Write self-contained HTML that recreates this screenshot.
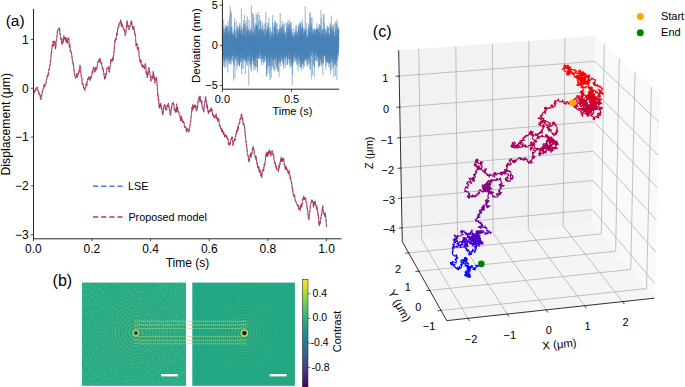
<!DOCTYPE html>
<html><head><meta charset="utf-8"><style>
html,body{margin:0;padding:0;background:#fff;}
svg{display:block;}
text{font-family:"Liberation Sans", sans-serif;fill:#000;}
</style></head><body>
<svg width="685" height="387" viewBox="0 0 685 387">
<defs><filter id="nz" x="0" y="0" width="100%" height="100%"><feTurbulence type="fractalNoise" baseFrequency="0.6" numOctaves="2" seed="3" result="t"/><feColorMatrix in="t" type="matrix" values="0 0 0 0 0.40  0 0 0 0 0.80  0 0 0 0 0.38  0 0 0 2.2 -1.0"/></filter><filter id="nz2" x="0" y="0" width="100%" height="100%"><feTurbulence type="fractalNoise" baseFrequency="0.55" numOctaves="1" seed="11" result="t"/><feColorMatrix in="t" type="matrix" values="0 0 0 0 0.13  0 0 0 0 0.55  0 0 0 0 0.55  0 0 0 2.2 -1.0"/></filter><radialGradient id="rgL" cx="135.9" cy="333.0" r="3.45" gradientUnits="userSpaceOnUse" spreadMethod="repeat"><stop offset="0.0000" stop-color="#57c566"/><stop offset="0.0625" stop-color="#52bf6a"/><stop offset="0.1250" stop-color="#49b670"/><stop offset="0.1875" stop-color="#3faa78"/><stop offset="0.2500" stop-color="#359e80"/><stop offset="0.3125" stop-color="#2c9487"/><stop offset="0.3750" stop-color="#268c8c"/><stop offset="0.4375" stop-color="#23898e"/><stop offset="0.5000" stop-color="#248b8d"/><stop offset="0.5625" stop-color="#299189"/><stop offset="0.6250" stop-color="#329a83"/><stop offset="0.6875" stop-color="#3ca67b"/><stop offset="0.7500" stop-color="#46b273"/><stop offset="0.8125" stop-color="#4fbc6c"/><stop offset="0.8750" stop-color="#55c467"/><stop offset="0.9375" stop-color="#58c765"/><stop offset="1.0000" stop-color="#57c566"/></radialGradient><radialGradient id="rgLm" cx="135.9" cy="333.0" r="55" gradientUnits="userSpaceOnUse"><stop offset="0" stop-color="#fff" stop-opacity="0.7"/><stop offset="0.2" stop-color="#fff" stop-opacity="0.38"/><stop offset="0.5" stop-color="#fff" stop-opacity="0.16"/><stop offset="1" stop-color="#fff" stop-opacity="0"/></radialGradient><mask id="rgLk" maskUnits="userSpaceOnUse" x="0" y="0" width="685" height="387"><circle cx="135.9" cy="333.0" r="55" fill="url(#rgLm)"/></mask><radialGradient id="rgR" cx="244.4" cy="333.1" r="3.0" gradientUnits="userSpaceOnUse" spreadMethod="repeat"><stop offset="0.0000" stop-color="#43b674"/><stop offset="0.0625" stop-color="#49be6f"/><stop offset="0.1250" stop-color="#4dc26c"/><stop offset="0.1875" stop-color="#4ec36b"/><stop offset="0.2500" stop-color="#4bbf6d"/><stop offset="0.3125" stop-color="#45b972"/><stop offset="0.3750" stop-color="#3daf78"/><stop offset="0.4375" stop-color="#35a57e"/><stop offset="0.5000" stop-color="#2c9b84"/><stop offset="0.5625" stop-color="#269389"/><stop offset="0.6250" stop-color="#228f8c"/><stop offset="0.6875" stop-color="#218e8d"/><stop offset="0.7500" stop-color="#24928b"/><stop offset="0.8125" stop-color="#2a9886"/><stop offset="0.8750" stop-color="#32a280"/><stop offset="0.9375" stop-color="#3aac7a"/><stop offset="1.0000" stop-color="#43b674"/></radialGradient><radialGradient id="rgRm" cx="244.4" cy="333.1" r="80" gradientUnits="userSpaceOnUse"><stop offset="0" stop-color="#fff" stop-opacity="0.9"/><stop offset="0.08" stop-color="#fff" stop-opacity="0.65"/><stop offset="0.25" stop-color="#fff" stop-opacity="0.25"/><stop offset="0.5" stop-color="#fff" stop-opacity="0.06"/><stop offset="1" stop-color="#fff" stop-opacity="0"/></radialGradient><mask id="rgRk" maskUnits="userSpaceOnUse" x="0" y="0" width="685" height="387"><circle cx="244.4" cy="333.1" r="80" fill="url(#rgRm)"/></mask><clipPath id="cL"><rect x="82" y="282.6" width="104" height="103.2"/></clipPath><clipPath id="cR"><rect x="192.3" y="282.6" width="102.6" height="103.2"/></clipPath><linearGradient id="cbg" x1="0" y1="279.3" x2="0" y2="387.3" gradientUnits="userSpaceOnUse"><stop offset="0.00" stop-color="#fde725"/><stop offset="0.05" stop-color="#dfe318"/><stop offset="0.10" stop-color="#bddf26"/><stop offset="0.15" stop-color="#9bd93c"/><stop offset="0.20" stop-color="#7ad151"/><stop offset="0.25" stop-color="#5ec962"/><stop offset="0.30" stop-color="#44bf70"/><stop offset="0.35" stop-color="#2fb47c"/><stop offset="0.40" stop-color="#22a884"/><stop offset="0.45" stop-color="#1e9c89"/><stop offset="0.50" stop-color="#21918c"/><stop offset="0.55" stop-color="#25848e"/><stop offset="0.60" stop-color="#2a788e"/><stop offset="0.65" stop-color="#2f6c8e"/><stop offset="0.70" stop-color="#355f8d"/><stop offset="0.75" stop-color="#3b528b"/><stop offset="0.80" stop-color="#414487"/><stop offset="0.85" stop-color="#463480"/><stop offset="0.90" stop-color="#482475"/><stop offset="0.95" stop-color="#471365"/><stop offset="1.00" stop-color="#440154"/></linearGradient></defs>
<rect width="685" height="387" fill="#fff"/>
<text x="5.7" y="26.1" font-size="15.5">(a)</text>
<polyline points="33.5,94.4 33.8,93.8 34.1,93.1 34.4,90.4 34.7,91.5 35,91.1 35.3,91.1 35.6,89.5 35.9,90.2 36.2,87.9 36.5,87.4 36.8,87.9 37.1,88.7 37.4,87.5 37.7,89 38,91 38.3,91.8 38.6,91.6 38.9,94.1 39.2,92.8 39.5,94 39.8,93.8 40.1,96 40.4,97.8 40.7,97.3 41,99.8 41.3,95.4 41.6,96.2 41.9,94.6 42.2,92.1 42.5,90.7 42.8,90.8 43.1,89.1 43.4,88 43.7,88 44,85 44.3,86.5 44.6,84.2 44.9,86.4 45.2,84.4 45.5,83.8 45.8,83.9 46.1,83 46.4,79.9 46.7,79.1 47,77.3 47.3,75.3 47.6,75.3 47.9,76.5 48.2,73.2 48.5,74.3 48.8,69.4 49.1,69.8 49.4,67.9 49.7,66.4 50,65.2 50.3,63.8 50.6,59.7 50.9,57.9 51.2,53.3 51.5,52.6 51.8,48.4 52.1,47.1 52.4,44.7 52.7,46.1 53,41 53.3,43.6 53.6,45.8 53.9,42.9 54.2,41.4 54.5,42.8 54.8,41.4 55.1,44.4 55.4,48.7 55.7,48.3 56,43.5 56.3,40.9 56.6,38.7 56.9,37.6 57.2,33.8 57.5,31.1 57.8,30.3 58.1,30.2 58.4,29.3 58.7,28.9 59,28.1 59.3,29.9 59.6,28.3 59.9,33.7 60.2,33.5 60.5,36 60.8,39.3 61.1,39.2 61.4,38.3 61.7,42 62,44.2 62.3,42.2 62.6,43.4 62.9,42.5 63.2,38.5 63.5,41.6 63.8,35.5 64.1,36.8 64.4,39 64.7,37.8 65,37.6 65.3,38.6 65.6,39.1 65.9,41.4 66.2,37.9 66.5,42 66.8,42.4 67.1,43.4 67.4,42.7 67.7,39.9 68,38 68.3,38.6 68.6,38.2 68.9,39.7 69.2,45.1 69.5,47.5 69.8,44.4 70.1,48.5 70.4,51.7 70.7,50.6 71,52.4 71.3,52.4 71.6,54.8 71.9,56.1 72.2,58.3 72.5,61.2 72.8,62.2 73.1,64.1 73.4,63.7 73.7,67.8 74,69.4 74.3,71.9 74.6,74.9 74.9,75.7 75.2,76.9 75.5,78 75.8,77.1 76.1,76.8 76.4,75.9 76.7,76.7 77,73.4 77.3,77.4 77.6,75.6 77.9,74.8 78.2,74.3 78.5,72.6 78.8,72.6 79.1,70 79.4,71.5 79.7,67.9 80,65 80.3,67.9 80.6,67.7 80.9,73.4 81.2,76.3 81.5,77.1 81.8,76.9 82.1,80.8 82.4,84.5 82.7,83.5 83,83.7 83.3,84.8 83.6,88.1 83.9,87.7 84.2,87.6 84.5,88.4 84.8,90.2 85.1,89.3 85.4,87.6 85.7,87.1 86,83.9 86.3,85 86.6,83.8 86.9,85.8 87.2,80.8 87.5,80.2 87.8,78.5 88.1,78.4 88.4,79.1 88.7,77.2 89,76.9 89.3,76.8 89.6,78.2 89.9,80.3 90.2,79.2 90.5,76.7 90.8,78.1 91.1,78.2 91.4,77.1 91.7,74.6 92,74.1 92.3,71.2 92.6,71.1 92.9,72.4 93.2,67 93.5,67.6 93.8,68.7 94.1,68.2 94.4,68.2 94.7,70.6 95,71.7 95.3,70.8 95.6,67.4 95.9,70.4 96.2,68.9 96.5,68.5 96.8,68.9 97.1,67 97.4,64.6 97.7,61.9 98,62.6 98.3,61.7 98.6,60.6 98.9,61.4 99.2,59.2 99.5,60 99.8,61.4 100.1,58.5 100.4,61.9 100.7,62 101,63.7 101.3,62.5 101.6,64.4 101.9,65.9 102.2,67.5 102.5,68.9 102.8,68 103.1,69.3 103.4,69.9 103.7,74.2 104,73.3 104.3,76.4 104.6,79 104.9,78 105.2,76.3 105.5,78 105.8,75.5 106.1,73.4 106.4,74.5 106.7,70.9 107,67.7 107.3,68.2 107.6,68.8 107.9,67.7 108.2,67.4 108.5,66.9 108.8,68.8 109.1,71.8 109.4,72.1 109.7,69.6 110,67.1 110.3,66.4 110.6,63.6 110.9,59.3 111.2,60.6 111.5,60.7 111.8,59.9 112.1,61.4 112.4,59.5 112.7,57.5 113,60.5 113.3,57.3 113.6,55.1 113.9,52.7 114.2,50.4 114.5,47.1 114.8,40.2 115.1,41.5 115.4,40.6 115.7,38.1 116,39 116.3,39.4 116.6,34.1 116.9,32.2 117.2,34.9 117.5,30.8 117.8,27.8 118.1,28.2 118.4,27.1 118.7,25.3 119,26.1 119.3,23.2 119.6,23.1 119.9,23.6 120.2,23.6 120.5,20 120.8,22 121.1,21.9 121.4,26.2 121.7,22.9 122,26.1 122.3,25 122.6,25.2 122.9,26.7 123.2,27.5 123.5,29.8 123.8,29.8 124.1,29.3 124.4,29.7 124.7,31.3 125,33.4 125.3,35.6 125.6,34.2 125.9,32.6 126.2,30.2 126.5,26.4 126.8,22.9 127.1,21 127.4,21.8 127.7,26.7 128,25 128.3,27.5 128.6,27.7 128.9,29.7 129.2,29.2 129.5,26.3 129.8,25.7 130.1,26.3 130.4,25 130.7,22.5 131,22 131.3,24.8 131.6,20.6 131.9,24.1 132.2,25.1 132.5,27.1 132.8,28.7 133.1,27.6 133.4,29.7 133.7,26.4 134,29.6 134.3,29.8 134.6,32.4 134.9,34.4 135.2,33.8 135.5,38 135.8,41.3 136.1,45.9 136.4,45.8 136.7,45.8 137,43.3 137.3,47.6 137.6,49.9 137.9,49.2 138.2,49 138.5,47.4 138.8,51.6 139.1,56.6 139.4,56.6 139.7,60.1 140,61.3 140.3,59.5 140.6,62.7 140.9,60 141.2,61.5 141.5,63 141.8,65.7 142.1,66.1 142.4,66.9 142.7,65.1 143,65.7 143.3,67 143.6,66.1 143.9,67.2 144.2,68.3 144.5,68.7 144.8,65.1 145.1,65 145.4,63.6 145.7,65.7 146,69.8 146.3,74.1 146.6,71.3 146.9,73.5 147.2,77.4 147.5,75.5 147.8,73.1 148.1,74.6 148.4,69.9 148.7,68.5 149,67.8 149.3,70.7 149.6,72.5 149.9,73 150.2,75.6 150.5,79.3 150.8,81.2 151.1,79.9 151.4,79.8 151.7,79.7 152,75.9 152.3,77.3 152.6,78.2 152.9,74.9 153.2,71.6 153.5,73.9 153.8,76.7 154.1,78.6 154.4,75.9 154.7,83.3 155,78.8 155.3,80.3 155.6,81 155.9,80.8 156.2,78 156.5,77.1 156.8,82.3 157.1,85.3 157.4,86.4 157.7,96 158,94.7 158.3,100.1 158.6,98.7 158.9,105.2 159.2,107.1 159.5,108.1 159.8,105.2 160.1,103.7 160.4,106.2 160.7,103.2 161,105.2 161.3,108.6 161.6,107.8 161.9,109.8 162.2,110.9 162.5,114.8 162.8,114.9 163.1,111.5 163.4,111.7 163.7,107.3 164,105.7 164.3,106 164.6,104.5 164.9,105.7 165.2,105.5 165.5,107.9 165.8,110.1 166.1,108.8 166.4,109.9 166.7,108.4 167,106.1 167.3,105 167.6,106.9 167.9,106.1 168.2,103.8 168.5,103.5 168.8,107.3 169.1,107.5 169.4,109.7 169.7,110.5 170,112.1 170.3,115 170.6,113.6 170.9,112.5 171.2,108.3 171.5,109.3 171.8,106 172.1,105.2 172.4,103.1 172.7,104.2 173,104.2 173.3,102.4 173.6,104.1 173.9,104.5 174.2,108.3 174.5,110.3 174.8,110.3 175.1,110.6 175.4,112.3 175.7,108.9 176,111.8 176.3,108.1 176.6,103.9 176.9,111.8 177.2,110 177.5,107.1 177.8,109.7 178.1,110.5 178.4,111.9 178.7,112.2 179,113.4 179.3,114.7 179.6,114.7 179.9,116 180.2,116.3 180.5,120.7 180.8,117.2 181.1,118.3 181.4,116.2 181.7,119 182,121 182.3,119.5 182.6,121.5 182.9,122.4 183.2,121.2 183.5,122.6 183.8,122.3 184.1,122.5 184.4,126 184.7,127.3 185,126.4 185.3,126.3 185.6,127.2 185.9,127.2 186.2,129.2 186.5,131.7 186.8,129.9 187.1,128.5 187.4,128.8 187.7,128.4 188,129.8 188.3,131.6 188.6,131.9 188.9,130.5 189.2,131 189.5,128.2 189.8,127 190.1,124.2 190.4,124.1 190.7,120.3 191,118.9 191.3,115 191.6,112.8 191.9,107.2 192.2,107.6 192.5,109.9 192.8,104.6 193.1,107.8 193.4,108.6 193.7,106.1 194,106.7 194.3,106.7 194.6,105 194.9,107.2 195.2,105.2 195.5,106.7 195.8,108 196.1,109.7 196.4,110.9 196.7,110.5 197,106 197.3,108.6 197.6,105.7 197.9,103.8 198.2,100.1 198.5,99.2 198.8,98.6 199.1,98.8 199.4,96.2 199.7,100.1 200,102 200.3,96.5 200.6,100.7 200.9,100.4 201.2,100.4 201.5,103.3 201.8,101.4 202.1,104.9 202.4,108.3 202.7,107.8 203,107.8 203.3,110.4 203.6,110.8 203.9,111.8 204.2,106.7 204.5,105.7 204.8,101.6 205.1,101.8 205.4,98 205.7,97 206,101 206.3,100.4 206.6,102.3 206.9,107.6 207.2,105 207.5,106 207.8,111.2 208.1,111.2 208.4,113.5 208.7,112.1 209,110.1 209.3,111 209.6,112.4 209.9,111.8 210.2,110.1 210.5,110.4 210.8,109 211.1,107.8 211.4,110.9 211.7,108.9 212,109.4 212.3,111.6 212.6,114.1 212.9,115.5 213.2,114.9 213.5,114.3 213.8,117 214.1,115.9 214.4,116.7 214.7,118.2 215,116.4 215.3,117.1 215.6,117.4 215.9,114.9 216.2,114 216.5,118.3 216.8,118 217.1,117.4 217.4,119.8 217.7,120.9 218,117.9 218.3,119.7 218.6,120.5 218.9,119.5 219.2,123.9 219.5,125.3 219.8,126 220.1,125.1 220.4,127.9 220.7,128.3 221,128.7 221.3,127.8 221.6,131.5 221.9,128.9 222.2,130.2 222.5,132.4 222.8,130.8 223.1,131 223.4,134.4 223.7,132.4 224,133.1 224.3,134.3 224.6,136.8 224.9,134.3 225.2,135.7 225.5,135.6 225.8,136.2 226.1,136.1 226.4,135.1 226.7,137.6 227,136.7 227.3,138.6 227.6,138.7 227.9,138.3 228.2,140.5 228.5,144.4 228.8,143.4 229.1,142.8 229.4,145.1 229.7,143.1 230,144.1 230.3,144.1 230.6,140.2 230.9,139.8 231.2,139.9 231.5,137.7 231.8,138.4 232.1,136.7 232.4,138.1 232.7,140.4 233,145.5 233.3,142.5 233.6,141.3 233.9,141.3 234.2,140.6 234.5,139.9 234.8,138.5 235.1,140.4 235.4,136.7 235.7,136.4 236,133.5 236.3,134.1 236.6,130.6 236.9,131.9 237.2,131.4 237.5,130.7 237.8,126.9 238.1,130 238.4,126.6 238.7,125.2 239,123.4 239.3,123.3 239.6,123.2 239.9,119.7 240.2,118.9 240.5,119.1 240.8,118.4 241.1,115.3 241.4,114.2 241.7,114.1 242,117.5 242.3,120.2 242.6,117.7 242.9,122.1 243.2,124 243.5,123.2 243.8,125.3 244.1,124.4 244.4,125.5 244.7,128.6 245,131.4 245.3,135.2 245.6,138.5 245.9,141.8 246.2,141.9 246.5,146.1 246.8,146.7 247.1,150 247.4,153.3 247.7,154.5 248,155.6 248.3,156.5 248.6,159.7 248.9,161.5 249.2,162 249.5,158.6 249.8,157.8 250.1,155 250.4,156.8 250.7,153.2 251,157.2 251.3,155.5 251.6,154.1 251.9,153 252.2,152 252.5,149.1 252.8,148.6 253.1,146.5 253.4,146.7 253.7,149.7 254,149.5 254.3,154.3 254.6,154.6 254.9,155.7 255.2,155.8 255.5,157.3 255.8,159.3 256.1,156.5 256.4,159.9 256.7,162 257,164.1 257.3,162.7 257.6,166.5 257.9,167.5 258.2,167.4 258.5,169 258.8,166.6 259.1,170.9 259.4,170 259.7,172.3 260,169.5 260.3,172.6 260.6,171.9 260.9,175.7 261.2,174.2 261.5,174.5 261.8,177.5 262.1,173.1 262.4,171.3 262.7,170.5 263,169.3 263.3,171.2 263.6,170.9 263.9,167.7 264.2,164.3 264.5,166.3 264.8,164 265.1,163 265.4,160.3 265.7,155.5 266,154.4 266.3,152.9 266.6,152.8 266.9,156.4 267.2,152.8 267.5,156.7 267.8,153.3 268.1,151.6 268.4,153.5 268.7,154.6 269,151.9 269.3,150 269.6,151.5 269.9,152.9 270.2,151.5 270.5,152.1 270.8,156 271.1,154.7 271.4,151.9 271.7,152.1 272,150.7 272.3,150.9 272.6,152.7 272.9,155.3 273.2,154.9 273.5,154.2 273.8,158.1 274.1,160.5 274.4,161 274.7,163.2 275,162.2 275.3,163.4 275.6,167 275.9,165.7 276.2,165.6 276.5,169.3 276.8,168 277.1,169.5 277.4,169.5 277.7,169.8 278,170.7 278.3,171.2 278.6,170.5 278.9,165.2 279.2,168.2 279.5,164.8 279.8,163.2 280.1,164.3 280.4,161.7 280.7,159.1 281,161.5 281.3,157.2 281.6,159.2 281.9,161 282.2,161.6 282.5,158.8 282.8,160 283.1,158.4 283.4,159.9 283.7,158.5 284,161.1 284.3,165.2 284.6,164.6 284.9,166 285.2,169.2 285.5,167.1 285.8,166.1 286.1,169 286.4,167.4 286.7,169.6 287,170.2 287.3,169.4 287.6,170.6 287.9,172.3 288.2,172.2 288.5,172.1 288.8,174.1 289.1,170.5 289.4,172.6 289.7,174.9 290,176.2 290.3,178.6 290.6,177.3 290.9,181.2 291.2,181.2 291.5,181.9 291.8,184.4 292.1,186.8 292.4,189.8 292.7,189.3 293,192 293.3,195.3 293.6,195.8 293.9,196.1 294.2,194.6 294.5,194.5 294.8,198.1 295.1,199 295.4,201.1 295.7,200.9 296,201.7 296.3,202.1 296.6,203.8 296.9,204.3 297.2,204.6 297.5,204.8 297.8,206.5 298.1,207 298.4,205.3 298.7,208.9 299,207.7 299.3,209.3 299.6,208.7 299.9,208.2 300.2,210.5 300.5,206.9 300.8,204.3 301.1,204.5 301.4,205.2 301.7,207.1 302,203.4 302.3,203.6 302.6,199.2 302.9,199.7 303.2,198 303.5,199 303.8,196.2 304.1,199.5 304.4,199.1 304.7,198.1 305,199.4 305.3,199.1 305.6,197.7 305.9,200.5 306.2,202.6 306.5,202.6 306.8,203.9 307.1,208.9 307.4,208.4 307.7,211.5 308,214.7 308.3,214.5 308.6,218.8 308.9,219.3 309.2,216.5 309.5,214 309.8,211.5 310.1,209.9 310.4,205.6 310.7,203.8 311,202.7 311.3,202.3 311.6,199.9 311.9,200.7 312.2,200.1 312.5,201.4 312.8,202.5 313.1,201.9 313.4,207 313.7,206 314,203.3 314.3,201.8 314.6,204.8 314.9,202.7 315.2,201.3 315.5,203.1 315.8,204.6 316.1,206.4 316.4,205.8 316.7,209.4 317,206.8 317.3,210.3 317.6,210 317.9,215.4 318.2,214 318.5,216.6 318.8,221.9 319.1,225.6 319.4,224.7 319.7,224.5 320,221.5 320.3,223.1 320.6,220.2 320.9,218.5 321.2,215.4 321.5,214.6 321.8,212.9 322.1,210.5 322.4,208.6 322.7,205.8 323,209.6 323.3,210.9 323.6,213.2 323.9,212.9 324.2,214.4 324.5,213.4 324.8,216.1 325.1,213 325.4,214.3 325.7,216.9 326,219.4 326.3,223 326.6,227.2" fill="none" stroke="#94aae2" stroke-width="1.35" stroke-dasharray="3.2 1.4" stroke-linejoin="round"/>
<polyline points="33.5,94.4 33.8,93.8 34.1,93.1 34.4,90.4 34.7,91.5 35,91.1 35.3,91.1 35.6,89.5 35.9,90.2 36.2,87.9 36.5,87.4 36.8,87.9 37.1,88.7 37.4,87.5 37.7,89 38,91 38.3,91.8 38.6,91.6 38.9,94.1 39.2,92.8 39.5,94 39.8,93.8 40.1,96 40.4,97.8 40.7,97.3 41,99.8 41.3,95.4 41.6,96.2 41.9,94.6 42.2,92.1 42.5,90.7 42.8,90.8 43.1,89.1 43.4,88 43.7,88 44,85 44.3,86.5 44.6,84.2 44.9,86.4 45.2,84.4 45.5,83.8 45.8,83.9 46.1,83 46.4,79.9 46.7,79.1 47,77.3 47.3,75.3 47.6,75.3 47.9,76.5 48.2,73.2 48.5,74.3 48.8,69.4 49.1,69.8 49.4,67.9 49.7,66.4 50,65.2 50.3,63.8 50.6,59.7 50.9,57.9 51.2,53.3 51.5,52.6 51.8,48.4 52.1,47.1 52.4,44.7 52.7,46.1 53,41 53.3,43.6 53.6,45.8 53.9,42.9 54.2,41.4 54.5,42.8 54.8,41.4 55.1,44.4 55.4,48.7 55.7,48.3 56,43.5 56.3,40.9 56.6,38.7 56.9,37.6 57.2,33.8 57.5,31.1 57.8,30.3 58.1,30.2 58.4,29.3 58.7,28.9 59,28.1 59.3,29.9 59.6,28.3 59.9,33.7 60.2,33.5 60.5,36 60.8,39.3 61.1,39.2 61.4,38.3 61.7,42 62,44.2 62.3,42.2 62.6,43.4 62.9,42.5 63.2,38.5 63.5,41.6 63.8,35.5 64.1,36.8 64.4,39 64.7,37.8 65,37.6 65.3,38.6 65.6,39.1 65.9,41.4 66.2,37.9 66.5,42 66.8,42.4 67.1,43.4 67.4,42.7 67.7,39.9 68,38 68.3,38.6 68.6,38.2 68.9,39.7 69.2,45.1 69.5,47.5 69.8,44.4 70.1,48.5 70.4,51.7 70.7,50.6 71,52.4 71.3,52.4 71.6,54.8 71.9,56.1 72.2,58.3 72.5,61.2 72.8,62.2 73.1,64.1 73.4,63.7 73.7,67.8 74,69.4 74.3,71.9 74.6,74.9 74.9,75.7 75.2,76.9 75.5,78 75.8,77.1 76.1,76.8 76.4,75.9 76.7,76.7 77,73.4 77.3,77.4 77.6,75.6 77.9,74.8 78.2,74.3 78.5,72.6 78.8,72.6 79.1,70 79.4,71.5 79.7,67.9 80,65 80.3,67.9 80.6,67.7 80.9,73.4 81.2,76.3 81.5,77.1 81.8,76.9 82.1,80.8 82.4,84.5 82.7,83.5 83,83.7 83.3,84.8 83.6,88.1 83.9,87.7 84.2,87.6 84.5,88.4 84.8,90.2 85.1,89.3 85.4,87.6 85.7,87.1 86,83.9 86.3,85 86.6,83.8 86.9,85.8 87.2,80.8 87.5,80.2 87.8,78.5 88.1,78.4 88.4,79.1 88.7,77.2 89,76.9 89.3,76.8 89.6,78.2 89.9,80.3 90.2,79.2 90.5,76.7 90.8,78.1 91.1,78.2 91.4,77.1 91.7,74.6 92,74.1 92.3,71.2 92.6,71.1 92.9,72.4 93.2,67 93.5,67.6 93.8,68.7 94.1,68.2 94.4,68.2 94.7,70.6 95,71.7 95.3,70.8 95.6,67.4 95.9,70.4 96.2,68.9 96.5,68.5 96.8,68.9 97.1,67 97.4,64.6 97.7,61.9 98,62.6 98.3,61.7 98.6,60.6 98.9,61.4 99.2,59.2 99.5,60 99.8,61.4 100.1,58.5 100.4,61.9 100.7,62 101,63.7 101.3,62.5 101.6,64.4 101.9,65.9 102.2,67.5 102.5,68.9 102.8,68 103.1,69.3 103.4,69.9 103.7,74.2 104,73.3 104.3,76.4 104.6,79 104.9,78 105.2,76.3 105.5,78 105.8,75.5 106.1,73.4 106.4,74.5 106.7,70.9 107,67.7 107.3,68.2 107.6,68.8 107.9,67.7 108.2,67.4 108.5,66.9 108.8,68.8 109.1,71.8 109.4,72.1 109.7,69.6 110,67.1 110.3,66.4 110.6,63.6 110.9,59.3 111.2,60.6 111.5,60.7 111.8,59.9 112.1,61.4 112.4,59.5 112.7,57.5 113,60.5 113.3,57.3 113.6,55.1 113.9,52.7 114.2,50.4 114.5,47.1 114.8,40.2 115.1,41.5 115.4,40.6 115.7,38.1 116,39 116.3,39.4 116.6,34.1 116.9,32.2 117.2,34.9 117.5,30.8 117.8,27.8 118.1,28.2 118.4,27.1 118.7,25.3 119,26.1 119.3,23.2 119.6,23.1 119.9,23.6 120.2,23.6 120.5,20 120.8,22 121.1,21.9 121.4,26.2 121.7,22.9 122,26.1 122.3,25 122.6,25.2 122.9,26.7 123.2,27.5 123.5,29.8 123.8,29.8 124.1,29.3 124.4,29.7 124.7,31.3 125,33.4 125.3,35.6 125.6,34.2 125.9,32.6 126.2,30.2 126.5,26.4 126.8,22.9 127.1,21 127.4,21.8 127.7,26.7 128,25 128.3,27.5 128.6,27.7 128.9,29.7 129.2,29.2 129.5,26.3 129.8,25.7 130.1,26.3 130.4,25 130.7,22.5 131,22 131.3,24.8 131.6,20.6 131.9,24.1 132.2,25.1 132.5,27.1 132.8,28.7 133.1,27.6 133.4,29.7 133.7,26.4 134,29.6 134.3,29.8 134.6,32.4 134.9,34.4 135.2,33.8 135.5,38 135.8,41.3 136.1,45.9 136.4,45.8 136.7,45.8 137,43.3 137.3,47.6 137.6,49.9 137.9,49.2 138.2,49 138.5,47.4 138.8,51.6 139.1,56.6 139.4,56.6 139.7,60.1 140,61.3 140.3,59.5 140.6,62.7 140.9,60 141.2,61.5 141.5,63 141.8,65.7 142.1,66.1 142.4,66.9 142.7,65.1 143,65.7 143.3,67 143.6,66.1 143.9,67.2 144.2,68.3 144.5,68.7 144.8,65.1 145.1,65 145.4,63.6 145.7,65.7 146,69.8 146.3,74.1 146.6,71.3 146.9,73.5 147.2,77.4 147.5,75.5 147.8,73.1 148.1,74.6 148.4,69.9 148.7,68.5 149,67.8 149.3,70.7 149.6,72.5 149.9,73 150.2,75.6 150.5,79.3 150.8,81.2 151.1,79.9 151.4,79.8 151.7,79.7 152,75.9 152.3,77.3 152.6,78.2 152.9,74.9 153.2,71.6 153.5,73.9 153.8,76.7 154.1,78.6 154.4,75.9 154.7,83.3 155,78.8 155.3,80.3 155.6,81 155.9,80.8 156.2,78 156.5,77.1 156.8,82.3 157.1,85.3 157.4,86.4 157.7,96 158,94.7 158.3,100.1 158.6,98.7 158.9,105.2 159.2,107.1 159.5,108.1 159.8,105.2 160.1,103.7 160.4,106.2 160.7,103.2 161,105.2 161.3,108.6 161.6,107.8 161.9,109.8 162.2,110.9 162.5,114.8 162.8,114.9 163.1,111.5 163.4,111.7 163.7,107.3 164,105.7 164.3,106 164.6,104.5 164.9,105.7 165.2,105.5 165.5,107.9 165.8,110.1 166.1,108.8 166.4,109.9 166.7,108.4 167,106.1 167.3,105 167.6,106.9 167.9,106.1 168.2,103.8 168.5,103.5 168.8,107.3 169.1,107.5 169.4,109.7 169.7,110.5 170,112.1 170.3,115 170.6,113.6 170.9,112.5 171.2,108.3 171.5,109.3 171.8,106 172.1,105.2 172.4,103.1 172.7,104.2 173,104.2 173.3,102.4 173.6,104.1 173.9,104.5 174.2,108.3 174.5,110.3 174.8,110.3 175.1,110.6 175.4,112.3 175.7,108.9 176,111.8 176.3,108.1 176.6,103.9 176.9,111.8 177.2,110 177.5,107.1 177.8,109.7 178.1,110.5 178.4,111.9 178.7,112.2 179,113.4 179.3,114.7 179.6,114.7 179.9,116 180.2,116.3 180.5,120.7 180.8,117.2 181.1,118.3 181.4,116.2 181.7,119 182,121 182.3,119.5 182.6,121.5 182.9,122.4 183.2,121.2 183.5,122.6 183.8,122.3 184.1,122.5 184.4,126 184.7,127.3 185,126.4 185.3,126.3 185.6,127.2 185.9,127.2 186.2,129.2 186.5,131.7 186.8,129.9 187.1,128.5 187.4,128.8 187.7,128.4 188,129.8 188.3,131.6 188.6,131.9 188.9,130.5 189.2,131 189.5,128.2 189.8,127 190.1,124.2 190.4,124.1 190.7,120.3 191,118.9 191.3,115 191.6,112.8 191.9,107.2 192.2,107.6 192.5,109.9 192.8,104.6 193.1,107.8 193.4,108.6 193.7,106.1 194,106.7 194.3,106.7 194.6,105 194.9,107.2 195.2,105.2 195.5,106.7 195.8,108 196.1,109.7 196.4,110.9 196.7,110.5 197,106 197.3,108.6 197.6,105.7 197.9,103.8 198.2,100.1 198.5,99.2 198.8,98.6 199.1,98.8 199.4,96.2 199.7,100.1 200,102 200.3,96.5 200.6,100.7 200.9,100.4 201.2,100.4 201.5,103.3 201.8,101.4 202.1,104.9 202.4,108.3 202.7,107.8 203,107.8 203.3,110.4 203.6,110.8 203.9,111.8 204.2,106.7 204.5,105.7 204.8,101.6 205.1,101.8 205.4,98 205.7,97 206,101 206.3,100.4 206.6,102.3 206.9,107.6 207.2,105 207.5,106 207.8,111.2 208.1,111.2 208.4,113.5 208.7,112.1 209,110.1 209.3,111 209.6,112.4 209.9,111.8 210.2,110.1 210.5,110.4 210.8,109 211.1,107.8 211.4,110.9 211.7,108.9 212,109.4 212.3,111.6 212.6,114.1 212.9,115.5 213.2,114.9 213.5,114.3 213.8,117 214.1,115.9 214.4,116.7 214.7,118.2 215,116.4 215.3,117.1 215.6,117.4 215.9,114.9 216.2,114 216.5,118.3 216.8,118 217.1,117.4 217.4,119.8 217.7,120.9 218,117.9 218.3,119.7 218.6,120.5 218.9,119.5 219.2,123.9 219.5,125.3 219.8,126 220.1,125.1 220.4,127.9 220.7,128.3 221,128.7 221.3,127.8 221.6,131.5 221.9,128.9 222.2,130.2 222.5,132.4 222.8,130.8 223.1,131 223.4,134.4 223.7,132.4 224,133.1 224.3,134.3 224.6,136.8 224.9,134.3 225.2,135.7 225.5,135.6 225.8,136.2 226.1,136.1 226.4,135.1 226.7,137.6 227,136.7 227.3,138.6 227.6,138.7 227.9,138.3 228.2,140.5 228.5,144.4 228.8,143.4 229.1,142.8 229.4,145.1 229.7,143.1 230,144.1 230.3,144.1 230.6,140.2 230.9,139.8 231.2,139.9 231.5,137.7 231.8,138.4 232.1,136.7 232.4,138.1 232.7,140.4 233,145.5 233.3,142.5 233.6,141.3 233.9,141.3 234.2,140.6 234.5,139.9 234.8,138.5 235.1,140.4 235.4,136.7 235.7,136.4 236,133.5 236.3,134.1 236.6,130.6 236.9,131.9 237.2,131.4 237.5,130.7 237.8,126.9 238.1,130 238.4,126.6 238.7,125.2 239,123.4 239.3,123.3 239.6,123.2 239.9,119.7 240.2,118.9 240.5,119.1 240.8,118.4 241.1,115.3 241.4,114.2 241.7,114.1 242,117.5 242.3,120.2 242.6,117.7 242.9,122.1 243.2,124 243.5,123.2 243.8,125.3 244.1,124.4 244.4,125.5 244.7,128.6 245,131.4 245.3,135.2 245.6,138.5 245.9,141.8 246.2,141.9 246.5,146.1 246.8,146.7 247.1,150 247.4,153.3 247.7,154.5 248,155.6 248.3,156.5 248.6,159.7 248.9,161.5 249.2,162 249.5,158.6 249.8,157.8 250.1,155 250.4,156.8 250.7,153.2 251,157.2 251.3,155.5 251.6,154.1 251.9,153 252.2,152 252.5,149.1 252.8,148.6 253.1,146.5 253.4,146.7 253.7,149.7 254,149.5 254.3,154.3 254.6,154.6 254.9,155.7 255.2,155.8 255.5,157.3 255.8,159.3 256.1,156.5 256.4,159.9 256.7,162 257,164.1 257.3,162.7 257.6,166.5 257.9,167.5 258.2,167.4 258.5,169 258.8,166.6 259.1,170.9 259.4,170 259.7,172.3 260,169.5 260.3,172.6 260.6,171.9 260.9,175.7 261.2,174.2 261.5,174.5 261.8,177.5 262.1,173.1 262.4,171.3 262.7,170.5 263,169.3 263.3,171.2 263.6,170.9 263.9,167.7 264.2,164.3 264.5,166.3 264.8,164 265.1,163 265.4,160.3 265.7,155.5 266,154.4 266.3,152.9 266.6,152.8 266.9,156.4 267.2,152.8 267.5,156.7 267.8,153.3 268.1,151.6 268.4,153.5 268.7,154.6 269,151.9 269.3,150 269.6,151.5 269.9,152.9 270.2,151.5 270.5,152.1 270.8,156 271.1,154.7 271.4,151.9 271.7,152.1 272,150.7 272.3,150.9 272.6,152.7 272.9,155.3 273.2,154.9 273.5,154.2 273.8,158.1 274.1,160.5 274.4,161 274.7,163.2 275,162.2 275.3,163.4 275.6,167 275.9,165.7 276.2,165.6 276.5,169.3 276.8,168 277.1,169.5 277.4,169.5 277.7,169.8 278,170.7 278.3,171.2 278.6,170.5 278.9,165.2 279.2,168.2 279.5,164.8 279.8,163.2 280.1,164.3 280.4,161.7 280.7,159.1 281,161.5 281.3,157.2 281.6,159.2 281.9,161 282.2,161.6 282.5,158.8 282.8,160 283.1,158.4 283.4,159.9 283.7,158.5 284,161.1 284.3,165.2 284.6,164.6 284.9,166 285.2,169.2 285.5,167.1 285.8,166.1 286.1,169 286.4,167.4 286.7,169.6 287,170.2 287.3,169.4 287.6,170.6 287.9,172.3 288.2,172.2 288.5,172.1 288.8,174.1 289.1,170.5 289.4,172.6 289.7,174.9 290,176.2 290.3,178.6 290.6,177.3 290.9,181.2 291.2,181.2 291.5,181.9 291.8,184.4 292.1,186.8 292.4,189.8 292.7,189.3 293,192 293.3,195.3 293.6,195.8 293.9,196.1 294.2,194.6 294.5,194.5 294.8,198.1 295.1,199 295.4,201.1 295.7,200.9 296,201.7 296.3,202.1 296.6,203.8 296.9,204.3 297.2,204.6 297.5,204.8 297.8,206.5 298.1,207 298.4,205.3 298.7,208.9 299,207.7 299.3,209.3 299.6,208.7 299.9,208.2 300.2,210.5 300.5,206.9 300.8,204.3 301.1,204.5 301.4,205.2 301.7,207.1 302,203.4 302.3,203.6 302.6,199.2 302.9,199.7 303.2,198 303.5,199 303.8,196.2 304.1,199.5 304.4,199.1 304.7,198.1 305,199.4 305.3,199.1 305.6,197.7 305.9,200.5 306.2,202.6 306.5,202.6 306.8,203.9 307.1,208.9 307.4,208.4 307.7,211.5 308,214.7 308.3,214.5 308.6,218.8 308.9,219.3 309.2,216.5 309.5,214 309.8,211.5 310.1,209.9 310.4,205.6 310.7,203.8 311,202.7 311.3,202.3 311.6,199.9 311.9,200.7 312.2,200.1 312.5,201.4 312.8,202.5 313.1,201.9 313.4,207 313.7,206 314,203.3 314.3,201.8 314.6,204.8 314.9,202.7 315.2,201.3 315.5,203.1 315.8,204.6 316.1,206.4 316.4,205.8 316.7,209.4 317,206.8 317.3,210.3 317.6,210 317.9,215.4 318.2,214 318.5,216.6 318.8,221.9 319.1,225.6 319.4,224.7 319.7,224.5 320,221.5 320.3,223.1 320.6,220.2 320.9,218.5 321.2,215.4 321.5,214.6 321.8,212.9 322.1,210.5 322.4,208.6 322.7,205.8 323,209.6 323.3,210.9 323.6,213.2 323.9,212.9 324.2,214.4 324.5,213.4 324.8,216.1 325.1,213 325.4,214.3 325.7,216.9 326,219.4 326.3,223 326.6,227.2" fill="none" stroke="#c2283c" stroke-width="1.05" stroke-dasharray="3.4 1.2" stroke-dashoffset="2.3" stroke-linejoin="round" opacity="0.95"/>
<line x1="33.5" y1="9" x2="33.5" y2="239.3" stroke="#262626" stroke-width="1"/>
<line x1="33" y1="238.8" x2="341.6" y2="238.8" stroke="#262626" stroke-width="1"/>
<line x1="30.8" y1="39.46" x2="33.5" y2="39.46" stroke="#262626" stroke-width="0.8"/>
<text x="28.6" y="43.76" font-size="12" text-anchor="end">1</text>
<line x1="30.8" y1="88.27" x2="33.5" y2="88.27" stroke="#262626" stroke-width="0.8"/>
<text x="28.6" y="92.57" font-size="12" text-anchor="end">0</text>
<line x1="30.8" y1="137.08" x2="33.5" y2="137.08" stroke="#262626" stroke-width="0.8"/>
<text x="28.6" y="141.38" font-size="12" text-anchor="end">−1</text>
<line x1="30.8" y1="185.89" x2="33.5" y2="185.89" stroke="#262626" stroke-width="0.8"/>
<text x="28.6" y="190.19" font-size="12" text-anchor="end">−2</text>
<line x1="30.8" y1="234.7" x2="33.5" y2="234.7" stroke="#262626" stroke-width="0.8"/>
<text x="28.6" y="239" font-size="12" text-anchor="end">−3</text>
<line x1="33.3" y1="238.8" x2="33.3" y2="241.3" stroke="#262626" stroke-width="0.8"/>
<text x="33.3" y="252.5" font-size="12" text-anchor="middle">0.0</text>
<line x1="91.94" y1="238.8" x2="91.94" y2="241.3" stroke="#262626" stroke-width="0.8"/>
<text x="91.94" y="252.5" font-size="12" text-anchor="middle">0.2</text>
<line x1="150.58" y1="238.8" x2="150.58" y2="241.3" stroke="#262626" stroke-width="0.8"/>
<text x="150.58" y="252.5" font-size="12" text-anchor="middle">0.4</text>
<line x1="209.22" y1="238.8" x2="209.22" y2="241.3" stroke="#262626" stroke-width="0.8"/>
<text x="209.22" y="252.5" font-size="12" text-anchor="middle">0.6</text>
<line x1="267.86" y1="238.8" x2="267.86" y2="241.3" stroke="#262626" stroke-width="0.8"/>
<text x="267.86" y="252.5" font-size="12" text-anchor="middle">0.8</text>
<line x1="326.5" y1="238.8" x2="326.5" y2="241.3" stroke="#262626" stroke-width="0.8"/>
<text x="326.5" y="252.5" font-size="12" text-anchor="middle">1.0</text>
<text x="187.5" y="266.8" font-size="12" text-anchor="middle">Time (s)</text>
<text transform="translate(9.6,124.2) rotate(-90)" font-size="12.2" text-anchor="middle">Displacement (μm)</text>
<line x1="93" y1="186.3" x2="122.5" y2="186.3" stroke="#4a78d4" stroke-width="1.5" stroke-dasharray="5.1 3.1"/>
<line x1="93" y1="217" x2="122.5" y2="217" stroke="#d03038" stroke-width="1.5" stroke-dasharray="5.1 3.1"/>
<text x="128" y="190.3" font-size="10.8">LSE</text>
<text x="128.4" y="221" font-size="10.8">Proposed model</text>
<polyline points="222.6,42.57 222.63,46.83 222.66,35.86 222.69,33.61 222.72,55.88 222.75,52.88 222.78,30.44 222.81,31.68 222.84,52.47 222.88,56.73 222.91,51.49 222.94,53.03 222.97,60.61 223,44.87 223.03,57.69 223.06,57.01 223.09,36.52 223.12,51.93 223.15,46.04 223.18,39.29 223.21,37.51 223.24,48.6 223.27,44.92 223.3,53.3 223.33,28.51 223.36,39.09 223.4,55.98 223.43,45.31 223.46,34.35 223.49,40.73 223.52,27.72 223.55,32.13 223.58,53.66 223.61,46.72 223.64,57.7 223.67,41.5 223.7,43.89 223.73,19.3 223.76,43.85 223.79,65.52 223.82,51.83 223.85,44.27 223.88,57.45 223.92,53.71 223.95,48.87 223.98,42.06 224.01,46.94 224.04,53.92 224.07,37.76 224.1,50.55 224.13,50.16 224.16,66.62 224.19,52.92 224.22,39.07 224.25,60.94 224.28,46.04 224.31,38.43 224.34,48.98 224.37,43.04 224.4,56.11 224.44,32.72 224.47,34.74 224.5,41.72 224.53,62.26 224.56,55.43 224.59,35.94 224.62,28.84 224.65,42.49 224.68,33.33 224.71,54.72 224.74,47.17 224.77,45.34 224.8,41.27 224.83,60.08 224.86,36.29 224.89,32.61 224.92,56.42 224.96,58.41 224.99,41.97 225.02,51.65 225.05,68.2 225.08,37.56 225.11,43.85 225.14,49.94 225.17,24.98 225.2,43.21 225.23,56.97 225.26,43.79 225.29,55.37 225.32,52.69 225.35,41.63 225.38,50.69 225.41,49.7 225.44,29.27 225.48,37.07 225.51,37.61 225.54,40.25 225.57,40.68 225.6,31.31 225.63,45.54 225.66,27.47 225.69,54.52 225.72,47.81 225.75,58.63 225.78,48.66 225.81,40.35 225.84,31.37 225.87,51.74 225.9,45.3 225.93,48.81 225.96,52.47 226,56.81 226.03,44.77 226.06,62.04 226.09,44.28 226.12,45.15 226.15,51.69 226.18,55.09 226.21,58.69 226.24,27.32 226.27,58.28 226.3,30.34 226.33,39.57 226.36,48.86 226.39,56.5 226.42,35.3 226.45,28.68 226.48,54.35 226.52,48.23 226.55,35.22 226.58,42.11 226.61,26.08 226.64,50.84 226.67,40.12 226.7,57.4 226.73,25.15 226.76,52.39 226.79,66.63 226.82,46.56 226.85,46.69 226.88,26.89 226.91,48.61 226.94,45.47 226.97,39.63 227,30.06 227.04,45.96 227.07,35.33 227.1,40.36 227.13,48.2 227.16,44.6 227.19,45.07 227.22,54.18 227.25,33.65 227.28,58.7 227.31,34.06 227.34,36.15 227.37,46.25 227.4,52.73 227.43,47.53 227.46,40.79 227.49,38.19 227.52,42.59 227.56,35.79 227.59,50.72 227.62,43.09 227.65,60.46 227.68,37.99 227.71,43.87 227.74,49.35 227.77,34.16 227.8,38.69 227.83,72.49 227.86,44.97 227.89,59.37 227.92,35.07 227.95,21.37 227.98,50.35 228.01,44.63 228.04,47.77 228.08,41.97 228.11,39.14 228.14,25.5 228.17,54.86 228.2,30.21 228.23,54.33 228.26,42.68 228.29,34.19 228.32,38.48 228.35,54.39 228.38,52.11 228.41,49.81 228.44,45.84 228.47,34.3 228.5,57.8 228.53,40.85 228.56,39.47 228.6,39.97 228.63,40.86 228.66,30.72 228.69,40.65 228.72,37.09 228.75,39.92 228.78,28.07 228.81,63.66 228.84,33 228.87,47.87 228.9,48.05 228.93,54.69 228.96,63.36 228.99,49.03 229.02,51.97 229.05,40.59 229.08,59.54 229.12,31.55 229.15,42.73 229.18,47.74 229.21,52.19 229.24,52.94 229.27,56.24 229.3,50.6 229.33,45.29 229.36,48.08 229.39,58.98 229.42,47.91 229.45,53.96 229.48,43.81 229.51,16.6 229.54,39.33 229.57,50.18 229.6,61.01 229.64,58.98 229.67,61.6 229.7,38.35 229.73,52.72 229.76,44.38 229.79,51.34 229.82,44.47 229.85,31.84 229.88,55.91 229.91,48.64 229.94,53.12 229.97,36.92 230,55.23 230.03,56.27 230.06,58.72 230.09,58.92 230.12,40.81 230.15,5.74 230.19,54.94 230.22,36.18 230.25,42.93 230.28,55.97 230.31,48.02 230.34,47.59 230.37,52.01 230.4,26.75 230.43,63.72 230.46,41.68 230.49,42.16 230.52,50.94 230.55,43.91 230.58,36.89 230.61,43.88 230.64,41.33 230.67,38.67 230.71,64.93 230.74,31.1 230.77,10.22 230.8,35.9 230.83,35.58 230.86,58.92 230.89,46.49 230.92,53.17 230.95,51.01 230.98,36.03 231.01,57.74 231.04,46.6 231.07,63.74 231.1,46.88 231.13,44.48 231.16,52.14 231.19,52.29 231.23,27.17 231.26,57.01 231.29,55.47 231.32,53.15 231.35,33.8 231.38,12.95 231.41,42.15 231.44,52.26 231.47,51.94 231.5,35.09 231.53,59.4 231.56,31.35 231.59,31.7 231.62,44.67 231.65,35.39 231.68,38.13 231.71,30.37 231.75,55.48 231.78,33.97 231.81,48.97 231.84,52.75 231.87,44.36 231.9,47.42 231.93,54.87 231.96,60.74 231.99,54.43 232.02,31.36 232.05,26.44 232.08,39.09 232.11,33.92 232.14,50.33 232.17,46.09 232.2,42.63 232.23,55.77 232.27,54.89 232.3,43.85 232.33,48.44 232.36,55.6 232.39,41.63 232.42,47.89 232.45,35.51 232.48,45.4 232.51,49.98 232.54,44.12 232.57,47.01 232.6,51.79 232.63,49.22 232.66,38.13 232.69,39.12 232.72,32.96 232.75,61.66 232.79,51.41 232.82,49.34 232.85,43.69 232.88,49.71 232.91,50.3 232.94,37.81 232.97,43.63 233,56.59 233.03,32.49 233.06,35.75 233.09,50.88 233.12,37.34 233.15,52.43 233.18,34.5 233.21,47.45 233.24,53.09 233.27,48.95 233.31,52.73 233.34,42.39 233.37,43.66 233.4,45.01 233.43,50.71 233.46,80.63 233.49,44.46 233.52,63.62 233.55,43 233.58,34.45 233.61,41.13 233.64,49.1 233.67,47.08 233.7,46.63 233.73,50.64 233.76,50.98 233.79,54.25 233.83,33.9 233.86,45.5 233.89,36.14 233.92,47.76 233.95,44.65 233.98,46.99 234.01,40.89 234.04,37.38 234.07,43.04 234.1,51.84 234.13,52.87 234.16,29.36 234.19,48.05 234.22,48.16 234.25,31.23 234.28,34.87 234.31,40.21 234.35,49.2 234.38,22.67 234.41,41.56 234.44,40.08 234.47,47 234.5,58.98 234.53,65.93 234.56,41.43 234.59,41.57 234.62,49.05 234.65,56.64 234.68,59.24 234.71,50.4 234.74,59.38 234.77,36.69 234.8,34.24 234.83,18.09 234.87,36.89 234.9,51.06 234.93,53.75 234.96,78.61 234.99,51.08 235.02,47.06 235.05,36.02 235.08,39.46 235.11,39.68 235.14,43.29 235.17,38.98 235.2,31.4 235.23,55.61 235.26,49.76 235.29,58.73 235.32,29.75 235.35,32.85 235.39,38.1 235.42,56.9 235.45,43.68 235.48,47.61 235.51,44.57 235.54,48.25 235.57,40.34 235.6,51.44 235.63,37.12 235.66,41.63 235.69,48.17 235.72,46.43 235.75,52.14 235.78,37.51 235.81,47.97 235.84,42.51 235.87,49.13 235.91,59.66 235.94,36.62 235.97,55.55 236,38.81 236.03,41.3 236.06,61.31 236.09,54.45 236.12,50.3 236.15,53.26 236.18,56.74 236.21,38.22 236.24,47.66 236.27,41.63 236.3,49.5 236.33,42.41 236.36,52.59 236.39,45.61 236.43,39.74 236.46,44.92 236.49,49.75 236.52,55.82 236.55,43.73 236.58,42.03 236.61,47.84 236.64,52.76 236.67,40.12 236.7,21.44 236.73,48.26 236.76,42.11 236.79,41.71 236.82,70.08 236.85,44.16 236.88,52.16 236.91,32.01 236.95,47.8 236.98,52.84 237.01,47.46 237.04,43.75 237.07,50.75 237.1,45.86 237.13,58.4 237.16,47.52 237.19,37.88 237.22,26.38 237.25,38.54 237.28,42.73 237.31,33.94 237.34,35.53 237.37,29.32 237.4,34.92 237.43,46.49 237.47,42.86 237.5,43.62 237.53,42.44 237.56,43.42 237.59,52.89 237.62,65.62 237.65,51.82 237.68,64.87 237.71,44.7 237.74,45.31 237.77,61.5 237.8,38.72 237.83,31.99 237.86,44.43 237.89,29.28 237.92,27.31 237.95,56.97 237.99,29.37 238.02,41.1 238.05,38.9 238.08,36.35 238.11,52.28 238.14,51.06 238.17,53.32 238.2,52.62 238.23,46.87 238.26,59.34 238.29,55.43 238.32,39.78 238.35,46.03 238.38,41.66 238.41,63.55 238.44,52.9 238.47,50.7 238.51,45.04 238.54,51 238.57,36.36 238.6,45.91 238.63,45.19 238.66,45.22 238.69,38.53 238.72,52.62 238.75,34.53 238.78,40.92 238.81,43.87 238.84,44.95 238.87,40.34 238.9,29.7 238.93,36.24 238.96,41.73 238.99,36.9 239.03,44.21 239.06,33.28 239.09,45.61 239.12,65.35 239.15,32.46 239.18,44.31 239.21,56.63 239.24,48.41 239.27,53.87 239.3,25.11 239.33,40.55 239.36,60.47 239.39,40.09 239.42,49.19 239.45,26.88 239.48,55.49 239.51,67 239.55,44.72 239.58,48.7 239.61,51.77 239.64,65.98 239.67,41.24 239.7,29.23 239.73,63.75 239.76,34.06 239.79,50.83 239.82,22.71 239.85,41.15 239.88,47.16 239.91,34.7 239.94,40.28 239.97,51.06 240,34.4 240.03,50.27 240.07,62.58 240.1,25.77 240.13,48.72 240.16,51.22 240.19,42.09 240.22,60.38 240.25,58.39 240.28,50.16 240.31,50.36 240.34,44.66 240.37,34.53 240.4,49.92 240.43,40.6 240.46,39.55 240.49,62.06 240.52,43.15 240.55,54.43 240.59,35.1 240.62,40.96 240.65,45.19 240.68,58.26 240.71,44.23 240.74,52.74 240.77,34.47 240.8,46.5 240.83,53.18 240.86,31.08 240.89,38.4 240.92,51.07 240.95,34.15 240.98,48.23 241.01,48.33 241.04,44.16 241.07,52.6 241.11,49.61 241.14,46.9 241.17,30.6 241.2,30.9 241.23,47.84 241.26,29.83 241.29,45.77 241.32,41.68 241.35,36.84 241.38,42.54 241.41,8.11 241.44,43.01 241.47,56.89 241.5,32.77 241.53,49.32 241.56,48.28 241.59,74.18 241.63,35.7 241.66,37.46 241.69,37.65 241.72,35.92 241.75,29.06 241.78,45.79 241.81,36.32 241.84,52.52 241.87,48.76 241.9,35.17 241.93,41.58 241.96,58.2 241.99,41.87 242.02,47.11 242.05,57.97 242.08,41.17 242.11,49.25 242.15,60.48 242.18,56.06 242.21,28.3 242.24,68.71 242.27,43.2 242.3,39.47 242.33,39.19 242.36,57.16 242.39,48.45 242.42,43.99 242.45,37.64 242.48,51.56 242.51,56.56 242.54,35.69 242.57,34.7 242.6,41.78 242.63,51.22 242.67,41.43 242.7,44.3 242.73,37.28 242.76,57.39 242.79,44.23 242.82,46.88 242.85,62.46 242.88,43.27 242.91,45.01 242.94,49.3 242.97,41.53 243,59.02 243.03,45.87 243.06,41.19 243.09,42.61 243.12,34.98 243.15,56.92 243.19,68.6 243.22,43.05 243.25,40.96 243.28,24.92 243.31,39.41 243.34,53.77 243.37,32.92 243.4,53.5 243.43,59.67 243.46,20.21 243.49,42.21 243.52,38.46 243.55,36.66 243.58,27.89 243.61,40.97 243.64,33.62 243.67,55.25 243.71,58.76 243.74,31.6 243.77,31.14 243.8,40.43 243.83,43.17 243.86,43.75 243.89,55.96 243.92,30.52 243.95,39 243.98,40.48 244.01,41.73 244.04,35.25 244.07,40.48 244.1,38.17 244.13,56.61 244.16,40.44 244.19,24.27 244.23,50.35 244.26,46.59 244.29,36.76 244.32,36.13 244.35,39.33 244.38,60.94 244.41,40.52 244.44,56.76 244.47,53.3 244.5,40.07 244.53,48.2 244.56,37.55 244.59,15.01 244.62,37.86 244.65,38.38 244.68,53.98 244.71,51.55 244.74,55.6 244.78,50.48 244.81,55.87 244.84,51.71 244.87,47.36 244.9,60.78 244.93,59.02 244.96,58.47 244.99,40.98 245.02,44.77 245.05,35.46 245.08,35.29 245.11,48.63 245.14,38.89 245.17,59.23 245.2,23.35 245.23,26.92 245.26,47.42 245.3,56.56 245.33,41.69 245.36,74.18 245.39,52.86 245.42,38.13 245.45,44.62 245.48,50.08 245.51,36.19 245.54,55.36 245.57,42.61 245.6,50.15 245.63,58.41 245.66,40.88 245.69,60.66 245.72,27.02 245.75,50.98 245.78,26.18 245.82,55.89 245.85,39.51 245.88,56.91 245.91,58.27 245.94,43.81 245.97,38.82 246,57.63 246.03,33.94 246.06,53.04 246.09,44.09 246.12,41.69 246.15,39.62 246.18,62.67 246.21,20.4 246.24,39.94 246.27,49.45 246.3,55.22 246.34,61.67 246.37,58.47 246.4,40.1 246.43,48.64 246.46,56.25 246.49,50.43 246.52,30.28 246.55,48.54 246.58,50.98 246.61,32.34 246.64,40.9 246.67,44.92 246.7,51.21 246.73,60.31 246.76,56.63 246.79,49.98 246.82,47.47 246.86,41.92 246.89,40.03 246.92,43.2 246.95,43.23 246.98,55.06 247.01,66.11 247.04,50.37 247.07,54.54 247.1,51.64 247.13,48 247.16,64.52 247.19,56.05 247.22,46.32 247.25,44.23 247.28,51.67 247.31,40.55 247.34,47.46 247.38,55.18 247.41,44.96 247.44,16.33 247.47,51.85 247.5,34.11 247.53,32.07 247.56,30.91 247.59,53.28 247.62,25.93 247.65,44.23 247.68,47.8 247.71,47.57 247.74,39.55 247.77,44.86 247.8,47.05 247.83,32.98 247.86,52.31 247.9,61.43 247.93,37.71 247.96,38.57 247.99,34.81 248.02,55.68 248.05,34.93 248.08,40.71 248.11,28.37 248.14,57.38 248.17,43.25 248.2,48.02 248.23,60.67 248.26,52.24 248.29,34.49 248.32,49.87 248.35,52.31 248.38,31.96 248.42,30.1 248.45,35.84 248.48,52.96 248.51,45.91 248.54,35.42 248.57,51.67 248.6,52.57 248.63,37.37 248.66,30.3 248.69,56.45 248.72,85.4 248.75,59.33 248.78,55.11 248.81,46.68 248.84,39.42 248.87,46.76 248.9,52.1 248.94,43.87 248.97,54.62 249,45.8 249.03,51.53 249.06,19.52 249.09,37.48 249.12,53.4 249.15,54.96 249.18,49.57 249.21,61.2 249.24,52.39 249.27,52.46 249.3,36.83 249.33,49.46 249.36,52.97 249.39,58.27 249.42,56.69 249.46,45.99 249.49,47.42 249.52,34.42 249.55,51.41 249.58,35.14 249.61,42.87 249.64,45.39 249.67,64.7 249.7,57.78 249.73,38.21 249.76,31.88 249.79,43.36 249.82,38 249.85,49.28 249.88,48.93 249.91,51.74 249.94,35.96 249.98,42.05 250.01,47.61 250.04,48.51 250.07,39.99 250.1,42.24 250.13,53.37 250.16,28.81 250.19,41.39 250.22,45.25 250.25,31.11 250.28,35.48 250.31,46.2 250.34,40.19 250.37,55.66 250.4,51.53 250.43,67.13 250.46,33.59 250.5,63.64 250.53,38.79 250.56,53.35 250.59,54.78 250.62,47.23 250.65,42.78 250.68,39.45 250.71,28.28 250.74,41.89 250.77,36.86 250.8,51.12 250.83,38.47 250.86,43.87 250.89,49.81 250.92,46.27 250.95,45.95 250.98,43.51 251.02,41.48 251.05,50.25 251.08,52.49 251.11,38.15 251.14,61.7 251.17,51.31 251.2,30.39 251.23,71.44 251.26,52.03 251.29,38.72 251.32,61.25 251.35,5.29 251.38,70.29 251.41,31.51 251.44,30.34 251.47,36.52 251.5,47.49 251.54,41.91 251.57,54 251.6,37.55 251.63,56.14 251.66,47.99 251.69,35.75 251.72,56.09 251.75,48.86 251.78,43.77 251.81,58.28 251.84,34.13 251.87,40.1 251.9,59.95 251.93,45.8 251.96,52.82 251.99,51.69 252.02,44.61 252.06,52.19 252.09,36.06 252.12,56.21 252.15,35.89 252.18,45.77 252.21,37.1 252.24,50.57 252.27,50.22 252.3,56.46 252.33,39.78 252.36,36.31 252.39,12.68 252.42,32.91 252.45,42.94 252.48,47.38 252.51,41.6 252.54,45.62 252.58,31.25 252.61,36.25 252.64,53.41 252.67,51.98 252.7,32.17 252.73,42.38 252.76,47.58 252.79,33.92 252.82,49.08 252.85,48.05 252.88,49.79 252.91,64.25 252.94,37.02 252.97,57 253,50.83 253.03,52.52 253.06,34.14 253.1,46.41 253.13,45.2 253.16,61.53 253.19,46.19 253.22,59.58 253.25,40.61 253.28,41.82 253.31,45.62 253.34,13.85 253.37,40.26 253.4,39.61 253.43,43.98 253.46,47.21 253.49,36.04 253.52,34.74 253.55,65.41 253.58,35.19 253.62,40.4 253.65,36.09 253.68,40.86 253.71,57.34 253.74,56.65 253.77,17.22 253.8,42.92 253.83,59.01 253.86,42 253.89,48.84 253.92,63.11 253.95,67.42 253.98,70.06 254.01,42.73 254.04,45.81 254.07,47.75 254.1,42.61 254.14,39.56 254.17,65.61 254.2,48.25 254.23,53.33 254.26,57.23 254.29,50.62 254.32,46.53 254.35,47.92 254.38,59.37 254.41,50.01 254.44,25.93 254.47,61.61 254.5,61.61 254.53,41.11 254.56,39.6 254.59,40.88 254.62,56.14 254.66,29.96 254.69,52.92 254.72,56.29 254.75,51.21 254.78,46.4 254.81,38.47 254.84,39.34 254.87,45.57 254.9,36.36 254.93,44.56 254.96,36.72 254.99,58.88 255.02,60.52 255.05,37.88 255.08,66.78 255.11,48.26 255.14,46.3 255.18,50.05 255.21,49.72 255.24,31.93 255.27,69.73 255.3,36.83 255.33,23.23 255.36,45.12 255.39,45.53 255.42,38.35 255.45,27.73 255.48,56.8 255.51,44.51 255.54,47.14 255.57,39.96 255.6,43.82 255.63,38.99 255.66,49.41 255.7,44.88 255.73,51.81 255.76,51.75 255.79,46.71 255.82,46.72 255.85,56.65 255.88,30.22 255.91,46.65 255.94,66.68 255.97,34.74 256,52.56 256.03,40.45 256.06,45.51 256.09,42.94 256.12,42.71 256.15,50.89 256.18,44.96 256.22,14 256.25,66.91 256.28,44.71 256.31,41.16 256.34,55.49 256.37,58.55 256.4,24.55 256.43,51.08 256.46,25.32 256.49,40.19 256.52,44.62 256.55,40.76 256.58,35.56 256.61,33.98 256.64,41.15 256.67,43.96 256.7,43.65 256.74,24.51 256.77,32.75 256.8,55.01 256.83,51.47 256.86,42.16 256.89,51.35 256.92,48.98 256.95,54.56 256.98,47.87 257.01,41.27 257.04,35.76 257.07,45.26 257.1,25.36 257.13,46.09 257.16,14.58 257.19,35.7 257.22,40.56 257.26,50.16 257.29,72.57 257.32,46.84 257.35,43.63 257.38,26.83 257.41,66.62 257.44,26.98 257.47,47.77 257.5,38.37 257.53,69.82 257.56,44.01 257.59,48.66 257.62,38.77 257.65,44.47 257.68,56.36 257.71,36.22 257.74,38.66 257.78,39.6 257.81,35.63 257.84,34.74 257.87,45.56 257.9,58.43 257.93,58.7 257.96,32.34 257.99,38.5 258.02,43.78 258.05,52.05 258.08,45.05 258.11,45.11 258.14,48.6 258.17,52.09 258.2,11.98 258.23,43.15 258.26,54.69 258.3,57.9 258.33,52.34 258.36,38.41 258.39,38.04 258.42,47.45 258.45,44.85 258.48,48.29 258.51,56.03 258.54,32.81 258.57,41.76 258.6,21.49 258.63,57.01 258.66,46.68 258.69,36.84 258.72,47.71 258.75,58.72 258.78,54.49 258.82,44.38 258.85,42.04 258.88,46.26 258.91,29.88 258.94,30.04 258.97,40.37 259,45.09 259.03,47.79 259.06,40.04 259.09,36.49 259.12,44.77 259.15,41.01 259.18,48.48 259.21,58.95 259.24,55 259.27,37.97 259.3,41.04 259.33,30.03 259.37,44.81 259.4,37.02 259.43,32.6 259.46,35.77 259.49,51.21 259.52,47.13 259.55,44.1 259.58,54.85 259.61,40.78 259.64,35.48 259.67,49.98 259.7,14.94 259.73,48.15 259.76,47.31 259.79,47.65 259.82,56.27 259.85,41.32 259.89,45.16 259.92,29.34 259.95,39.5 259.98,40.17 260.01,47.48 260.04,58.98 260.07,46.21 260.1,53.54 260.13,36.18 260.16,45.64 260.19,29.3 260.22,34.01 260.25,37.3 260.28,43.13 260.31,43.34 260.34,39.06 260.37,36.46 260.41,52.2 260.44,40.61 260.47,20.09 260.5,46.21 260.53,47.81 260.56,52.02 260.59,59.31 260.62,33.89 260.65,44.76 260.68,42.46 260.71,27.57 260.74,21.17 260.77,53.91 260.8,35.19 260.83,39.34 260.86,41.5 260.89,40.72 260.93,45.56 260.96,30.02 260.99,35.84 261.02,42.01 261.05,33.31 261.08,36.69 261.11,40.89 261.14,42.17 261.17,28.41 261.2,40.41 261.23,46.19 261.26,53.58 261.29,48.64 261.32,55.44 261.35,44.29 261.38,42.85 261.41,65.08 261.45,45.15 261.48,39.07 261.51,43.72 261.54,54.52 261.57,33.1 261.6,52.03 261.63,57.16 261.66,55.74 261.69,45.47 261.72,35.85 261.75,27.34 261.78,43.31 261.81,56.83 261.84,51.66 261.87,53.98 261.9,47.05 261.93,62.43 261.97,44.26 262,39.12 262.03,46.77 262.06,40.9 262.09,54.38 262.12,59.36 262.15,51.48 262.18,34.19 262.21,29.46 262.24,52.38 262.27,33.74 262.3,50.35 262.33,22.03 262.36,40.69 262.39,49.7 262.42,37.68 262.45,52.81 262.49,54.36 262.52,59.33 262.55,42.86 262.58,46.17 262.61,46.09 262.64,49.3 262.67,31.49 262.7,49.43 262.73,56.5 262.76,33.34 262.79,31.65 262.82,42.08 262.85,62.12 262.88,51.13 262.91,39.44 262.94,45.18 262.97,30.37 263.01,58.52 263.04,38.81 263.07,51.39 263.1,24.95 263.13,46.07 263.16,35.42 263.19,55.33 263.22,58.93 263.25,56.05 263.28,51.2 263.31,55.23 263.34,33.78 263.37,32.45 263.4,42.72 263.43,55.32 263.46,46.49 263.49,51.96 263.53,31.34 263.56,42.31 263.59,40.63 263.62,49.2 263.65,64.73 263.68,52.78 263.71,56.11 263.74,41.78 263.77,44.42 263.8,53.07 263.83,49.09 263.86,30.26 263.89,54.59 263.92,54.2 263.95,47.55 263.98,52.09 264.01,49.48 264.05,40.23 264.08,28.66 264.11,62.5 264.14,45.53 264.17,44.95 264.2,46.16 264.23,48.23 264.26,48.63 264.29,35.67 264.32,49.83 264.35,46.58 264.38,45.35 264.41,44.31 264.44,47 264.47,35.72 264.5,45.43 264.53,43.67 264.57,46.14 264.6,60.81 264.63,53.35 264.66,55.47 264.69,43.49 264.72,52.23 264.75,55.58 264.78,43.06 264.81,40.29 264.84,62.32 264.87,29.07 264.9,45.04 264.93,46.97 264.96,35.07 264.99,44.68 265.02,51.17 265.05,24.2 265.09,55.7 265.12,46.29 265.15,37.19 265.18,55.66 265.21,46.33 265.24,41.63 265.27,22.21 265.3,59.11 265.33,45.81 265.36,35.19 265.39,44.57 265.42,56.94 265.45,41.42 265.48,44.31 265.51,41.06 265.54,34.45 265.57,35.59 265.61,41.42 265.64,42.36 265.67,55.93 265.7,46.64 265.73,43.23 265.76,49.21 265.79,44.41 265.82,53.3 265.85,30.57 265.88,12.17 265.91,49.1 265.94,41.49 265.97,47.61 266,33.18 266.03,41.16 266.06,44.6 266.09,47.51 266.13,44.13 266.16,54.99 266.19,38.84 266.22,52.23 266.25,40.2 266.28,44.1 266.31,34.8 266.34,45.61 266.37,35.49 266.4,59.57 266.43,39.48 266.46,47.51 266.49,43.48 266.52,44.66 266.55,30.91 266.58,76.49 266.61,42.24 266.65,59.75 266.68,33.72 266.71,75.76 266.74,55.02 266.77,61.48 266.8,29.55 266.83,57.77 266.86,44.25 266.89,53.61 266.92,73.1 266.95,48.6 266.98,38.96 267.01,47.13 267.04,36.28 267.07,48.84 267.1,45.28 267.13,49.06 267.17,42.04 267.2,27.05 267.23,41.86 267.26,43.48 267.29,51.31 267.32,52.63 267.35,31.24 267.38,56.07 267.41,54.15 267.44,46.29 267.47,49.46 267.5,26.5 267.53,68.15 267.56,41.87 267.59,34.36 267.62,56.15 267.65,51.56 267.69,41.18 267.72,29.65 267.75,54.22 267.78,60.57 267.81,35.98 267.84,30.67 267.87,48.58 267.9,66.68 267.93,22.97 267.96,47.26 267.99,34.52 268.02,45.77 268.05,48.97 268.08,49.7 268.11,31.15 268.14,23.23 268.17,65.95 268.21,54.37 268.24,28.23 268.27,48.89 268.3,58.46 268.33,45.31 268.36,46.39 268.39,46.29 268.42,49.97 268.45,48.34 268.48,52.38 268.51,42.13 268.54,53.18 268.57,48.14 268.6,46.74 268.63,32.77 268.66,41.75 268.69,46.41 268.73,40.18 268.76,41.44 268.79,28.58 268.82,40.47 268.85,17.69 268.88,24.62 268.91,45.75 268.94,49.34 268.97,31.74 269,40.37 269.03,46.26 269.06,59.58 269.09,73.6 269.12,41.99 269.15,37.92 269.18,37.61 269.21,57.75 269.25,35.35 269.28,50.5 269.31,41.61 269.34,41.33 269.37,53.08 269.4,51.05 269.43,65.33 269.46,54.18 269.49,62.72 269.52,41.14 269.55,44.76 269.58,36.54 269.61,41.91 269.64,51.47 269.67,42.01 269.7,49.11 269.73,39.48 269.77,42.31 269.8,54.88 269.83,45.33 269.86,44.5 269.89,48.32 269.92,31.55 269.95,28.84 269.98,48.89 270.01,48.73 270.04,80.01 270.07,46.59 270.1,49.55 270.13,66.18 270.16,42.57 270.19,39.65 270.22,52.42 270.25,48.94 270.29,54.66 270.32,38 270.35,59.97 270.38,48.37 270.41,26.55 270.44,44.85 270.47,40.84 270.5,46.76 270.53,56.67 270.56,45.66 270.59,41.43 270.62,55.2 270.65,42.06 270.68,33.35 270.71,35.04 270.74,60.6 270.77,54.75 270.81,70.23 270.84,35.03 270.87,39.47 270.9,38.57 270.93,53.81 270.96,56.59 270.99,44.61 271.02,44.38 271.05,53.58 271.08,43.98 271.11,39.14 271.14,41.83 271.17,55.37 271.2,77.92 271.23,47.84 271.26,43.77 271.29,47.86 271.33,49.48 271.36,52.01 271.39,38.45 271.42,45.85 271.45,43.45 271.48,54.71 271.51,51.33 271.54,43.77 271.57,55.04 271.6,57.48 271.63,48.52 271.66,33.78 271.69,43.51 271.72,31.29 271.75,46.62 271.78,50.13 271.81,66.81 271.85,50.9 271.88,31.52 271.91,42.19 271.94,38.29 271.97,38.56 272,45.44 272.03,47.32 272.06,44.2 272.09,38.88 272.12,40.94 272.15,40.61 272.18,43.86 272.21,52.77 272.24,47.87 272.27,59.86 272.3,35.67 272.33,65.61 272.37,47.45 272.4,22.35 272.43,48.64 272.46,56.28 272.49,45.52 272.52,32.93 272.55,47.82 272.58,39.44 272.61,44.39 272.64,48.94 272.67,14.99 272.7,44.66 272.73,50.53 272.76,50.07 272.79,41.68 272.82,41.41 272.85,37.91 272.89,43.99 272.92,59.15 272.95,40.22 272.98,48.33 273.01,48.11 273.04,59.64 273.07,50.88 273.1,52.35 273.13,45.7 273.16,67.76 273.19,44.86 273.22,44.15 273.25,56.14 273.28,51.37 273.31,53.61 273.34,36.6 273.37,69.71 273.41,48.66 273.44,61.35 273.47,49.51 273.5,37.19 273.53,51.43 273.56,44.02 273.59,53.49 273.62,26.66 273.65,36.55 273.68,34.49 273.71,58.15 273.74,55.96 273.77,34.95 273.8,47.22 273.83,47.84 273.86,42.13 273.89,57.44 273.92,37.9 273.96,45.07 273.99,40.73 274.02,51.81 274.05,40.4 274.08,52.14 274.11,36.15 274.14,34.46 274.17,36.56 274.2,40.37 274.23,39.24 274.26,71.42 274.29,37.31 274.32,47.99 274.35,44.44 274.38,48.08 274.41,58.75 274.44,53.65 274.48,39 274.51,31.69 274.54,51.35 274.57,54.06 274.6,22.97 274.63,53.85 274.66,25.37 274.69,44.86 274.72,53.86 274.75,35.86 274.78,29.03 274.81,59.18 274.84,21.31 274.87,48.06 274.9,31.03 274.93,49.02 274.96,60.55 275,40.51 275.03,36.42 275.06,25.15 275.09,28.74 275.12,34.63 275.15,47.64 275.18,50.37 275.21,48.19 275.24,53.36 275.27,48 275.3,69.87 275.33,43.63 275.36,45.63 275.39,20.63 275.42,38.04 275.45,49.98 275.48,39.91 275.52,57.16 275.55,51.16 275.58,63.35 275.61,31.51 275.64,39.63 275.67,56.68 275.7,45.93 275.73,36.2 275.76,40.58 275.79,41.67 275.82,53.62 275.85,51.49 275.88,44.43 275.91,36.48 275.94,53.34 275.97,56.16 276,34.33 276.04,54.31 276.07,34.97 276.1,43.01 276.13,36.86 276.16,28.54 276.19,38.71 276.22,33.39 276.25,54.19 276.28,52.05 276.31,39.14 276.34,30.57 276.37,31.94 276.4,23.03 276.43,40.56 276.46,43.4 276.49,35.65 276.52,45.17 276.56,45.95 276.59,55.44 276.62,35.8 276.65,55.68 276.68,40.41 276.71,67.23 276.74,34.79 276.77,55.26 276.8,37.22 276.83,60.66 276.86,49.59 276.89,34 276.92,57.77 276.95,44.7 276.98,49.96 277.01,67.6 277.04,42.38 277.08,41.18 277.11,56.02 277.14,39.82 277.17,53.02 277.2,55.02 277.23,45.28 277.26,51.92 277.29,23.26 277.32,69.32 277.35,38.23 277.38,35.82 277.41,64.42 277.44,62.04 277.47,39.93 277.5,49.99 277.53,41.65 277.56,34.37 277.6,48.94 277.63,55.6 277.66,71.65 277.69,43.38 277.72,54.3 277.75,40.52 277.78,43.12 277.81,58.69 277.84,28.74 277.87,34.91 277.9,32.27 277.93,56.76 277.96,51.63 277.99,50.62 278.02,49.35 278.05,62.68 278.08,41.16 278.12,43.14 278.15,39.72 278.18,50.23 278.21,32.91 278.24,43.54 278.27,71.73 278.3,51.52 278.33,46.23 278.36,36.05 278.39,48.25 278.42,47.76 278.45,51.74 278.48,38.94 278.51,52.25 278.54,51.16 278.57,56.79 278.6,39.99 278.64,50.49 278.67,61.5 278.7,39.35 278.73,52.11 278.76,41.91 278.79,41.75 278.82,33.75 278.85,35.28 278.88,50.89 278.91,46.95 278.94,57.78 278.97,29.19 279,41.09 279.03,31.91 279.06,48.42 279.09,76.94 279.12,30.59 279.16,44.45 279.19,43.3 279.22,44.82 279.25,39.14 279.28,37.13 279.31,60.68 279.34,34.88 279.37,50.45 279.4,49.85 279.43,28.7 279.46,31.16 279.49,48.61 279.52,63.24 279.55,43.79 279.58,40.16 279.61,46.13 279.64,57.36 279.68,52.97 279.71,57.45 279.74,43.27 279.77,32.72 279.8,35.47 279.83,52.41 279.86,43.09 279.89,40.01 279.92,50.28 279.95,46.78 279.98,24.88 280.01,43.37 280.04,36.84 280.07,52.05 280.1,44.71 280.13,61.87 280.16,45.74 280.2,33.86 280.23,12.99 280.26,33.82 280.29,38.73 280.32,44.84 280.35,54.6 280.38,46.89 280.41,39.44 280.44,52.92 280.47,36.36 280.5,54.83 280.53,62.49 280.56,55.1 280.59,61.4 280.62,66.51 280.65,27.9 280.68,47.28 280.72,43.24 280.75,34.19 280.78,33.22 280.81,50.21 280.84,32.55 280.87,41.64 280.9,45.32 280.93,41.09 280.96,59.09 280.99,52.92 281.02,46.39 281.05,39.47 281.08,48.93 281.11,47.31 281.14,36.01 281.17,31.75 281.2,37.96 281.24,33.13 281.27,49.25 281.3,48.3 281.33,40.44 281.36,48.25 281.39,50.24 281.42,29.43 281.45,47.29 281.48,60.24 281.51,40.65 281.54,27.66 281.57,44.57 281.6,33.48 281.63,49.57 281.66,50.08 281.69,55.99 281.72,46.73 281.76,27.65 281.79,56.48 281.82,29.57 281.85,55.07 281.88,47.6 281.91,37.3 281.94,39.28 281.97,41 282,61.24 282.03,41.86 282.06,55.2 282.09,20.6 282.12,48.64 282.15,43.53 282.18,56.4 282.21,49.96 282.24,57.79 282.28,35.89 282.31,47.87 282.34,39.93 282.37,51.95 282.4,50.18 282.43,32.94 282.46,54.71 282.49,62.71 282.52,39.09 282.55,56.35 282.58,49.58 282.61,36.57 282.64,53.24 282.67,36.89 282.7,51.91 282.73,30.99 282.76,24.92 282.8,49.89 282.83,47.4 282.86,53.37 282.89,43.42 282.92,34.28 282.95,59.29 282.98,36.51 283.01,58.11 283.04,53.63 283.07,62.58 283.1,25.07 283.13,44.78 283.16,42.99 283.19,51.87 283.22,35.07 283.25,65.62 283.28,45.09 283.32,24.09 283.35,49.03 283.38,45.18 283.41,38.87 283.44,53.17 283.47,45 283.5,36.09 283.53,43.48 283.56,41.78 283.59,50.74 283.62,42.31 283.65,44.81 283.68,31.33 283.71,34.18 283.74,47.7 283.77,68.93 283.8,38.45 283.84,33.71 283.87,54.19 283.9,64.61 283.93,62.95 283.96,36.43 283.99,55.61 284.02,49.78 284.05,43.23 284.08,33.55 284.11,45.52 284.14,46.32 284.17,50.64 284.2,29.64 284.23,35.08 284.26,46.82 284.29,58.81 284.32,52.97 284.36,36.42 284.39,52.3 284.42,36.75 284.45,41.87 284.48,42.53 284.51,39.05 284.54,40.55 284.57,53.59 284.6,48.49 284.63,22.8 284.66,56.99 284.69,49.92 284.72,35.08 284.75,46.88 284.78,53.18 284.81,58.1 284.84,40.18 284.88,35.52 284.91,31.86 284.94,44.83 284.97,35.28 285,55.3 285.03,43.73 285.06,51.88 285.09,43.67 285.12,38.12 285.15,35.04 285.18,54.89 285.21,33.14 285.24,52.66 285.27,55.23 285.3,46.99 285.33,59.44 285.36,45.31 285.4,40.88 285.43,47.28 285.46,40.18 285.49,48.38 285.52,45.31 285.55,67.56 285.58,44.94 285.61,53.55 285.64,49.68 285.67,46.25 285.7,43.51 285.73,61.22 285.76,60.42 285.79,48.26 285.82,40.78 285.85,41.88 285.88,36.75 285.92,32.81 285.95,40.57 285.98,45.66 286.01,55.29 286.04,54.47 286.07,49.85 286.1,42.77 286.13,43.22 286.16,45.31 286.19,46.82 286.22,39.27 286.25,43.34 286.28,42.48 286.31,42.38 286.34,50.61 286.37,55.28 286.4,40.62 286.44,41.33 286.47,47.47 286.5,49.36 286.53,23.4 286.56,57.06 286.59,47.45 286.62,41.26 286.65,56.47 286.68,44.22 286.71,28.03 286.74,36.35 286.77,39.26 286.8,39.64 286.83,44.27 286.86,36.11 286.89,46.85 286.92,49.42 286.96,44.37 286.99,36.62 287.02,42.17 287.05,38.85 287.08,64.85 287.11,33.85 287.14,22.8 287.17,32.49 287.2,50.25 287.23,53.53 287.26,42.68 287.29,54.86 287.32,38.36 287.35,50.41 287.38,36.09 287.41,32.22 287.44,64.93 287.48,42.53 287.51,52.08 287.54,58.93 287.57,51.3 287.6,47.46 287.63,35.39 287.66,60.01 287.69,35.22 287.72,25.9 287.75,39.59 287.78,40.09 287.81,45.48 287.84,63.47 287.87,40.2 287.9,41.65 287.93,38.3 287.96,20.6 287.99,34.13 288.03,41.25 288.06,30.3 288.09,58.31 288.12,56.36 288.15,48.97 288.18,51.66 288.21,34.65 288.24,48.41 288.27,28.58 288.3,30.7 288.33,37.93 288.36,49.07 288.39,39.41 288.42,37.53 288.45,55.63 288.48,41.99 288.51,38.55 288.55,43.26 288.58,30.21 288.61,33.65 288.64,53.31 288.67,44.15 288.7,53.4 288.73,39.77 288.76,53.71 288.79,36.45 288.82,41.61 288.85,36 288.88,46.75 288.91,59.38 288.94,28.33 288.97,47.01 289,24.12 289.03,41.2 289.07,38.86 289.1,27.72 289.13,42.07 289.16,23.76 289.19,59.65 289.22,36.96 289.25,47.68 289.28,46.64 289.31,45.27 289.34,42.01 289.37,19.8 289.4,63.21 289.43,44.93 289.46,52.25 289.49,34.12 289.52,49.43 289.55,38.31 289.59,49.18 289.62,38.91 289.65,35.57 289.68,49.18 289.71,44.88 289.74,59.04 289.77,42.41 289.8,37.1 289.83,50.7 289.86,34.55 289.89,65.33 289.92,63.19 289.95,58.73 289.98,52.82 290.01,45.17 290.04,46.11 290.07,46 290.11,34.19 290.14,49.9 290.17,57.53 290.2,57.34 290.23,24.99 290.26,68.01 290.29,47.05 290.32,31.3 290.35,40.69 290.38,53.34 290.41,45.32 290.44,37.03 290.47,33.71 290.5,54.02 290.53,38.02 290.56,42.92 290.59,34.71 290.63,31.95 290.66,48.66 290.69,59.32 290.72,41.54 290.75,28.23 290.78,38.74 290.81,43.13 290.84,22.21 290.87,55.37 290.9,36.65 290.93,50.85 290.96,44.87 290.99,44.49 291.02,22 291.05,54.37 291.08,50.51 291.11,60.7 291.15,40.66 291.18,49.77 291.21,41.28 291.24,55.69 291.27,48.81 291.3,35.34 291.33,47.03 291.36,39.32 291.39,40.26 291.42,48.75 291.45,60.38 291.48,35.85 291.51,43.71 291.54,35.88 291.57,64.74 291.6,61.29 291.63,66 291.67,53.8 291.7,29.29 291.73,39.9 291.76,45.88 291.79,44.09 291.82,38.02 291.85,50.01 291.88,41.53 291.91,44 291.94,66.42 291.97,49.06 292,32.26 292.03,49.16 292.06,46.73 292.09,51.2 292.12,52.82 292.15,34.52 292.19,47.93 292.22,55.2 292.25,85.5 292.28,50.87 292.31,64.3 292.34,62.92 292.37,37.69 292.4,38.52 292.43,74.91 292.46,37.15 292.49,40.92 292.52,52.9 292.55,38.27 292.58,61.02 292.61,56.96 292.64,59.22 292.67,56.06 292.71,36.88 292.74,65.91 292.77,56.44 292.8,54.52 292.83,43.47 292.86,48.62 292.89,37.04 292.92,52.2 292.95,57.77 292.98,50.21 293.01,45.01 293.04,54.35 293.07,42.71 293.1,27.9 293.13,51.02 293.16,44.79 293.19,32.41 293.23,51.69 293.26,53.62 293.29,56 293.32,41.64 293.35,40.52 293.38,46.92 293.41,45.09 293.44,33.24 293.47,37.16 293.5,59.04 293.53,45.63 293.56,44.54 293.59,38.62 293.62,47.72 293.65,51.8 293.68,50 293.71,62.73 293.75,46.15 293.78,51.36 293.81,41.13 293.84,55.52 293.87,52.53 293.9,55.08 293.93,55.93 293.96,38.92 293.99,53.03 294.02,41.4 294.05,56.47 294.08,44.76 294.11,61.98 294.14,50.32 294.17,50.56 294.2,40.11 294.23,44 294.27,47.42 294.3,37.67 294.33,43.9 294.36,40.57 294.39,38.37 294.42,46.4 294.45,48.59 294.48,42.62 294.51,49.78 294.54,42.04 294.57,35.11 294.6,37.55 294.63,49.45 294.66,58.15 294.69,46.32 294.72,47 294.75,35.15 294.79,49.47 294.82,47.8 294.85,34.74 294.88,50.39 294.91,48.52 294.94,29.31 294.97,31.47 295,39.74 295.03,43.22 295.06,55.12 295.09,40.43 295.12,45.25 295.15,42.68 295.18,50.79 295.21,45.92 295.24,47.58 295.27,42.77 295.31,32.07 295.34,42.33 295.37,61.75 295.4,61.01 295.43,61.04 295.46,53.44 295.49,40.43 295.52,39.92 295.55,51.57 295.58,43.25 295.61,57.73 295.64,59.47 295.67,59.33 295.7,54.07 295.73,32.15 295.76,58.71 295.79,33.86 295.83,25.67 295.86,47.57 295.89,46.29 295.92,51.72 295.95,46.06 295.98,39.5 296.01,45.98 296.04,36.25 296.07,34.43 296.1,42.53 296.13,42.69 296.16,46.43 296.19,42.51 296.22,56.56 296.25,41.95 296.28,43.87 296.31,54.14 296.35,25.15 296.38,55.2 296.41,54.21 296.44,43.17 296.47,64.48 296.5,53.46 296.53,60.52 296.56,55.15 296.59,47.13 296.62,41.25 296.65,35.24 296.68,38.11 296.71,34.47 296.74,40.2 296.77,50.37 296.8,35.14 296.83,50.56 296.87,51.78 296.9,31.16 296.93,38.29 296.96,43.76 296.99,38.64 297.02,37.42 297.05,58.99 297.08,46.78 297.11,57.22 297.14,44.7 297.17,52.34 297.2,32.81 297.23,40.89 297.26,53.69 297.29,46.06 297.32,57.54 297.35,45.49 297.39,40.62 297.42,42.15 297.45,64.46 297.48,49.12 297.51,40.99 297.54,42.94 297.57,34.73 297.6,58.27 297.63,40.85 297.66,52.16 297.69,44.02 297.72,41.99 297.75,39.28 297.78,51.45 297.81,43.38 297.84,57.15 297.87,59.49 297.91,40.55 297.94,46.43 297.97,71.18 298,54.09 298.03,45.72 298.06,30.93 298.09,30.14 298.12,38.22 298.15,63.1 298.18,47.74 298.21,41.31 298.24,42.12 298.27,41.9 298.3,48.16 298.33,28.98 298.36,31.69 298.39,46.81 298.43,55.35 298.46,26.13 298.49,51.24 298.52,34.38 298.55,27.52 298.58,55 298.61,41.77 298.64,49.26 298.67,40.95 298.7,41.31 298.73,27.17 298.76,40.23 298.79,46.39 298.82,35.07 298.85,48.53 298.88,49.43 298.91,24.35 298.95,53.82 298.98,50.62 299.01,45.58 299.04,62.55 299.07,66.24 299.1,35.74 299.13,53.48 299.16,51.13 299.19,49.5 299.22,55.37 299.25,56.26 299.28,44.37 299.31,22.81 299.34,34.9 299.37,34.74 299.4,60.42 299.43,46.15 299.47,57.32 299.5,38.48 299.53,48.11 299.56,45.55 299.59,46.77 299.62,51.54 299.65,60.58 299.68,40.33 299.71,59.24 299.74,57.29 299.77,48.79 299.8,52.72 299.83,43.4 299.86,30.68 299.89,43.52 299.92,44.02 299.95,45.69 299.99,37.65 300.02,63.7 300.05,42.38 300.08,54.91 300.11,57.8 300.14,45.87 300.17,49.65 300.2,40.3 300.23,35.31 300.26,68.33 300.29,47.37 300.32,27.05 300.35,37.56 300.38,23.96 300.41,44.94 300.44,59.75 300.47,56.76 300.51,39.06 300.54,36.68 300.57,52.97 300.6,48.5 300.63,43.4 300.66,62.78 300.69,49.29 300.72,21.31 300.75,24.86 300.78,46.96 300.81,28.27 300.84,50.98 300.87,53.72 300.9,67.48 300.93,36.7 300.96,49.52 300.99,23.37 301.03,42.72 301.06,44.1 301.09,63.32 301.12,31.46 301.15,49.41 301.18,48.73 301.21,67.17 301.24,36.98 301.27,31 301.3,51.74 301.33,45.01 301.36,42.12 301.39,36.62 301.42,44.62 301.45,29.3 301.48,48.23 301.51,51.74 301.55,50.39 301.58,70.35 301.61,53.67 301.64,36.19 301.67,43.34 301.7,53.78 301.73,42.52 301.76,65.33 301.79,48.63 301.82,40.82 301.85,39.15 301.88,53.34 301.91,37.08 301.94,27.86 301.97,49.99 302,38.73 302.03,60.88 302.07,64.78 302.1,39.97 302.13,45.45 302.16,43.09 302.19,51.48 302.22,48.69 302.25,38.04 302.28,19.67 302.31,47.94 302.34,61.76 302.37,33.57 302.4,36.86 302.43,39.28 302.46,44.09 302.49,23.45 302.52,45.12 302.55,38.21 302.58,63.71 302.62,55.07 302.65,52.47 302.68,46.13 302.71,42.49 302.74,53.07 302.77,29.16 302.8,56.11 302.83,50.19 302.86,43.55 302.89,57.9 302.92,40.34 302.95,39.74 302.98,48.66 303.01,27.44 303.04,45.06 303.07,43.13 303.1,55.1 303.14,61.99 303.17,51.93 303.2,48.94 303.23,50.23 303.26,38.43 303.29,68.85 303.32,56.78 303.35,63.45 303.38,32.91 303.41,54.86 303.44,50.81 303.47,56.47 303.5,37.17 303.53,49.81 303.56,43.7 303.59,65.46 303.62,34.54 303.66,42.03 303.69,40.51 303.72,33.91 303.75,47.7 303.78,47.45 303.81,38.91 303.84,41.71 303.87,48.19 303.9,45.4 303.93,50.69 303.96,38.93 303.99,36.82 304.02,46.03 304.05,27.69 304.08,60.67 304.11,48.07 304.14,29.3 304.18,49.89 304.21,61.26 304.24,32.35 304.27,40.55 304.3,57.35 304.33,34.12 304.36,55.69 304.39,66.8 304.42,48.44 304.45,50.46 304.48,56.41 304.51,49.34 304.54,55.51 304.57,45.23 304.6,46.03 304.63,38.61 304.66,50.2 304.7,58.67 304.73,58.55 304.76,49.88 304.79,30.97 304.82,37.61 304.85,55.99 304.88,36.71 304.91,57.01 304.94,30.42 304.97,49.5 305,38.38 305.03,39.79 305.06,48.48 305.09,42.64 305.12,56.11 305.15,46.52 305.18,35.34 305.22,6.21 305.25,39.01 305.28,44.95 305.31,55.58 305.34,35.56 305.37,61.8 305.4,53.55 305.43,42.34 305.46,57.45 305.49,30.91 305.52,35.23 305.55,51.29 305.58,51.16 305.61,58.54 305.64,59.33 305.67,41.52 305.7,39.77 305.74,42.4 305.77,43.23 305.8,54.73 305.83,42.31 305.86,60.02 305.89,45.71 305.92,31.55 305.95,33 305.98,50.27 306.01,49.02 306.04,32.47 306.07,28.51 306.1,60.26 306.13,52.66 306.16,43.53 306.19,34.01 306.22,53.9 306.26,39.58 306.29,48.7 306.32,22.81 306.35,41.63 306.38,47.09 306.41,49.03 306.44,35.58 306.47,39.22 306.5,56.26 306.53,42.69 306.56,58.74 306.59,53.1 306.62,58.31 306.65,58.61 306.68,52.43 306.71,55.27 306.74,40.68 306.78,38.07 306.81,49.74 306.84,56.61 306.87,38 306.9,65.37 306.93,64.47 306.96,38.74 306.99,35.88 307.02,36.35 307.05,47.87 307.08,57.99 307.11,50.71 307.14,40.3 307.17,53.2 307.2,52.58 307.23,59.28 307.26,64.06 307.3,37.62 307.33,39 307.36,57.02 307.39,56.23 307.42,54.74 307.45,40.48 307.48,57.09 307.51,48.65 307.54,66.54 307.57,57.95 307.6,41.71 307.63,37.09 307.66,56.97 307.69,58.02 307.72,38.06 307.75,49.56 307.78,51.02 307.82,40.76 307.85,43.88 307.88,28.82 307.91,38.09 307.94,51.35 307.97,46.93 308,46.35 308.03,58.89 308.06,55.19 308.09,36.37 308.12,61.13 308.15,36.14 308.18,41.6 308.21,47.11 308.24,40.56 308.27,41.16 308.3,34.07 308.34,49.64 308.37,47.97 308.4,49.81 308.43,27.55 308.46,36.61 308.49,54.69 308.52,48.98 308.55,52.58 308.58,45.62 308.61,43.68 308.64,23.57 308.67,63.4 308.7,35.8 308.73,41.52 308.76,52.53 308.79,47.18 308.82,50.53 308.86,45.25 308.89,36 308.92,60.41 308.95,33.03 308.98,49.34 309.01,31.2 309.04,41.74 309.07,33.8 309.1,40.24 309.13,35.22 309.16,45.16 309.19,53.74 309.22,39.2 309.25,38.83 309.28,25.42 309.31,65.06 309.34,47.6 309.38,35.43 309.41,57.79 309.44,47.88 309.47,13.15 309.5,31.99 309.53,54.17 309.56,31.9 309.59,34.23 309.62,33.84 309.65,41.98 309.68,43.36 309.71,54.06 309.74,50.64 309.77,38.58 309.8,44.29 309.83,27.79 309.86,48.87 309.9,68.82 309.93,48.87 309.96,41.52 309.99,41.94 310.02,44.98 310.05,53.57 310.08,31.2 310.11,52.04 310.14,34.81 310.17,48.39 310.2,57.17 310.23,31.98 310.26,69.83 310.29,53.83 310.32,39.08 310.35,49.04 310.38,38.36 310.42,46.56 310.45,49.96 310.48,12.38 310.51,47.71 310.54,47.1 310.57,56.02 310.6,52.79 310.63,39.31 310.66,40.13 310.69,45.55 310.72,52.31 310.75,38.94 310.78,61.98 310.81,50.94 310.84,47.98 310.87,53.7 310.9,44.06 310.94,55.94 310.97,53.27 311,17.82 311.03,38.37 311.06,33.94 311.09,45 311.12,36.2 311.15,37.96 311.18,33.79 311.21,22.65 311.24,47.65 311.27,41.54 311.3,45.95 311.33,79.33 311.36,58.91 311.39,45.26 311.42,39.33 311.46,50.98 311.49,34.48 311.52,25.67 311.55,49.4 311.58,31.69 311.61,28.53 311.64,40.93 311.67,54.86 311.7,31.24 311.73,46.97 311.76,51.22 311.79,44.26 311.82,50.56 311.85,35.04 311.88,37.88 311.91,33.61 311.94,39.76 311.98,53.01 312.01,46.89 312.04,36.91 312.07,49.27 312.1,17.21 312.13,47.68 312.16,51 312.19,34.28 312.22,38.14 312.25,45.62 312.28,47.57 312.31,41.24 312.34,37.3 312.37,33.59 312.4,48.26 312.43,38.69 312.46,37.22 312.5,37.98 312.53,75.09 312.56,53.93 312.59,52.83 312.62,47.57 312.65,43.62 312.68,36.47 312.71,39.4 312.74,46.57 312.77,45.13 312.8,28.4 312.83,51.25 312.86,42.42 312.89,30.26 312.92,42.02 312.95,65.04 312.98,41.74 313.02,51.32 313.05,46.44 313.08,35.22 313.11,40.83 313.14,47.89 313.17,36.75 313.2,41.16 313.23,44.34 313.26,42.45 313.29,42.91 313.32,48.62 313.35,49.77 313.38,45.11 313.41,54.55 313.44,57.48 313.47,32.81 313.5,47.66 313.54,45.58 313.57,46.65 313.6,45.12 313.63,45.13 313.66,44.72 313.69,53.11 313.72,36.37 313.75,52.02 313.78,29.39 313.81,63.84 313.84,61.72 313.87,35.79 313.9,46.78 313.93,51.82 313.96,39.57 313.99,55.42 314.02,44.61 314.06,66.7 314.09,49.71 314.12,55.37 314.15,37.03 314.18,36.91 314.21,53.58 314.24,29.85 314.27,51.05 314.3,77.05 314.33,68.28 314.36,30.52 314.39,46.19 314.42,51.59 314.45,52.56 314.48,55.87 314.51,32.32 314.54,46.64 314.58,28.1 314.61,47.27 314.64,68 314.67,37.21 314.7,48.9 314.73,49.01 314.76,30.25 314.79,47.89 314.82,34.15 314.85,45.4 314.88,52.6 314.91,40.46 314.94,51.14 314.97,33.51 315,36.1 315.03,44.75 315.06,39.47 315.1,39.91 315.13,49.6 315.16,36.72 315.19,47.54 315.22,39.41 315.25,54.51 315.28,43.78 315.31,41.34 315.34,52.95 315.37,49.34 315.4,50.47 315.43,38.31 315.46,52.26 315.49,41.09 315.52,30.62 315.55,41.87 315.58,60.83 315.62,44.09 315.65,29.21 315.68,48.05 315.71,34.6 315.74,39.33 315.77,41.22 315.8,47.8 315.83,50.21 315.86,47.74 315.89,44.66 315.92,40.22 315.95,41.21 315.98,48.16 316.01,44.62 316.04,39.21 316.07,60.9 316.1,57.02 316.14,52.94 316.17,47.2 316.2,47.89 316.23,47.71 316.26,53.64 316.29,38.74 316.32,42.54 316.35,61.05 316.38,44.93 316.41,56.06 316.44,28.8 316.47,49.6 316.5,49 316.53,44.39 316.56,47.13 316.59,45.76 316.62,30.29 316.66,43.02 316.69,37.15 316.72,34.33 316.75,54.58 316.78,28.91 316.81,38.55 316.84,35.96 316.87,58.39 316.9,37.3 316.93,41.2 316.96,50.35 316.99,23.18 317.02,39.71 317.05,47.48 317.08,43.3 317.11,31.03 317.14,27.64 317.17,36.09 317.21,33.44 317.24,31 317.27,57.06 317.3,49.84 317.33,54.22 317.36,44.23 317.39,31.25 317.42,38.87 317.45,55.24 317.48,47.99 317.51,35.25 317.54,53.24 317.57,46.53 317.6,42.22 317.63,62.71 317.66,37.65 317.69,41.86 317.73,36.28 317.76,54.59 317.79,52.56 317.82,50.91 317.85,42.74 317.88,44.48 317.91,43.93 317.94,27.89 317.97,32.58 318,52.09 318.03,51.45 318.06,28.62 318.09,48.21 318.12,31.87 318.15,29.75 318.18,50.38 318.21,47.75 318.25,44.36 318.28,58.36 318.31,54.58 318.34,49.02 318.37,36.94 318.4,49.47 318.43,47.15 318.46,49.64 318.49,58.31 318.52,30.85 318.55,67.73 318.58,51.46 318.61,39.77 318.64,66.56 318.67,39.33 318.7,33.09 318.73,53.44 318.77,43.15 318.8,55.86 318.83,37.23 318.86,44.31 318.89,43.08 318.92,32 318.95,40.62 318.98,24.3 319.01,39.05 319.04,56.72 319.07,42.64 319.1,40.45 319.13,59.09 319.16,32.31 319.19,44.51 319.22,41.62 319.25,53.8 319.29,43.93 319.32,42.27 319.35,48.31 319.38,44.39 319.41,65.59 319.44,32.04 319.47,55.9 319.5,66.19 319.53,54.42 319.56,53.21 319.59,39.93 319.62,53.97 319.65,42.43 319.68,54.42 319.71,23.9 319.74,39.92 319.77,26.32 319.81,54.95 319.84,34.84 319.87,54.39 319.9,39.6 319.93,38.65 319.96,60.55 319.99,56.14 320.02,56.43 320.05,59.68 320.08,52.24 320.11,54.45 320.14,59.12 320.17,44.26 320.2,39.95 320.23,57.87 320.26,50.58 320.29,45.14 320.33,47.45 320.36,51.97 320.39,37.41 320.42,37.06 320.45,38.68 320.48,47.24 320.51,26.09 320.54,28.46 320.57,49.11 320.6,46.39 320.63,33.79 320.66,52.94 320.69,41.4 320.72,44.8 320.75,52.02 320.78,47.48 320.81,60.39 320.85,50.48 320.88,64.48 320.91,10.04 320.94,30.75 320.97,33.42 321,42.35 321.03,35.64 321.06,33.01 321.09,35.48 321.12,36.42 321.15,54.07 321.18,41.15 321.21,50.43 321.24,56.66 321.27,62.85 321.3,41.17 321.33,35.15 321.37,66.35 321.4,18.36 321.43,31.15 321.46,48.97 321.49,49.77 321.52,46.01 321.55,35.86 321.58,49.01 321.61,55.98 321.64,40.01 321.67,65.23 321.7,43.15 321.73,34.16 321.76,42.39 321.79,37.82 321.82,40.58 321.85,38.33 321.89,43.95 321.92,53.34 321.95,47.51 321.98,46.06 322.01,33.22 322.04,29.68 322.07,41.3 322.1,56.96 322.13,52.38 322.16,47.16 322.19,31.97 322.22,42.13 322.25,45.88 322.28,52.72 322.31,36.85 322.34,42.56 322.37,45.84 322.41,44.35 322.44,29.1 322.47,46.9 322.5,29.08 322.53,33.38 322.56,44.85 322.59,36.83 322.62,46.54 322.65,53.33 322.68,47.93 322.71,54.09 322.74,40.42 322.77,45.21 322.8,39.88 322.83,37.38 322.86,75.42 322.89,42.35 322.93,62.71 322.96,42.78 322.99,53.8 323.02,44.35 323.05,32.19 323.08,61.81 323.11,43.51 323.14,46.11 323.17,63.58 323.2,35.36 323.23,45.02 323.26,50.25 323.29,52.31 323.32,14.39 323.35,49.15 323.38,62.7 323.41,59.7 323.45,48.88 323.48,49.05 323.51,46.11 323.54,55.44 323.57,37 323.6,50.01 323.63,58.46 323.66,53.21 323.69,49.06 323.72,37.17 323.75,40.68 323.78,48.61 323.81,45.16 323.84,43.28 323.87,13.92 323.9,51.3 323.93,40.85 323.97,38.35 324,54.53 324.03,43.53 324.06,43.78 324.09,49.88 324.12,39.88 324.15,35.44 324.18,34.46 324.21,47.2 324.24,43.52 324.27,22.7 324.3,55.98 324.33,43.21 324.36,36.77 324.39,43.9 324.42,39.03 324.45,43.69 324.49,38.09 324.52,32.99 324.55,47.48 324.58,43.45 324.61,45.88 324.64,49.24 324.67,45.54 324.7,56.25 324.73,38.18 324.76,28.95 324.79,28.93 324.82,33.06 324.85,54.64 324.88,30.71 324.91,52.24 324.94,45.86 324.97,27.56 325.01,55.68 325.04,37.24 325.07,41.01 325.1,46.82 325.13,53.79 325.16,41.28 325.19,49.82 325.22,35.28 325.25,33.55 325.28,58.64 325.31,50.22 325.34,50.27 325.37,56.74 325.4,56.12 325.43,44.5 325.46,48.56 325.49,61.27 325.53,50.54 325.56,40.35 325.59,56.97 325.62,54.25 325.65,30.05 325.68,32.66 325.71,60.97 325.74,66.18 325.77,41.71 325.8,56.83 325.83,47.79 325.86,49.7 325.89,39.95 325.92,69.72 325.95,66.57 325.98,57.17 326.01,35.58 326.05,46.84 326.08,61.81 326.11,40.6 326.14,34.44 326.17,49.14 326.2,48.54 326.23,41.13 326.26,33.7 326.29,43.88 326.32,40.21 326.35,45.81 326.38,49.02 326.41,59.47 326.44,42.88 326.47,48.24 326.5,47.7 326.53,36.39 326.57,40.65 326.6,36.97 326.63,60.53 326.66,39.97 326.69,51.03 326.72,53.14 326.75,53.56 326.78,33.68 326.81,32.59 326.84,52.26 326.87,56.31 326.9,45.22 326.93,49.78 326.96,29.36 326.99,59.43 327.02,62.98 327.05,47.81 327.09,45.25 327.12,44.07 327.15,38.09 327.18,25.37 327.21,48.65 327.24,50.6 327.27,62.3 327.3,43 327.33,37.13 327.36,47.86 327.39,33.97 327.42,45.06 327.45,30.75 327.48,42.14 327.51,55.54 327.54,51.49 327.57,60.13 327.61,62.09 327.64,42.78 327.67,36.97 327.7,26.52 327.73,45.88 327.76,47.63 327.79,62.45 327.82,35.84 327.85,41.6 327.88,51.08 327.91,38.72 327.94,39.94 327.97,63.37 328,33.9 328.03,44.04 328.06,49.12 328.09,49.37 328.13,28.5 328.16,30.55 328.19,27.76 328.22,56.42 328.25,51.66 328.28,36.62 328.31,56.99 328.34,52.29 328.37,62.74 328.4,27.49 328.43,35.11 328.46,40.93 328.49,43.24 328.52,49.37 328.55,49.18 328.58,39.42 328.61,52.21 328.65,33.52 328.68,50.1 328.71,53.77 328.74,32.84 328.77,46.74 328.8,40 328.83,49.35 328.86,67.03 328.89,40.08 328.92,58.33 328.95,34.92 328.98,60.29 329.01,63.32 329.04,42.39 329.07,41.25 329.1,44.32 329.13,57.04 329.17,36.79 329.2,59.46 329.23,49.82 329.26,57.5 329.29,48.99 329.32,37.13 329.35,51.46 329.38,39.91 329.41,38.66 329.44,61.84 329.47,56.59 329.5,49.04 329.53,51.06 329.56,42.39 329.59,63.96 329.62,38.41 329.65,33.87 329.69,46.97 329.72,58.68 329.75,45.3 329.78,50.53 329.81,39.89 329.84,46.17 329.87,38.33 329.9,49.53 329.93,23.11 329.96,67.56 329.99,61.02 330.02,40.62 330.05,59.91 330.08,38.26 330.11,57.07 330.14,44.45 330.17,54.16 330.21,49.6 330.24,43.67 330.27,46.96 330.3,49.02 330.33,24.6 330.36,45.22 330.39,54.7 330.42,36.41 330.45,37.44 330.48,33.57 330.51,28.13 330.54,54.4 330.57,35.14 330.6,34.37 330.63,45.35 330.66,42.99 330.69,74.28 330.73,54.2 330.76,28.12 330.79,62.57 330.82,50.51 330.85,42.58 330.88,36.48 330.91,29.63 330.94,62.34 330.97,44.94 331,37.07 331.03,58.01 331.06,45.73 331.09,27.19 331.12,32.66 331.15,40.15 331.18,70.54 331.21,46.61 331.25,41.63 331.28,48.32 331.31,46.36 331.34,15.64 331.37,47.42 331.4,54.69 331.43,43.01 331.46,50.22 331.49,48.33 331.52,46.69 331.55,37.89 331.58,41.69 331.61,56.93 331.64,46.63 331.67,40.78 331.7,49.86 331.73,34.28 331.76,37.86 331.8,54.9 331.83,42.27 331.86,26.23 331.89,30.32 331.92,45.89 331.95,36.7 331.98,55.74 332.01,59.3 332.04,40.01 332.07,42.97 332.1,40.4 332.13,45.59 332.16,42.21 332.19,50.29 332.22,38.05 332.25,32.51 332.28,45.91 332.32,37.5 332.35,62.41 332.38,52.93 332.41,31.43 332.44,28.37 332.47,42.94 332.5,46.35 332.53,57.57 332.56,41.85 332.59,37.85 332.62,59.63 332.65,39.96 332.68,40.62 332.71,41.1 332.74,56.21 332.77,40.13 332.8,68.44 332.84,31.01 332.87,44.05 332.9,56.56 332.93,32.39 332.96,34.23 332.99,51.62 333.02,24.11 333.05,55.03 333.08,42.33 333.11,27.12 333.14,67.23 333.17,35.7 333.2,45.97 333.23,45.5 333.26,55.73 333.29,42.16 333.32,62.46 333.36,54.68 333.39,49.66 333.42,57.18 333.45,30.2 333.48,58.15 333.51,52.62 333.54,48.4 333.57,45.32 333.6,37.72 333.63,37.46 333.66,48.27 333.69,49.05 333.72,45.01 333.75,32.68 333.78,34.6 333.81,50.33 333.84,77.1 333.88,24.7 333.91,36.18 333.94,42.81 333.97,42.07 334,50.38 334.03,55 334.06,48.55 334.09,48.78 334.12,51.37 334.15,59.39 334.18,48.36 334.21,39.79 334.24,50.12 334.27,45.14 334.3,65.3 334.33,47.35 334.36,46.53 334.4,64.25 334.43,62.02 334.46,41.38 334.49,53.15 334.52,40.64 334.55,49.4 334.58,35.74 334.61,48.61 334.64,59.87 334.67,46.18 334.7,48.51 334.73,39.02 334.76,49.69 334.79,49.14 334.82,32.09 334.85,34.11 334.88,38.03 334.92,35.35 334.95,40.97 334.98,37.93 335.01,36.89 335.04,41.46 335.07,44.74 335.1,43.98 335.13,22.18 335.16,45.22 335.19,47.63 335.22,48.86 335.25,45.67 335.28,43 335.31,56.25 335.34,75.89 335.37,42.5 335.4,60.83 335.44,42.86 335.47,43.99 335.5,34.24 335.53,29.26 335.56,39.68 335.59,50.69 335.62,63.46 335.65,52.98 335.68,44.96 335.71,65.29 335.74,44.62 335.77,45.47 335.8,39.14 335.83,48.57 335.86,44.37 335.89,52.44 335.92,49.82 335.96,62.44 335.99,44.16 336.02,21.47 336.05,43.78 336.08,39.71 336.11,54.81 336.14,23.28 336.17,52.74 336.2,37.62 336.23,44.32 336.26,54.59 336.29,29.51 336.32,45.2 336.35,43.63 336.38,40.99 336.41,45.56 336.44,51.19 336.48,38.16 336.51,49.25 336.54,44.72 336.57,51.78 336.6,59.71 336.63,55.73 336.66,50.12 336.69,45.21 336.72,33.94 336.75,61.63 336.78,44.11 336.81,66.66 336.84,55.43 336.87,50.24 336.9,80.09 336.93,63.25 336.96,43.87 337,44.15 337.03,46.45 337.06,53.09 337.09,24.59 337.12,46.9 337.15,53.66 337.18,19.47 337.21,39.43 337.24,48.92 337.27,33.86 337.3,43.84 337.33,39.15 337.36,43.09 337.39,55.26 337.42,35.99 337.45,43.8 337.48,55.08 337.52,52.7 337.55,36.14 337.58,51.04 337.61,44.9 337.64,39.04 337.67,44.11 337.7,60.06 337.73,39.21 337.76,36.31 337.79,37 337.82,29.77 337.85,41.84 337.88,37.86 337.91,30.04 337.94,48.15 337.97,28.62 338,28.63 338.04,37.8 338.07,27.62 338.1,37.14 338.13,53.84 338.16,34.39 338.19,42.2 338.22,41.37 338.25,43.86 338.28,32.25 338.31,40.03 338.34,52.05 338.37,40.67 338.4,38.32 338.43,56.54 338.46,49.53 338.49,49.04 338.52,51.2 338.56,41.99 338.59,35.54 338.62,27.12 338.65,33.84 338.68,29.59 338.71,34.33 338.74,32.48 338.77,48.98 338.8,38.67" fill="none" stroke="#4682b4" stroke-width="0.33" stroke-linejoin="bevel"/>
<line x1="222.4" y1="0" x2="222.4" y2="89.6" stroke="#262626" stroke-width="1"/>
<line x1="222" y1="89.2" x2="339.2" y2="89.2" stroke="#262626" stroke-width="1"/>
<line x1="219.6" y1="5.2" x2="222.4" y2="5.2" stroke="#262626" stroke-width="0.8"/>
<text x="217.8" y="9.1" font-size="11" text-anchor="end">5</text>
<line x1="219.6" y1="45.35" x2="222.4" y2="45.35" stroke="#262626" stroke-width="0.8"/>
<text x="217.8" y="49.25" font-size="11" text-anchor="end">0</text>
<line x1="219.6" y1="85.5" x2="222.4" y2="85.5" stroke="#262626" stroke-width="0.8"/>
<text x="217.8" y="89.4" font-size="11" text-anchor="end">−5</text>
<line x1="222.4" y1="89.2" x2="222.4" y2="92" stroke="#262626" stroke-width="0.8"/>
<text x="222.4" y="102.6" font-size="11" text-anchor="middle">0.0</text>
<line x1="291.6" y1="89.2" x2="291.6" y2="92" stroke="#262626" stroke-width="0.8"/>
<text x="291.6" y="102.6" font-size="11" text-anchor="middle">0.5</text>
<text x="292.4" y="115.2" font-size="11" text-anchor="middle">Time (s)</text>
<text transform="translate(199.9,45.6) rotate(-90)" font-size="11.5" text-anchor="middle">Deviation (nm)</text>
<text x="52.6" y="285.5" font-size="16">(b)</text>
<rect x="82" y="282.6" width="104" height="103.2" fill="#23a983"/>
<rect x="82" y="282.6" width="104" height="103.2" filter="url(#nz)" opacity="0.28"/>
<rect x="82" y="282.6" width="104" height="103.2" filter="url(#nz2)" opacity="0.35"/>
<g clip-path="url(#cL)"><rect x="82" y="282.6" width="104" height="103.2" fill="url(#rgL)" mask="url(#rgLk)"/></g>
<rect x="192.3" y="282.6" width="102.6" height="103.2" fill="#22a884"/>
<g clip-path="url(#cR)"><rect x="192.3" y="282.6" width="102.6" height="103.2" fill="url(#rgR)" mask="url(#rgRk)"/></g>
<circle cx="135.9" cy="333.0" r="2.8" fill="none" stroke="#a6d748" stroke-width="1.3" opacity="0.9"/>
<circle cx="135.9" cy="333.0" r="1.55" fill="#3b1c6e"/>
<circle cx="244.4" cy="333.1" r="3.1" fill="none" stroke="#c8df25" stroke-width="1.25"/>
<circle cx="244.4" cy="333.1" r="2.1" fill="#440154"/>
<line x1="134.8" y1="321.4" x2="246" y2="321.4" stroke="#f3c02a" stroke-width="1.1" stroke-dasharray="1 1"/>
<line x1="134.8" y1="324.9" x2="246" y2="324.9" stroke="#f3c02a" stroke-width="1.1" stroke-dasharray="1 1"/>
<line x1="134.8" y1="328.5" x2="246" y2="328.5" stroke="#f3c02a" stroke-width="1.1" stroke-dasharray="1 1"/>
<line x1="134.8" y1="336.5" x2="246" y2="336.5" stroke="#f3c02a" stroke-width="1.1" stroke-dasharray="1 1"/>
<line x1="134.8" y1="340.5" x2="246" y2="340.5" stroke="#f3c02a" stroke-width="1.1" stroke-dasharray="1 1"/>
<line x1="134.8" y1="343.8" x2="246" y2="343.8" stroke="#f3c02a" stroke-width="1.1" stroke-dasharray="1 1"/>
<rect x="161" y="374" width="17" height="2.4" fill="#fff"/>
<rect x="269.6" y="374" width="17" height="2.4" fill="#fff"/>
<rect x="302.4" y="279.3" width="5.6" height="108.0" fill="url(#cbg)" stroke="#333" stroke-width="0.6"/>
<line x1="308" y1="293.8" x2="310.4" y2="293.8" stroke="#333" stroke-width="0.7"/>
<text x="312.6" y="296.6" font-size="10.5">0.4</text>
<line x1="308" y1="318.4" x2="310.4" y2="318.4" stroke="#333" stroke-width="0.7"/>
<text x="312.6" y="321.4" font-size="10.5">0.0</text>
<line x1="308" y1="343.0" x2="310.4" y2="343.0" stroke="#333" stroke-width="0.7"/>
<text x="310.6" y="346.3" font-size="10.5">-0.4</text>
<line x1="308" y1="367.6" x2="310.4" y2="367.6" stroke="#333" stroke-width="0.7"/>
<text x="311.4" y="370.9" font-size="10.5">-0.8</text>
<text transform="translate(341,331.5) rotate(-90)" font-size="11" text-anchor="middle">Contrast</text>
<text x="372.8" y="36.5" font-size="16">(c)</text>
<polygon points="402.27,241.62 592.38,223.12 595.11,36.12 398.68,50.33" fill="#f2f2f2"/>
<polygon points="654.48,298.16 592.38,223.12 595.11,36.12 659.73,94.67" fill="#f9f9f9"/>
<polygon points="446.75,320.64 654.48,298.16 592.38,223.12 402.27,241.62" fill="#f5f5f5"/>
<polyline points="467.98,318.35 421.66,239.74 418.73,48.88" fill="none" stroke="#b3b3b3" stroke-width="0.8"/>
<polyline points="507.23,314.10 457.52,236.25 455.81,46.20" fill="none" stroke="#b3b3b3" stroke-width="0.8"/>
<polyline points="546.08,309.90 493.05,232.79 492.52,43.54" fill="none" stroke="#b3b3b3" stroke-width="0.8"/>
<polyline points="584.53,305.73 528.25,229.36 528.89,40.91" fill="none" stroke="#b3b3b3" stroke-width="0.8"/>
<polyline points="622.58,301.62 563.13,225.97 564.90,38.30" fill="none" stroke="#b3b3b3" stroke-width="0.8"/>
<polyline points="441.03,310.50 646.53,288.55 651.43,87.14" fill="none" stroke="#b3b3b3" stroke-width="0.8"/>
<polyline points="429.71,290.37 630.73,269.46 634.96,72.23" fill="none" stroke="#b3b3b3" stroke-width="0.8"/>
<polyline points="418.91,271.19 615.65,251.24 619.27,58.01" fill="none" stroke="#b3b3b3" stroke-width="0.8"/>
<polyline points="408.60,252.87 601.24,233.83 604.30,44.45" fill="none" stroke="#b3b3b3" stroke-width="0.8"/>
<polyline points="399.17,76.08 594.74,61.27 659.02,122.12" fill="none" stroke="#b3b3b3" stroke-width="0.8"/>
<polyline points="399.75,107.08 594.30,91.56 658.17,155.14" fill="none" stroke="#b3b3b3" stroke-width="0.8"/>
<polyline points="400.32,137.75 593.86,121.54 657.33,187.79" fill="none" stroke="#b3b3b3" stroke-width="0.8"/>
<polyline points="400.89,168.10 593.43,151.21 656.50,220.07" fill="none" stroke="#b3b3b3" stroke-width="0.8"/>
<polyline points="401.45,198.13 593.00,180.58 655.67,251.99" fill="none" stroke="#b3b3b3" stroke-width="0.8"/>
<polyline points="402.01,227.86 592.58,209.66 654.86,283.55" fill="none" stroke="#b3b3b3" stroke-width="0.8"/>
<polyline points="446.75,320.64 654.48,298.16" stroke="#1a1a1a" stroke-width="0.9" fill="none"/>
<polyline points="446.75,320.64 402.27,241.62" stroke="#1a1a1a" stroke-width="0.9" fill="none"/>
<polyline points="402.27,241.62 398.68,50.33" stroke="#1a1a1a" stroke-width="0.9" fill="none"/>
<line x1="467.68" y1="317.83" x2="469.52" y2="320.95" stroke="#1a1a1a" stroke-width="0.8"/>
<line x1="506.90" y1="313.58" x2="508.88" y2="316.68" stroke="#1a1a1a" stroke-width="0.8"/>
<line x1="545.73" y1="309.39" x2="547.83" y2="312.45" stroke="#1a1a1a" stroke-width="0.8"/>
<line x1="584.15" y1="305.23" x2="586.39" y2="308.26" stroke="#1a1a1a" stroke-width="0.8"/>
<line x1="622.19" y1="301.12" x2="624.55" y2="304.12" stroke="#1a1a1a" stroke-width="0.8"/>
<line x1="441.88" y1="310.41" x2="437.44" y2="310.88" stroke="#1a1a1a" stroke-width="0.8"/>
<line x1="430.53" y1="290.29" x2="426.20" y2="290.74" stroke="#1a1a1a" stroke-width="0.8"/>
<line x1="419.72" y1="271.10" x2="415.47" y2="271.53" stroke="#1a1a1a" stroke-width="0.8"/>
<line x1="409.39" y1="252.79" x2="405.24" y2="253.20" stroke="#1a1a1a" stroke-width="0.8"/>
<line x1="399.97" y1="76.02" x2="395.75" y2="76.34" stroke="#1a1a1a" stroke-width="0.8"/>
<line x1="400.54" y1="107.01" x2="396.35" y2="107.35" stroke="#1a1a1a" stroke-width="0.8"/>
<line x1="401.12" y1="137.68" x2="396.94" y2="138.03" stroke="#1a1a1a" stroke-width="0.8"/>
<line x1="401.68" y1="168.03" x2="397.53" y2="168.39" stroke="#1a1a1a" stroke-width="0.8"/>
<line x1="402.24" y1="198.06" x2="398.11" y2="198.44" stroke="#1a1a1a" stroke-width="0.8"/>
<line x1="402.79" y1="227.78" x2="398.69" y2="228.18" stroke="#1a1a1a" stroke-width="0.8"/>
<text x="471.1" y="342.9" font-size="11" text-anchor="middle">−2</text>
<text x="509.8" y="338.8" font-size="11" text-anchor="middle">−1</text>
<text x="548.8" y="334.0" font-size="11" text-anchor="middle">0</text>
<text x="587.5" y="329.8" font-size="11" text-anchor="middle">1</text>
<text x="625.5" y="325.6" font-size="11" text-anchor="middle">2</text>
<text x="398.0" y="272.8" font-size="11" text-anchor="middle">2</text>
<text x="407.9" y="291.0" font-size="11" text-anchor="middle">1</text>
<text x="418.2" y="310.5" font-size="11" text-anchor="middle">0</text>
<text x="429.0" y="330.4" font-size="11" text-anchor="middle">−1</text>
<text x="385.3" y="81.9" font-size="11" text-anchor="middle">1</text>
<text x="386" y="112.8" font-size="11" text-anchor="middle">0</text>
<text x="386.8" y="143.6" font-size="11" text-anchor="middle">−1</text>
<text x="387.8" y="173.9" font-size="11" text-anchor="middle">−2</text>
<text x="388.8" y="203.6" font-size="11" text-anchor="middle">−3</text>
<text x="389.2" y="233.4" font-size="11" text-anchor="middle">−4</text>
<text transform="translate(372.6,152.8) rotate(-90)" font-size="11" text-anchor="middle">Z (μm)</text>
<text transform="translate(396.1,307.4) rotate(61)" font-size="11.5" text-anchor="middle">Y (μm)</text>
<text transform="translate(559.8,348.1) rotate(-6.3)" font-size="11.4" text-anchor="middle">X (μm)</text>
<polyline points="572.5,102.7 573.9,103.5 572.7,103.7 572.9,103.6 574.2,102.1 574.4,102.5 573.8,104 573,104 573.4,102.2 572.5,101.6 573.7,102.8 574.5,103.1 573,103.5 573.1,104.5 574.7,106.4" fill="none" stroke="#cd0032" stroke-width="1.05" stroke-linejoin="round" stroke-linecap="round"/>
<polyline points="574.7,106.4 575.6,106.7 575,106.5 574.3,107 573.9,106.6 573.8,106 574.8,105.5 575.5,104.8 577,104.4 578.1,106.5 576.2,105.7 576.4,106.8 576.4,107.1 576.3,107.6 575.8,108.2" fill="none" stroke="#c5003a" stroke-width="1.05" stroke-linejoin="round" stroke-linecap="round"/>
<polyline points="575.8,108.2 573.9,106.5 576.4,106.9 576.2,108.8 577.7,109.6 577.8,109.9 578.6,108.3 579.5,108.2 580.7,109.4 580.3,108.9 580.6,109.5 580.4,109.4 581.2,109.8 582.2,110 581.5,108.6" fill="none" stroke="#c4003b" stroke-width="1.05" stroke-linejoin="round" stroke-linecap="round"/>
<polyline points="581.5,108.6 582.3,108.6 582.1,108.6 580.9,108.7 579.1,108.7 579,110.6 580.1,110.5 580.8,111.3 580.7,111.2 581,113.3 581.6,111.4 582.7,113.6 582.3,116.2 582.7,116.4 582.7,115.5" fill="none" stroke="#c2003d" stroke-width="1.05" stroke-linejoin="round" stroke-linecap="round"/>
<polyline points="582.7,115.5 582.2,114.1 581.1,114.8 581,114.7 582.2,113.8 583,113.6 583.2,113.5 584,112.5 583.5,111.9 584.3,113.2 586.2,113.5 587.3,113.5 588.4,113.4 588.8,113 588.7,114.4" fill="none" stroke="#c1003f" stroke-width="1.05" stroke-linejoin="round" stroke-linecap="round"/>
<polyline points="588.7,114.4 587.7,114 587.4,114.4 589.2,113.6 586.8,113.7 587.7,111.8 587.7,111.5 586.1,111.8 587,111.7 586.5,110.7 586.4,110.9 586.1,111.8 587,109.5 588.8,109.4 588.5,109.3" fill="none" stroke="#c2003e" stroke-width="1.05" stroke-linejoin="round" stroke-linecap="round"/>
<polyline points="588.5,109.3 587.1,109.3 585.4,108.2 587.1,109.1 587.1,108 588.1,107.8 588.3,108.2 587.4,108.6 585.7,109.5 584.7,108.5 584.6,108.7 585.6,108.5 586.3,108.5 586.3,106.4 584.5,104.3" fill="none" stroke="#c4003b" stroke-width="1.05" stroke-linejoin="round" stroke-linecap="round"/>
<polyline points="584.5,104.3 584.7,104.2 584.8,104.5 584.8,103.8 583.6,102.4 584.9,103.5 583.8,103.5 584.3,105 583.8,105 584.8,103.5 584,103.6 583.4,105.4 584.1,105.4 583.1,105.9 583.6,105.2" fill="none" stroke="#ca0035" stroke-width="1.05" stroke-linejoin="round" stroke-linecap="round"/>
<polyline points="583.6,105.2 583,103.7 582.8,104.4 583.5,104.8 583.9,104.1 583.3,105 583.5,104 583.8,104.5 584.3,104.3 583.6,104.3 585,104.1 584.2,104 583.1,103.9 583,104.3 583.2,104.7" fill="none" stroke="#ca0035" stroke-width="1.05" stroke-linejoin="round" stroke-linecap="round"/>
<polyline points="583.2,104.7 585.3,104 584.5,103.9 584.5,103.5 584,103.5 584.3,101.2 584.3,101.3 585.5,100.6 584.9,101.5 584.6,101.3 585.3,101.7 585.5,100.4 586.6,99.9 586.3,101.5 587.2,100.2" fill="none" stroke="#d0002e" stroke-width="1.05" stroke-linejoin="round" stroke-linecap="round"/>
<polyline points="587.2,100.2 586.9,99.8 586.5,98.1 587.5,98.8 587.8,98.4 588.1,98.9 587.4,98.5 587.2,99 587.8,97.7 587.5,99.1 587.1,99 587,99.7 587.5,98.9 587,98.3 588.2,98.6" fill="none" stroke="#d90026" stroke-width="1.05" stroke-linejoin="round" stroke-linecap="round"/>
<polyline points="588.2,98.6 587.5,99.5 587.9,98 588.5,97.2 588.5,96.4 588.9,95.9 588,96.4 588.3,97.3 589.4,97.7 590.1,98.5 590.3,97.4 591.1,95 591.2,95.4 591.2,96.7 592.3,96.8" fill="none" stroke="#dd0021" stroke-width="1.05" stroke-linejoin="round" stroke-linecap="round"/>
<polyline points="592.3,96.8 592.3,97.7 592.1,97.2 593.2,97.7 595.2,97.4 593.7,98 595,97.7 596.5,99.2 595.9,98.5 594.9,98.9 595.8,99.3 594.9,98.5 594.1,97.2 593.4,96.1 593.9,96.9" fill="none" stroke="#dc0023" stroke-width="1.05" stroke-linejoin="round" stroke-linecap="round"/>
<polyline points="593.9,96.9 595,97.3 594.9,97.6 595.9,97.7 596.3,97.8 596.2,98.2 595.7,99.3 594.9,99.9 594.3,101.2 595.7,100.5 595.7,99.6 596,100.1 598.3,99.1 599.1,98.9 599,100" fill="none" stroke="#d90026" stroke-width="1.05" stroke-linejoin="round" stroke-linecap="round"/>
<polyline points="599,100 599.1,100.5 598.5,100.6 598.2,101.7 596.6,101.2 595.4,100.5 594.8,101.6 596.6,102.7 595.3,102.6 594.2,102.8 595.3,103.2 595.8,102.9 594,101.2 594.1,101.8 595.3,101.7" fill="none" stroke="#d1002d" stroke-width="1.05" stroke-linejoin="round" stroke-linecap="round"/>
<polyline points="595.3,101.7 595.3,102.1 596.2,102.2 595.2,103.3 595.7,103.6 594.7,103.7 593.5,102.1 593.8,102 594.7,103.6 595,105.2 594.9,105.8 594.2,105.8 594.5,105.5 595.5,103.9 596,103.5" fill="none" stroke="#cc0033" stroke-width="1.05" stroke-linejoin="round" stroke-linecap="round"/>
<polyline points="596,103.5 596.5,104.2 596.5,104.1 595.9,104.9 595.8,105.4 595.2,106.7 595.1,107.6 595.4,107.9 596,108.3 596.7,109.1 597.9,109.4 599.7,108.4 601,108.3 599.8,108.6 599.9,109.9" fill="none" stroke="#c5003a" stroke-width="1.05" stroke-linejoin="round" stroke-linecap="round"/>
<polyline points="599.9,109.9 599.8,109.6 600.3,107.8 600.9,107.1 602.1,108.6 602,107.3 601.9,107.7 602.3,107.6 601,107.7 600.1,109.4 599.5,108.8 599.5,107.9 599.1,108 598.7,108 599.7,108.7" fill="none" stroke="#c4003b" stroke-width="1.05" stroke-linejoin="round" stroke-linecap="round"/>
<polyline points="599.7,108.7 598.5,108.5 599.2,108.3 599.2,108.6 599.7,108.8 599.5,108.5 599.8,108.2 601.1,108.7 600.7,109.8 600.5,110.3 600.3,110 599.5,109.9 600.5,109.9 600.1,110 600.6,112.2" fill="none" stroke="#c3003c" stroke-width="1.05" stroke-linejoin="round" stroke-linecap="round"/>
<polyline points="600.6,112.2 599.8,112.9 600,112.8 600.5,112 601.1,112.6 600.1,114.2 600.7,115.3 599.3,115 598.9,115.5 600,113.9 599.8,114.1 600.4,114.3 599.1,114.3 598,114 598,113.9" fill="none" stroke="#c1003f" stroke-width="1.05" stroke-linejoin="round" stroke-linecap="round"/>
<polyline points="598,113.9 598.2,113 600,114.6 600.1,113.8 597.8,113.6 597.4,115.9 598.3,115.7 599,116.9 598.5,118 598.3,117.4 596.9,117.3 597.5,116.1 595.7,116.7 593.4,118.2 593.2,118.6" fill="none" stroke="#bf0040" stroke-width="1.05" stroke-linejoin="round" stroke-linecap="round"/>
<polyline points="593.2,118.6 594.9,117.1 593.9,118.8 593.7,118.3 593.8,118.8 594.9,118.4 594.3,118 594.3,118.7 594.2,119.6 593.2,119.4 594.5,119.7 594.4,118.2 593.4,117.6 593.3,116.9 591.8,115.9" fill="none" stroke="#be0042" stroke-width="1.05" stroke-linejoin="round" stroke-linecap="round"/>
<polyline points="591.8,115.9 592.1,116.3 590.8,115.7 589.4,114.9 592.5,114.8 591.8,114.2 590.5,112.5 590.3,112.4 591.4,111.2 591.4,112.6 589.4,113.2 588,113.6 589.3,113.4 589.4,112.7 589.4,113.5" fill="none" stroke="#c1003f" stroke-width="1.05" stroke-linejoin="round" stroke-linecap="round"/>
<polyline points="589.4,113.5 589,113.2 589.1,113.7 587.5,113.4 586.8,113.6 587.7,113.5 588.6,112.3 587.9,111.3 587.7,111.4 587.3,110.3 587,109.9 587.3,109.8 588,110 586,109.8 584.7,110.6" fill="none" stroke="#c2003d" stroke-width="1.05" stroke-linejoin="round" stroke-linecap="round"/>
<polyline points="584.7,110.6 586,110.3 586.2,108.9 584.1,108.5 584,107.2 584.1,107.7 584.7,109 585.3,108.5 585.1,108.8 584.1,109.7 584.7,109.1 584,111.8 584.6,111.8 585.8,111.7 585.6,111.4" fill="none" stroke="#c3003c" stroke-width="1.05" stroke-linejoin="round" stroke-linecap="round"/>
<polyline points="585.6,111.4 584.4,111.1 582.8,110.6 583.3,108.5 584.7,107 585.2,106.3 584.9,105.5 586.5,106.2 587.2,106.5 586.9,106.3 585.8,106.4 585.3,105.8 583.5,105.2 583.6,104.5 583.4,104.1" fill="none" stroke="#c5003a" stroke-width="1.05" stroke-linejoin="round" stroke-linecap="round"/>
<polyline points="583.4,104.1 582.2,103.1 581.3,102.8 581,103.6 580,101.7 580.6,101.3 580.4,103.5 581.5,103.6 581.9,103.3 582.3,102.5 581.2,101.8 582.1,102.9 581.1,103.4 580.5,103.8 579.9,104" fill="none" stroke="#ce0031" stroke-width="1.05" stroke-linejoin="round" stroke-linecap="round"/>
<polyline points="579.9,104 579.5,103.1 579.2,102.6 578.5,101 579.7,100.4 577.9,98.3 575.5,97.9 577,96.6 576.9,95.4 578,96.2 578.3,97.6 579.8,98.5 579.1,97.3 578.3,95.9 580,96" fill="none" stroke="#d90025" stroke-width="1.05" stroke-linejoin="round" stroke-linecap="round"/>
<polyline points="580,96 580,96.3 581.7,96 582.4,96.4 582,94.9 582.5,94.5 581.8,95 581.8,96.1 581.1,96.2 581.4,96.1 582,95.8 582.9,95.1 581.6,95 582.6,94.5 582,94.2" fill="none" stroke="#e2001c" stroke-width="1.05" stroke-linejoin="round" stroke-linecap="round"/>
<polyline points="582,94.2 582.2,94.1 582.5,92.6 583.8,93.3 583,94.5 583.4,95.5 582.4,96.5 582.6,94.2 583.4,93.7 582.5,93.3 581,93.5 581.2,93 582.7,92.8 582.2,91.8 582.2,92.5" fill="none" stroke="#e50019" stroke-width="1.05" stroke-linejoin="round" stroke-linecap="round"/>
<polyline points="582.2,92.5 581.8,91.4 582.7,91.2 582.7,92.8 581.6,92.5 580.3,91.8 581.1,92.3 580.2,92.5 581.2,91.8 583.3,91.2 582.4,91.1 580.7,91.9 581.7,90.9 582.2,90.8 583.6,89.7" fill="none" stroke="#ea0014" stroke-width="1.05" stroke-linejoin="round" stroke-linecap="round"/>
<polyline points="583.6,89.7 582.2,87.6 581.7,86.2 581.4,86.6 581,85.8 581.9,85.7 581.8,86.5 580.5,85.6 582.5,85.4 581.2,85.2 580.5,84.1 580,84.2 579.9,84.7 578.4,83.4 579.1,83.1" fill="none" stroke="#f60008" stroke-width="1.05" stroke-linejoin="round" stroke-linecap="round"/>
<polyline points="579.1,83.1 580.1,83.5 578.7,83.9 577.9,84 579,85.6 578.9,85.7 579,85.8 576.8,84.9 577.2,84.8 576.7,85 577.8,84.5 577.6,83.7 577.7,84.2 578.9,83.3 577.8,82.1" fill="none" stroke="#f90005" stroke-width="1.05" stroke-linejoin="round" stroke-linecap="round"/>
<polyline points="577.8,82.1 578.5,82 578.5,82.1 578.6,81.6 577.4,80.7 577.4,80.8 577,80.1 578,79.5 577.9,79.1 576.9,77.7 576.3,77 576.9,76.2 576.4,76.9 576.2,77.4 576.9,76" fill="none" stroke="#fb0003" stroke-width="1.05" stroke-linejoin="round" stroke-linecap="round"/>
<polyline points="576.9,76 576.5,75.5 577.6,75.8 578,77.5 577.5,77.7 577.9,77.5 578.9,78.3 579.6,78.4 579.1,78.1 578.7,76.9 579,77.8 579,77.6 579.1,78 579.4,79.7 578.8,80" fill="none" stroke="#fb0003" stroke-width="1.05" stroke-linejoin="round" stroke-linecap="round"/>
<polyline points="578.8,80 579.5,80 579.4,79.1 579.1,79.8 580.6,79.3 581,79.9 581.8,80.1 582.1,80.9 581.1,80.9 579.8,79.3 579.5,78.3 580.3,79.6 580.5,79.7 580.6,79.8 581.1,80.4" fill="none" stroke="#fb0003" stroke-width="1.05" stroke-linejoin="round" stroke-linecap="round"/>
<polyline points="581.1,80.4 581.1,79.9 581.1,80.9 581.1,82.2 581.3,83.2 580.6,82.3 581.4,82.4 581.6,83.8 581.9,83.4 581.6,84.2 582.5,83.8 581.2,83.4 581.1,83 582.1,81.8 582.3,81.9" fill="none" stroke="#fa0004" stroke-width="1.05" stroke-linejoin="round" stroke-linecap="round"/>
<polyline points="582.3,81.9 582.5,81.1 581.6,80.1 580.7,80.5 581.1,79 581.3,77.7 578.8,78.5 580.2,77 580,77.1 580,76.2 579.9,76.1 579.8,76.3 580,75.8 580.3,74.7 581.8,73.7" fill="none" stroke="#fb0003" stroke-width="1.05" stroke-linejoin="round" stroke-linecap="round"/>
<polyline points="581.8,73.7 581.7,74.7 582.1,75.4 583.2,75 582.9,75.7 582.4,75.7 583.4,75.7 582.9,76 582.6,76.8 582.4,77.6 582.5,78.4 583.6,78.1 584.7,78.1 584.9,78.7 584.3,77.5" fill="none" stroke="#fb0003" stroke-width="1.05" stroke-linejoin="round" stroke-linecap="round"/>
<polyline points="584.3,77.5 585.5,77.4 584.5,78.9 584.5,80.7 585.7,81.4 585.7,82 584.5,82 584.7,81.5 585,80.3 585.8,81.5 584.7,81.6 586.2,82 585.4,81.1 586.2,82.7 585.5,82.6" fill="none" stroke="#fa0004" stroke-width="1.05" stroke-linejoin="round" stroke-linecap="round"/>
<polyline points="585.5,82.6 585.1,82.2 585.7,82.1 585.5,83.8 585.8,83.3 587.1,83.1 587.1,83.7 586.6,84.1 587.8,84.3 587.9,84 586.8,83.6 587.6,84.1 588.1,83.5 587.8,83.3 588.4,84.2" fill="none" stroke="#fa0004" stroke-width="1.05" stroke-linejoin="round" stroke-linecap="round"/>
<polyline points="588.4,84.2 588.9,83.5 589.1,83 589.2,81.1 588.1,80.4 588.8,80.6 589.1,81.7 588.4,82.6 588.8,81.8 590.1,80.6 589,80.5 589.3,80.5 587.5,80.3 587.5,82.3 588.7,82.1" fill="none" stroke="#fa0004" stroke-width="1.05" stroke-linejoin="round" stroke-linecap="round"/>
<polyline points="588.7,82.1 587.7,82.1 586.7,82 587.1,81.3 587.3,80.8 586.8,81.8 587.2,81.2 586.5,81 587,81.3 588.1,81.2 587,82.3 587.8,82.3 588.6,80.4 588,79.5 588.7,78.2" fill="none" stroke="#fa0004" stroke-width="1.05" stroke-linejoin="round" stroke-linecap="round"/>
<polyline points="588.7,78.2 588,79.2 588.2,78.4 589.4,77 589.2,76.7 589.1,76.3 587.9,76.3 586.6,76.6 586.2,77 585.8,76.1 586,76.9 584.2,76.6 584.8,75.2 584,75.6 583.4,74.9" fill="none" stroke="#fb0003" stroke-width="1.05" stroke-linejoin="round" stroke-linecap="round"/>
<polyline points="583.4,74.9 584.8,74.1 583.9,72.4 582.9,71.7 584.3,73.1 583,74.9 583.5,74.6 583.9,74.9 583,73.4 582,73.5 581.6,73 582.3,72.4 582.8,72.4 582.6,71.9 582.4,71.9" fill="none" stroke="#fc0002" stroke-width="1.05" stroke-linejoin="round" stroke-linecap="round"/>
<polyline points="582.4,71.9 580.8,72.4 580.8,73.6 581,73.2 580.5,71.8 579.7,73.6 581.1,74.7 581.3,75.6 581.7,74.5 581,75.9 582,76.4 581.8,76.3 581.4,75.9 580,76.4 580.1,76.5" fill="none" stroke="#fc0002" stroke-width="1.05" stroke-linejoin="round" stroke-linecap="round"/>
<polyline points="580.1,76.5 581.9,77.3 581.5,78 580.6,79 581.3,78.9 582.1,80.1 582,79.3 584.1,79.4 585.3,78.9 585.5,78.6 585.9,78.7 585.2,80.2 585.5,78.7 585.3,78.3 584.3,78.3" fill="none" stroke="#fb0003" stroke-width="1.05" stroke-linejoin="round" stroke-linecap="round"/>
<polyline points="584.3,78.3 584,78.7 583.5,77.7 583.2,78.9 582.3,79.8 582.9,79.7 583.3,79.4 582.9,79 583.4,80.5 582.9,81.7 581.4,81.1 581.1,82.7 581.1,83.3 580.1,83.3 581.3,83.2" fill="none" stroke="#fa0004" stroke-width="1.05" stroke-linejoin="round" stroke-linecap="round"/>
<polyline points="581.3,83.2 579.7,83.4 581.3,84.4 582.3,82.9 582.7,83.8 582.6,84.2 582.8,84.3 584,83.7 586.7,84 587,83.5 587.1,83.5 586,82.5 586.5,82.8 584.6,81.5 584.9,82.1" fill="none" stroke="#fa0004" stroke-width="1.05" stroke-linejoin="round" stroke-linecap="round"/>
<polyline points="584.9,82.1 585.9,81.7 586.8,82.1 586.7,82.6 587.9,83.7 588.8,83.5 588.6,83.1 588.4,83.4 588.2,84.5 588.8,85.5 589.2,86.7 589.5,87.6 590.1,88.2 590.1,87.1 589.1,88.8" fill="none" stroke="#f80006" stroke-width="1.05" stroke-linejoin="round" stroke-linecap="round"/>
<polyline points="589.1,88.8 589.8,89.1 589.9,88.6 592.5,87.7 592.4,87.8 591.4,87 591,87.1 590.9,88.1 590.2,88.7 591.8,89.6 591.1,87.3 592.2,88.1 591.9,89.5 591.9,89.8 591.4,90.2" fill="none" stroke="#f0000e" stroke-width="1.05" stroke-linejoin="round" stroke-linecap="round"/>
<polyline points="591.4,90.2 591.5,89.9 592.8,90.3 591.9,91 593.1,90.5 593.1,90.7 593.2,91 594.1,90.8 596,90.5 595.5,92.5 597.5,92.6 597.2,91.8 598,92.2 597.1,92.7 598.2,93.4" fill="none" stroke="#ea0014" stroke-width="1.05" stroke-linejoin="round" stroke-linecap="round"/>
<polyline points="598.2,93.4 599.8,94.5 599.7,94.4 599.8,95.4 600.2,96.1 600,96.4 600.7,96 599.3,97.2 599.7,96.5 599.8,96.1 598.4,95.8 597.4,95.9 597.7,96.7 598,96.8 598.2,96.3" fill="none" stroke="#e1001d" stroke-width="1.05" stroke-linejoin="round" stroke-linecap="round"/>
<polyline points="598.2,96.3 597.4,97 598.1,96.2 598.6,95.7 598.4,95.7 599.8,95.3 598.8,94.6 600.6,93.8 601.6,93.6 602.2,93.4 600.8,93 602.5,92.9 602.8,92.5 602.5,92.7 602.8,94.3" fill="none" stroke="#e4001a" stroke-width="1.05" stroke-linejoin="round" stroke-linecap="round"/>
<polyline points="602.8,94.3 602.6,93.7 601.9,92.3 600.6,92.6 599.3,93.5 600.4,92.7 599.6,92.4 599.9,92.9 599.5,92.1 599.7,91.5 599.4,89.8 598.2,89.1 598.4,89.9 600.6,91 600.8,92.1" fill="none" stroke="#e90015" stroke-width="1.05" stroke-linejoin="round" stroke-linecap="round"/>
<polyline points="600.8,92.1 600.6,91 602.3,89.7 601.5,89.1 602.4,88.4 602.5,87.9 601,87.9 600.8,86.8 599.8,86.1 600.4,86.5 600.3,86.8 599.6,87 598.9,85.7 598.2,85.7 598.3,86.4" fill="none" stroke="#f2000c" stroke-width="1.05" stroke-linejoin="round" stroke-linecap="round"/>
<polyline points="598.3,86.4 596.9,86 597.4,85 597.6,84.5 596.7,85.3 595.7,85.8 595.6,84.7 595.2,83.8 594.8,83.9 593.6,84.7 594.7,85.5 594.2,83.1 594,82.8 594.5,82.2 594.7,82.3" fill="none" stroke="#f90005" stroke-width="1.05" stroke-linejoin="round" stroke-linecap="round"/>
<polyline points="594.7,82.3 593.6,83.6 592.9,83.4 594.1,82.4 594.3,83.5 594.1,83.9 594.4,83.5 594.9,82.8 594.6,83.2 594.7,83.1 593.5,82.7 594.4,83 594.5,82.1 593.7,82.2 594.6,81.9" fill="none" stroke="#fa0004" stroke-width="1.05" stroke-linejoin="round" stroke-linecap="round"/>
<polyline points="594.6,81.9 595.2,81.4 595.6,80.4 595.1,79.6 595,80.1 593.6,79.5 592.8,78.4 591.7,77.9 592.1,79.3 591.4,79 591.4,78.6 590.9,79.3 590.8,79.1 590.1,80.2 589.5,80" fill="none" stroke="#fb0003" stroke-width="1.05" stroke-linejoin="round" stroke-linecap="round"/>
<polyline points="589.5,80 588.6,79.2 588.7,78.6 589.1,78.5 587.8,76.5 588.7,76.1 589.7,76.3 588.8,76.8 588.3,76.8 587.4,77.2 588.2,76.6 589.4,76.1 589.2,74.7 587.2,76.5 588.2,77.2" fill="none" stroke="#fb0003" stroke-width="1.05" stroke-linejoin="round" stroke-linecap="round"/>
<polyline points="588.2,77.2 586.4,77.1 586.7,76.8 586.7,75.7 586.4,74.6 585.9,74.9 585.1,74.5 584.7,74.4 585.3,74.5 585.5,73.3 584.9,74 584,73.6 583.1,74.6 582.7,73.8 583.2,74.6" fill="none" stroke="#fc0002" stroke-width="1.05" stroke-linejoin="round" stroke-linecap="round"/>
<polyline points="583.2,74.6 583.5,75.2 583.4,74.8 582.8,74.1 582.2,74.2 581.9,74 582.3,73.8 580.9,73 580,71.4 580.1,70.6 579.1,70 579.8,70.2 580.6,70.5 580,71.2 580.3,71.5" fill="none" stroke="#fc0002" stroke-width="1.05" stroke-linejoin="round" stroke-linecap="round"/>
<polyline points="580.3,71.5 579.1,71.3 578,71.3 578.1,72.6 579.1,73.1 579.6,73.2 581.4,74.3 582.8,74.3 582.1,74.8 581.3,74.7 579.6,75.1 579.1,75.3 578.3,73.4 578.2,74.1 576.6,73" fill="none" stroke="#fc0002" stroke-width="1.05" stroke-linejoin="round" stroke-linecap="round"/>
<polyline points="576.6,73 576,72.6 574.4,73.8 575.2,72.9 573.5,72.9 575.1,73.3 575.8,72.1 575.6,70.7 576.7,71.1 574.4,69.5 574.5,69.7 573.9,70.2 575.2,70.4 573.2,70.1 571.9,69.3" fill="none" stroke="#fd0001" stroke-width="1.05" stroke-linejoin="round" stroke-linecap="round"/>
<polyline points="571.9,69.3 572.1,69.2 571.2,69.3 570.6,69.9 570.5,70.3 570.4,71 570.5,71 570.1,71.1 568.9,73.3 568.7,73.2 568.7,72.6 569.4,72.2 569.3,71.2 568.8,70.6 570.6,69.9" fill="none" stroke="#fd0001" stroke-width="1.05" stroke-linejoin="round" stroke-linecap="round"/>
<polyline points="570.6,69.9 569.8,70.7 571.1,69.8 569.8,70.6 570.1,70.1 568.7,70 569.5,70.6 570.1,71.2 569.9,72.2 569.7,72.8 568.8,72.7 569.1,72.9 568.4,73.8 568.7,74 568,74.9" fill="none" stroke="#fd0001" stroke-width="1.05" stroke-linejoin="round" stroke-linecap="round"/>
<polyline points="568,74.9 569.9,74.3 568.3,73.8 567.4,72.9 566.4,73.8 567.2,75 567.7,74.5 568.4,73.8 567.9,72.8 568.6,73.7 567.9,73.3 567.7,73.3 568.1,73.2 568.1,71.8 567.5,70.4" fill="none" stroke="#fc0002" stroke-width="1.05" stroke-linejoin="round" stroke-linecap="round"/>
<polyline points="567.5,70.4 568.6,71.7 568.7,72.5 569.8,73 567.8,72.5 565.5,71.5 564.4,71.3 564.8,70.3 564.6,70.4 564.5,70.1 562.6,69.6 563.5,69.7 562.6,69.3 563.2,68.4 564.1,67.8" fill="none" stroke="#fd0001" stroke-width="1.05" stroke-linejoin="round" stroke-linecap="round"/>
<polyline points="564.1,67.8 564,67.7 566.1,67.5 565.6,68.1 565.3,68.2 563.7,68.3 564.1,67.1 565.6,66.8 565.7,65.8 564.6,65.4 563.8,66 565.1,65.5 564.2,65.2 564,65.4 564.8,65.1" fill="none" stroke="#fe0000" stroke-width="1.05" stroke-linejoin="round" stroke-linecap="round"/>
<polyline points="564.8,65.1 565.4,66 567.3,65.4 568.1,65.1 567.4,66.1 567.9,66 568.4,65.6 567.8,66.7 568.8,66.5 569.7,67.1 569.6,67.1 569.4,67.1 569.3,68.7 569.2,68.4 569.8,67.6" fill="none" stroke="#fe0000" stroke-width="1.05" stroke-linejoin="round" stroke-linecap="round"/>
<polyline points="569.8,67.6 570.6,67.2 570.3,67 569.7,67.7 570.4,68.3 569.3,68.2 569,68 570.3,68.1 570.3,68.9 571.2,70.1 569.7,70 569.6,69 570,68 568.5,67.4 568.7,69.1" fill="none" stroke="#fd0001" stroke-width="1.05" stroke-linejoin="round" stroke-linecap="round"/>
<polyline points="568.7,69.1 568.6,68.2 567.5,68.1 568,68.5 567.5,68.2 566.4,68.6 566.1,66.7 568.1,67.8 569.1,68.5 568.9,69.8 568.7,71.6 569.6,70.1 570.9,72 571.1,72.8 571.4,72.3" fill="none" stroke="#fd0001" stroke-width="1.05" stroke-linejoin="round" stroke-linecap="round"/>
<polyline points="571.4,72.3 569.7,73.3 570.1,73.5 569.9,72.7 571.5,72.5 571.7,71.6 572.4,72.6 572.4,72.6 571.9,74 572,73.9 573.9,73.9 573,73.3 573.2,75 573.9,74.8 574.9,76" fill="none" stroke="#fc0002" stroke-width="1.05" stroke-linejoin="round" stroke-linecap="round"/>
<polyline points="574.9,76 574.6,77 575.7,77.2 574,77.2 575.7,76.8 577.8,76.8 577,77.2 577.4,77.8 577.4,78.7 577.1,78.5 576.4,77.7 577,77.1 577,77 577.6,77.8 578.5,78.7" fill="none" stroke="#fb0003" stroke-width="1.05" stroke-linejoin="round" stroke-linecap="round"/>
<polyline points="578.5,78.7 578.9,78.1 577.8,77.9 577.6,76.5 579.4,75.4 579.9,76.4 579.9,79 580.1,78.4 581.7,77.9 580.6,77.4 580.3,77.8 580.8,77 581.3,79.3 580.9,79.4 581.7,80.6" fill="none" stroke="#fb0003" stroke-width="1.05" stroke-linejoin="round" stroke-linecap="round"/>
<polyline points="581.7,80.6 581.3,79.9 580.7,81.1 581.8,79.4 580.3,78.8 579.5,79.7 580.3,81.7 581.4,81.9 582.8,81.4 581.8,81.7 582.9,80.6 583.8,81.8 583.4,82.3 583.4,82.6 584.2,82.3" fill="none" stroke="#fa0004" stroke-width="1.05" stroke-linejoin="round" stroke-linecap="round"/>
<polyline points="584.2,82.3 585.1,83.4 585.8,82 584.1,83.1 583.8,82.9 583.4,82.2 583.5,82.2 583.3,83.2 582.7,84.7 581.4,87 581,87.5 582.5,87.4 583.7,87.3 582.7,87.6 584.3,87.2" fill="none" stroke="#f80006" stroke-width="1.05" stroke-linejoin="round" stroke-linecap="round"/>
<polyline points="584.3,87.2 583.3,86.9 584.1,87.4 585.5,88 586.1,86.5 588.2,86.9 588.7,87 588.4,87.5 589.6,89.1 589.9,90.9 589.3,91.2 588.7,92.1 588.7,92.7 590.1,90.7 591.7,91.1" fill="none" stroke="#ef000f" stroke-width="1.05" stroke-linejoin="round" stroke-linecap="round"/>
<polyline points="591.7,91.1 591,89.6 590.4,88 590.3,88.5 591.7,88.9 592.2,90.4 593.5,90.5 593.6,89.7 592.1,90 591.8,89.6 591.2,90.8 590.6,91.2 589.9,92.8 591.4,93.3 591.2,94.9" fill="none" stroke="#ec0012" stroke-width="1.05" stroke-linejoin="round" stroke-linecap="round"/>
<polyline points="591.2,94.9 591.5,94.4 590.2,94.1 592.1,93.8 594.3,94.2 593.6,95.6 592.9,96 591.8,95.1 591.1,95.6 590.6,94.3 591.1,94.7 590.9,94.7 589.1,96.5 589.1,97.2 590.7,98.4" fill="none" stroke="#e2001c" stroke-width="1.05" stroke-linejoin="round" stroke-linecap="round"/>
<polyline points="590.7,98.4 591,98.5 591.4,99.3 591.9,99 592.3,99.4 592.8,99.7 593.8,99.9 594.2,100.1 593.3,99.4 592.9,100.1 593.7,100.2 593,100 593.8,100.4 592.9,101.3 591.6,101.6" fill="none" stroke="#d60028" stroke-width="1.05" stroke-linejoin="round" stroke-linecap="round"/>
<polyline points="591.6,101.6 591.5,101.7 590.4,102.7 591.9,101.7 591.8,102.5 593.5,102.4 592.3,102.7 593.6,103 593.3,104.7 591.1,103 591.7,103.9 590.3,104.6 590.3,105 589.6,104.8 588.9,105" fill="none" stroke="#cd0032" stroke-width="1.05" stroke-linejoin="round" stroke-linecap="round"/>
<polyline points="588.9,105 588.8,106.4 589.5,105 589.8,106.2 589.9,106.9 589.7,107.1 588.7,107.3 587.5,107.9 586.4,105.5 587.1,105.1 587.3,105.2 587.3,104.2 587.5,104.3 587.9,105.8 587.1,105.4" fill="none" stroke="#c60039" stroke-width="1.05" stroke-linejoin="round" stroke-linecap="round"/>
<polyline points="587.1,105.4 587.5,104.7 586.3,104 587.1,103.7 587.4,103.1 587.4,102.6 586.4,102.8 586.2,104.1 584.6,104.5 585.9,105.4 585.3,104.6 584.6,104.7 584.6,104.8 584.9,103.8 583.6,102.8" fill="none" stroke="#cb0034" stroke-width="1.05" stroke-linejoin="round" stroke-linecap="round"/>
<polyline points="583.6,102.8 582.4,102.8 582.6,105.1 583,104.9 584,104.1 584,104.8 584.4,104.9 583.9,103.5 583.6,102.9 584,102.7 584.3,101.3 585,100.7 583.4,99.7 582.9,100.9 583.6,100" fill="none" stroke="#ce0030" stroke-width="1.05" stroke-linejoin="round" stroke-linecap="round"/>
<polyline points="583.6,100 583.8,100.1 582.5,99.4 581.1,98.8 579.4,98.4 579.5,98 579.6,99.3 580.2,99.5 581.5,100.2 582.6,99.6 582.2,98.8 582.3,98.8 582.7,99.6 583.1,100.8 584.4,99.9" fill="none" stroke="#d70027" stroke-width="1.05" stroke-linejoin="round" stroke-linecap="round"/>
<polyline points="584.4,99.9 585.3,97.2 586.6,97.6 586.8,96.1 588.8,96 588.4,97 587.9,96.2 588.3,95.4 588.7,95.6 589.4,94.6 590,95 591.2,94.5 592.2,95.1 592.1,94.4 591.8,95.1" fill="none" stroke="#e1001d" stroke-width="1.05" stroke-linejoin="round" stroke-linecap="round"/>
<polyline points="591.8,95.1 590.4,94.1 589.2,95.5 589,96.2 588.8,96.2 588.6,95.8 589.2,95.9 588.8,94.8 588.6,94.5 587.7,95.6 586.4,95.6 586.6,96.7 585.9,97 585.9,96 583.9,94.6" fill="none" stroke="#e1001d" stroke-width="1.05" stroke-linejoin="round" stroke-linecap="round"/>
<polyline points="583.9,94.6 584.4,95.1 583.2,95 582.9,95.1 582.9,97.3 582.3,97.5 581.8,97.1 581.2,97.1 580.9,97.6 581.3,97 582.9,96.3 583,98.5 582.2,99.7 583.2,99.9 581.3,101" fill="none" stroke="#dd0021" stroke-width="1.05" stroke-linejoin="round" stroke-linecap="round"/>
<polyline points="581.3,101 581.3,100.3 582.2,99.6 582.7,99.2 582.7,98.4 581.9,98 581,98.5 580.6,99 581.4,99.1 579.7,99.1 579.8,100.2 580.7,101.1 580.5,101.6 579.4,102.5 580.1,102.7" fill="none" stroke="#d60029" stroke-width="1.05" stroke-linejoin="round" stroke-linecap="round"/>
<polyline points="580.1,102.7 580,102.5 579.7,102.8 579,103.3 580,104.7 580.4,104.1 581,103.7 581.2,102.4 580.7,101.8 581,100.8 580.5,100.7 581.7,100.7 582.8,101.6 583.8,101.3 583.7,99.9" fill="none" stroke="#d0002f" stroke-width="1.05" stroke-linejoin="round" stroke-linecap="round"/>
<polyline points="583.7,99.9 583.4,100.6 582.9,101.9 584.6,101.6 585.6,100.5 584.9,100.5 585.2,100.7 584.7,102.7 585.2,103 586,103.2 586,102.8 584.8,104.2 584.4,102.9 584.1,101.9 586.3,102.6" fill="none" stroke="#d1002e" stroke-width="1.05" stroke-linejoin="round" stroke-linecap="round"/>
<polyline points="586.3,102.6 587.6,104.2 588,104.9 587.3,104.9 586.9,105.1 586.4,106.3 587.2,106.2 586,106.9 587,106.8 586.1,107.3 587.3,105.7 587.9,104.6 588,106.6 588.1,107.2 587.9,107.4" fill="none" stroke="#c60039" stroke-width="1.05" stroke-linejoin="round" stroke-linecap="round"/>
<polyline points="587.9,107.4 589.9,108.8 589.5,108.5 589.3,110.4 589.5,111.2 589.1,109.8 590.2,109.6 589.5,108.9 589,108.4 588,109.4 588.7,110.1 588.7,110.1 589.2,110.7 590.2,110.6 589.9,109.2" fill="none" stroke="#c3003c" stroke-width="1.05" stroke-linejoin="round" stroke-linecap="round"/>
<polyline points="589.9,109.2 589.6,108.5 589.5,107.3 591.3,107.6 589.9,106.7 589.2,107 590.7,106.2 591.6,106.1 592.8,107.3 593,107.9 592.9,107.4 591.9,107.5 591.8,107.1 591.7,106.9 590.8,106.4" fill="none" stroke="#c5003a" stroke-width="1.05" stroke-linejoin="round" stroke-linecap="round"/>
<polyline points="590.8,106.4 591.7,106.2 592.7,105.3 591.2,105.6 591.7,105.2 591.9,106.2 592.4,106.2 591.9,105 591.5,105.6 592.3,104.9 591.1,104.6 591.4,103.1 590.1,105.6 590.4,105 590,106.3" fill="none" stroke="#c70038" stroke-width="1.05" stroke-linejoin="round" stroke-linecap="round"/>
<polyline points="590,106.3 590.1,106.5 589.1,107.6 588.9,108.6 589,108.4 590,108.3 589.9,108.1 589.4,108.3 588.6,108.9 589.6,110.7 590.5,110.7 591.3,111.2 592.2,110.3 592.7,110.2 592.9,110.2" fill="none" stroke="#c4003c" stroke-width="1.05" stroke-linejoin="round" stroke-linecap="round"/>
<polyline points="592.9,110.2 592.9,110.4 590.6,110.1 590,110.7 587.9,110.2 587.4,110.7 587.7,110.5 586.6,111.3 586.6,112.3 586.4,112.9 586,113.1 586.4,113.4 585.9,113.1 585.6,112.8 586.5,115" fill="none" stroke="#c2003d" stroke-width="1.05" stroke-linejoin="round" stroke-linecap="round"/>
<polyline points="586.5,115 586.8,115 587.1,115.3 587.6,115.4 587.9,116.5 589.1,114.1 589.1,113.5 587.2,112.2 586.9,111.1 587.2,109.4 587.9,109.9 588.2,109.4 588.1,108.8 589,109.1 590.5,108.6" fill="none" stroke="#c2003e" stroke-width="1.05" stroke-linejoin="round" stroke-linecap="round"/>
<polyline points="590.5,108.6 591.3,107.9 590.7,107 590.8,107 591,108.2 590.6,108.3 591,108 590.1,108.2 590.1,108.6 590.4,107.8 590.2,108.7 589.4,108.7 588.4,108.6 589.5,108.5 588.2,108.6" fill="none" stroke="#c4003b" stroke-width="1.05" stroke-linejoin="round" stroke-linecap="round"/>
<polyline points="588.2,108.6 588,109.2 586.5,108.2 586.2,106.8 587,105.2 585.9,104.4 585.2,105.5 585.5,106.5 585.7,105 585.6,103.9 584.8,104.1 584.1,105.1 583.2,106.8 583.6,107.9 584,108.5" fill="none" stroke="#c5003a" stroke-width="1.05" stroke-linejoin="round" stroke-linecap="round"/>
<polyline points="584,108.5 583.6,109.9 582.5,109.9 582.5,109.4 582.7,108.6 583.4,109.2 583.4,109.6 582.6,108 582.2,107.9 584.5,107.9 585.2,108.8 586.7,108.9 586.9,108.9 585.8,108.2 585,109.6" fill="none" stroke="#c4003b" stroke-width="1.05" stroke-linejoin="round" stroke-linecap="round"/>
<polyline points="585,109.6 585.2,109.5 585.2,109.2 585.2,109.3 585.8,110.3 584.5,110.5 585.9,109.8 585.8,110.1 586.8,110.8 586.6,111.3 587.5,111.7 588.9,112 587.9,111.2 587.7,111 588.2,111.3" fill="none" stroke="#c3003d" stroke-width="1.05" stroke-linejoin="round" stroke-linecap="round"/>
<polyline points="588.2,111.3 589.6,111.8 590.6,111 589.9,111.4 589.8,111.7 589.8,110.9 591.1,111.7 589.6,110.8 589.6,111.1 589.6,109.7 590.3,109.4 591.2,109.6 591.9,110.1 592.4,109.4 593,109.4" fill="none" stroke="#c3003d" stroke-width="1.05" stroke-linejoin="round" stroke-linecap="round"/>
<polyline points="593,109.4 591.7,108.9 591.3,109.1 591.9,108 592.5,107.8 591.5,108.4 591,107.2 591.8,107.9 591.3,108.6 592.2,108 593.7,107.9 593.6,105.9 593.7,105.7 593.6,104.7 594.1,106.4" fill="none" stroke="#c4003b" stroke-width="1.05" stroke-linejoin="round" stroke-linecap="round"/>
<polyline points="594.1,106.4 595,104.4 594.8,105.3 591.6,105.3 591.3,107 590.4,107.5 590.2,108 589.7,109 590.4,108 591,107.7 590.5,108.9 590.4,109.6 590.9,110.2 590.3,109.5 590.8,110.4" fill="none" stroke="#c4003b" stroke-width="1.05" stroke-linejoin="round" stroke-linecap="round"/>
<polyline points="590.8,110.4 591,110.3 591.7,110.3 590.5,110.6 591,111.2 590.4,110.5 590.9,110.1 591.1,110.8 591.6,112.1 592,113.1 592.9,114.5 592.9,113.6 593.9,112.4 593.4,112 593.6,110.2" fill="none" stroke="#c2003d" stroke-width="1.05" stroke-linejoin="round" stroke-linecap="round"/>
<polyline points="593.6,110.2 593.7,109.6 593.6,109.4 593.4,109.9 593.8,109.3 593.8,109.7 594.3,110.2 594.1,109.6 595.6,109 596.6,109.1 595.8,107.4 596,106.5 595.1,104.8 595.8,104.8 595.6,105" fill="none" stroke="#c4003b" stroke-width="1.05" stroke-linejoin="round" stroke-linecap="round"/>
<polyline points="595.6,105 595.5,104.9 595.7,104.5 593.4,104.9 593.9,104.6 595.2,103.2 592.8,104.3 593.4,102.7 593.3,103 592.5,103.3 594.6,104.1 594.6,103.8 593.8,103.5 593.6,102.4 592.6,103.8" fill="none" stroke="#cb0034" stroke-width="1.05" stroke-linejoin="round" stroke-linecap="round"/>
<polyline points="592.6,103.8 592.9,102.6 592.6,103.6 594,102.8 594,103.4 593.5,102.2 592.6,102.2 591.9,101.1 591.7,102.1 592.2,101.9 593.6,101.4 593.1,100.5 593.4,100.7 591.6,100.4 592.8,101.4" fill="none" stroke="#d0002e" stroke-width="1.05" stroke-linejoin="round" stroke-linecap="round"/>
<polyline points="592.8,101.4 592.4,102.3 590.7,101.8 589.4,101.3 589.1,102 589.9,103 592,102.5 591.5,102.9 590.6,102.6 590.7,101.8 590.9,102.7 589.9,100.7 589.9,99.9 590.1,99.7 590.3,100.7" fill="none" stroke="#d1002d" stroke-width="1.05" stroke-linejoin="round" stroke-linecap="round"/>
<polyline points="590.3,100.7 590.9,100.3 589.9,98.3 588.2,97.9 588.6,97.6 588.4,96.5 587.4,95.5 588.3,94.4 589.1,94.3 589.7,95 590.3,96.3 589.6,95.7 589.2,95.2 589.8,95.3 589.8,95.8" fill="none" stroke="#df001f" stroke-width="1.05" stroke-linejoin="round" stroke-linecap="round"/>
<polyline points="589.8,95.8 589.4,96.6 587.9,96.6 588.6,95.8 588.2,96.4 588.3,94.7 587.6,95.5 587.4,96.5 589.1,96 589.9,95.2 589.8,94.6 590.5,93.7 590.5,94 591,92.6 589.5,92.4" fill="none" stroke="#e2001c" stroke-width="1.05" stroke-linejoin="round" stroke-linecap="round"/>
<polyline points="589.5,92.4 589.6,93.1 589.9,95.3 590.6,96 590.2,96.8 590.8,97.4 590.6,97.9 591.8,97.3 589.8,98.1 590.5,98 590.1,100.3 589.7,99 589.5,99.4 589.2,98.9 589.8,98.5" fill="none" stroke="#dd0021" stroke-width="1.05" stroke-linejoin="round" stroke-linecap="round"/>
<polyline points="589.8,98.5 590.2,98.4 589.6,98.5 589,99.2 588.8,98.8 588,98.3 587.8,99.5 588.5,99.7 587.9,98.4 588.7,97.2 590.4,97 591,97.5 591.3,98.3 591,98.7 592.3,98.9" fill="none" stroke="#da0024" stroke-width="1.05" stroke-linejoin="round" stroke-linecap="round"/>
<polyline points="592.3,98.9 592.5,98.7 592.7,99.4 592.5,98.2 592.7,98.4 593,98.7 594.2,98.1 593.2,99.1 592.2,99.7 592.2,98.4 592.7,100 592.8,99.2 593.3,98.9 592.9,99.8 592.1,98.9" fill="none" stroke="#d90026" stroke-width="1.05" stroke-linejoin="round" stroke-linecap="round"/>
<polyline points="592.1,98.9 591.9,99.6 591.2,99.5 591.8,100.1 591.4,100.2 591.5,100.9 591.3,100.4 591,100.6 591,102.1 591.7,103.1 591.6,103.2 591.7,103.2 591.3,103 591.1,103.4 592.4,104.3" fill="none" stroke="#d2002d" stroke-width="1.05" stroke-linejoin="round" stroke-linecap="round"/>
<polyline points="592.4,104.3 591.8,105.3 591.3,106.3 591.9,108.6 591,108.2 591,108.2 591.7,107.2 591.2,107.3 592.2,106.4 591.1,107.3 592.1,108.1 591.6,107.7 592.1,107.9 592.3,107.8 593.4,107.3" fill="none" stroke="#c5003a" stroke-width="1.05" stroke-linejoin="round" stroke-linecap="round"/>
<polyline points="593.4,107.3 593.2,106.9 593,107.1 593.2,106.7 594.7,107 594.6,108 594.4,107.9 594.6,107.4 594.6,107.5 593.7,107.2 594.2,107.6 594.7,109.5 595.3,109.2 595.3,109.2 595.6,108.9" fill="none" stroke="#c4003b" stroke-width="1.05" stroke-linejoin="round" stroke-linecap="round"/>
<polyline points="595.6,108.9 596.6,108.1 596.8,108.6 595.5,109.1 595.7,108.6 597.1,109.2 596.3,108.8 595.2,109.1 594.9,108 593.7,107.7 593.1,107.6 592.4,108.4 593.1,108.5 591.2,108.4 591.7,108.4" fill="none" stroke="#c4003b" stroke-width="1.05" stroke-linejoin="round" stroke-linecap="round"/>
<polyline points="591.7,108.4 591.9,108.4 590.7,106.4 591.3,106.2 591.6,106.1 591.5,107.3 590.5,107.2 589.8,107.1 590.4,107.5 590.6,106.2 590.9,106.8 591.8,108.3 592.2,107.2 591.8,107.2 592.7,106.2" fill="none" stroke="#c5003a" stroke-width="1.05" stroke-linejoin="round" stroke-linecap="round"/>
<polyline points="592.7,106.2 593.3,106.8 592.6,107.2 592.1,107.2 592.1,107.4 591.4,107.7 590.1,107.4 590.3,108.6 591.4,108 591.2,108 591.3,109.7 589.8,109.5 588.8,110 589.3,111 589.9,111.3" fill="none" stroke="#c4003b" stroke-width="1.05" stroke-linejoin="round" stroke-linecap="round"/>
<polyline points="589.9,111.3 591,111.6 591.8,108.7 591.9,107.3 593.2,107.6 593.7,107.8 594.2,107.1 596,107.1 595.8,105.8 595.4,105.7 595.4,105.3 595.5,104.4 595.6,103.2 595.1,102.8 596,103.4" fill="none" stroke="#c5003a" stroke-width="1.05" stroke-linejoin="round" stroke-linecap="round"/>
<polyline points="596,103.4 596.1,102.6 595.9,103.3 596.9,102.2 596.6,102.4 596.8,102.4 597.3,101.3 598.4,100.6 598.2,101.2 598.9,101.9 599.3,102.8 598.9,103.2 599.9,102.4 598.5,101.5 599.6,102.5" fill="none" stroke="#d0002f" stroke-width="1.05" stroke-linejoin="round" stroke-linecap="round"/>
<polyline points="599.6,102.5 599.2,102.5 599.4,103.2 597.9,102.7 597.8,102.9 597.9,102.7 598.2,100.8 600.6,101.8 600.9,101.7 600.8,103.5 601.8,103.6 600.3,103.6 599.8,104.1 598.6,103.7 598.9,103.1" fill="none" stroke="#ce0031" stroke-width="1.05" stroke-linejoin="round" stroke-linecap="round"/>
<polyline points="598.9,103.1 599.7,102 598.6,101.7 599.3,101.4 598.8,102 599,101.4 599.1,101.1 599.6,101 598.9,100.5 598.7,100.7 599.1,99.8 599,100 599.9,100 601.4,99.8 601.6,99.3" fill="none" stroke="#d3002b" stroke-width="1.05" stroke-linejoin="round" stroke-linecap="round"/>
<polyline points="601.6,99.3 600.5,99.2 600.6,99.3 600.4,98.8 599.5,98.4 599.7,99 596.9,99.2 597.9,99.8 598.1,99.9 597.7,99.3 598,98 597.3,97.9 596.2,97.7 595.1,97.5 595.3,96.8" fill="none" stroke="#d90025" stroke-width="1.05" stroke-linejoin="round" stroke-linecap="round"/>
<polyline points="595.3,96.8 594.7,96.3 593.2,95.8 593.7,96.7 593.6,96.3 594.9,97.4 594.6,97.8 595.5,97.6 594.6,96.4 595,97.8 594.7,98.4 596.1,96.7 595.2,97.4 595.7,97.2 595.3,97.1" fill="none" stroke="#de0020" stroke-width="1.05" stroke-linejoin="round" stroke-linecap="round"/>
<polyline points="595.3,97.1 594.4,98.4 593.3,96.1 593.3,96.7 592.7,96.1 591.8,95.5 591,94.3 589.9,93.7 591.5,93.6 591.5,95.3 590.9,94.2 591.2,93.1 591.3,94.1 590.3,93.6 591.7,92.9" fill="none" stroke="#e3001b" stroke-width="1.05" stroke-linejoin="round" stroke-linecap="round"/>
<polyline points="591.7,92.9 591,93.3 590.8,92.8 592.1,92.7 592.2,92.7 592,92.1 592.6,92.3 593.5,91.9 592.9,92.9 592.9,92.9 592.7,92.4 592.8,91 592.9,93 593.6,94.3 593.3,95.1" fill="none" stroke="#e70017" stroke-width="1.05" stroke-linejoin="round" stroke-linecap="round"/>
<polyline points="593.3,95.1 593,95.4 593,93.1 593.8,94.2 594.5,94.1 595,95.1 593.2,94.3 593.4,94.5 593.6,94.7 595,93.9 593.9,94 592.9,94.3 593.1,93.9 593.6,95.6 594.5,97.6" fill="none" stroke="#e3001b" stroke-width="1.05" stroke-linejoin="round" stroke-linecap="round"/>
<polyline points="594.5,97.6 595.2,97.6 596.3,98.1 597.3,97.9 595,96.9 594.9,97.3 594.4,98 593.2,97.3 593.8,97.2 593.7,98.1 594.3,97.2 594,95.6 593.7,96 592,97.1 593.4,97.2" fill="none" stroke="#dd0021" stroke-width="1.05" stroke-linejoin="round" stroke-linecap="round"/>
<polyline points="593.4,97.2 593.8,98 593.2,98.3 593.1,96.5 592,95.8 592.6,95.6 592.9,95 591.5,96.4 593.3,96.2 592.6,96.7 591.2,96 589.8,95.9 589.9,95.2 589.3,93.7 588.7,94.7" fill="none" stroke="#e0001e" stroke-width="1.05" stroke-linejoin="round" stroke-linecap="round"/>
<polyline points="588.7,94.7 588.6,95.6 588,95.3 587.9,95 588.8,93.5 589.5,94.3 589.5,94.5 589.4,95.3 589.5,94.8 589.7,95.8 590,95.9 590.2,95.7 589.8,94.5 589.7,95.7 589.5,95.4" fill="none" stroke="#e2001c" stroke-width="1.05" stroke-linejoin="round" stroke-linecap="round"/>
<polyline points="589.5,95.4 590.3,95.9 590.5,96.6 591.1,96.8 590.5,98.3 590.7,97.7 591,98.7 590.1,99.6 590.4,101 591.2,100.5 592.5,101.1 592.3,100.9 592.1,101.2 591.3,100.7 590.1,100.8" fill="none" stroke="#d80026" stroke-width="1.05" stroke-linejoin="round" stroke-linecap="round"/>
<polyline points="590.1,100.8 589.1,99.7 590.2,99.3 590.6,98.5 590.9,97.3 591.9,98.3 593.1,98.4 594.5,99 595.5,99.4 595.6,98.9 593.8,99.6 594.2,101.2 593.2,101.7 593.1,101.5 593.2,101.6" fill="none" stroke="#d70028" stroke-width="1.05" stroke-linejoin="round" stroke-linecap="round"/>
<polyline points="593.2,101.6 593.9,102.2 594.6,102.4 596,102.6 596.1,103.4 596.3,103.5 596.2,102.8 594.1,103.3 593.7,103.8 595.6,102.7 596.5,102.7 596.9,102 597,102.4 598,104.3 598.1,104.1" fill="none" stroke="#ce0031" stroke-width="1.05" stroke-linejoin="round" stroke-linecap="round"/>
<polyline points="598.1,104.1 599.6,104.1 599.1,104.3 599,105 598.2,105 599.4,106.4 599.2,106.6 598.6,107.3 597.8,107.3 597.3,106.8 597.1,106.9 596.5,107 596.5,106.7 595.9,106.9 596.5,108" fill="none" stroke="#c5003a" stroke-width="1.05" stroke-linejoin="round" stroke-linecap="round"/>
<polyline points="596.5,108 596.5,107.9 596.4,109.4 597,108.5 596.8,108 596.4,106.6 596.4,105.7 595.9,107 596.7,106.3 595.8,105.6 594.4,105 594.5,104.3 595.3,104.4 595.1,105.9 595.8,105.8" fill="none" stroke="#c5003a" stroke-width="1.05" stroke-linejoin="round" stroke-linecap="round"/>
<polyline points="595.8,105.8 597.3,106.6 596.6,106.5 596.1,105.2 597.4,106.3 596.1,106.4 594.7,107 594.6,106.5 595.5,106.3 595.1,106.8 594.6,107.2 594.5,107.5 594.7,107.8 593.7,108.8 593.4,109.7" fill="none" stroke="#c5003a" stroke-width="1.05" stroke-linejoin="round" stroke-linecap="round"/>
<polyline points="593.4,109.7 592.8,108.8 592.4,109.2 592,108.9 590.7,108.1 591,107.6 589.5,107.7 589,108.9 589.1,110.2 589.7,109.9 589.4,109.2 589.8,107.3 590.4,106.2 590,104.2 590.2,105.2" fill="none" stroke="#c4003b" stroke-width="1.05" stroke-linejoin="round" stroke-linecap="round"/>
<polyline points="590.2,105.2 590.1,105.7 589.5,106 590.2,105.9 590.2,106.7 589.6,107 589.4,106.7 590.8,106.5 591.5,107.6 589.1,107.8 589.4,108.5 588.1,108.6 586.8,107.7 586.4,107.8 587.4,108" fill="none" stroke="#c5003a" stroke-width="1.05" stroke-linejoin="round" stroke-linecap="round"/>
<polyline points="587.4,108 587.8,107 586.4,106.6 587.5,105.6 585.7,105.8 586.4,104.6 585.7,103.9 586.5,104.8 586.2,105 585.5,105.3 584.5,104.7 583.3,104.8 582.5,105.6 580.8,106 581.4,106.8" fill="none" stroke="#c60038" stroke-width="1.05" stroke-linejoin="round" stroke-linecap="round"/>
<polyline points="581.4,106.8 581.2,105.4 580.5,106.2 580.3,105.6 580,105.4 579.9,104 579.5,104.8 580.7,104.6 580.2,105.6 579.9,104.4 579.7,104.8 580.8,104.2 580.9,103.8 581.4,103.9 581.1,103" fill="none" stroke="#c90036" stroke-width="1.05" stroke-linejoin="round" stroke-linecap="round"/>
<polyline points="581.1,103 580.3,102.8 577.1,103.5 577.1,103.2 576.8,103.1 577,102 577.1,102.1 577,101 576.7,100.1 576.8,101.5 577.3,101.3 576.5,101 576.5,100.7 575.8,99 574.9,98.9" fill="none" stroke="#d2002d" stroke-width="1.05" stroke-linejoin="round" stroke-linecap="round"/>
<polyline points="574.9,98.9 574.3,100.5 573.2,99.7 573.7,99.4 573.5,100.1 573.4,99.9 574,101.5 572.9,101.5 573.5,101.5 572.4,101.4 572.9,100.8 572.8,101.4 572,102 572.3,102.8 572.7,101.6" fill="none" stroke="#d3002b" stroke-width="1.05" stroke-linejoin="round" stroke-linecap="round"/>
<polyline points="572.7,101.6 572.9,102.2 573.2,101.6 573.3,102 571.7,103 570.6,102.1 570.6,101.7 570.5,101.5 570.3,102.3 569.9,102.9 570.1,102.1 570.3,102.6 569.9,103.4 570.6,103.7 568.8,103.8" fill="none" stroke="#cf0030" stroke-width="1.05" stroke-linejoin="round" stroke-linecap="round"/>
<polyline points="568.8,103.8 568.2,103.3 568.1,102.8 568.9,102.8 568.3,103.3 568.4,103.9 568.3,103.5 567.7,101.5 566,102.3 565.4,103.5 566.5,102.2 566.2,104.3 565.1,104.1 564.5,103.5 563.9,103.1" fill="none" stroke="#cd0032" stroke-width="1.05" stroke-linejoin="round" stroke-linecap="round"/>
<polyline points="563.9,103.1 564.2,102.2 564.2,101.6 564.2,101.8 563.1,101.9 562.2,101.2 562.8,99.9 562.9,100.8 562,101.8 562.3,100.8 562.3,101.4 561.2,101.9 561.4,101.4 559.5,101.8 558.7,100.4" fill="none" stroke="#d2002d" stroke-width="1.05" stroke-linejoin="round" stroke-linecap="round"/>
<polyline points="558.7,100.4 558.3,98.8 558,100.5 555.7,101.2 555.3,101 554.8,101.8 555.2,101.3 554.4,101.2 555.6,100.5 556,101.2 554.4,102.4 554.6,104.3 556,103.9 555.7,103.1 554.5,103.8" fill="none" stroke="#d1002d" stroke-width="1.05" stroke-linejoin="round" stroke-linecap="round"/>
<polyline points="554.5,103.8 554.3,103.5 554.2,104.1 554.9,104.1 554.6,104.2 556,102.6 554.7,103.3 554.5,104.4 555.3,106 554.2,106.3 553.7,106.9 553.6,107.3 552.7,107.1 552.1,106.7 551.6,105.7" fill="none" stroke="#c80037" stroke-width="1.05" stroke-linejoin="round" stroke-linecap="round"/>
<polyline points="551.6,105.7 552.4,106 553,105.2 551.1,104.9 550.9,105.7 551.6,106.8 552.5,107.3 552.2,106.7 552.3,106.3 551.1,106.9 551,107.6 550,108.5 550.1,108.2 549.2,107.3 547.9,108.5" fill="none" stroke="#c5003a" stroke-width="1.05" stroke-linejoin="round" stroke-linecap="round"/>
<polyline points="547.9,108.5 546.8,108.9 546.7,108.4 546.4,108.3 547.2,108.8 547.2,107.7 545.7,109.4 545,108.1 546.1,107.1 546.6,108.2 546.7,109.2 545.4,108.4 545.2,108.6 545.1,109.2 544.5,107.7" fill="none" stroke="#c4003b" stroke-width="1.05" stroke-linejoin="round" stroke-linecap="round"/>
<polyline points="544.5,107.7 544.8,108 545.4,110.1 545.3,110.7 544.3,111.5 544.5,111.6 545.1,110.7 545.2,111.2 546.1,109.9 545.5,112 544.8,111.7 545.8,113.8 545.4,113.1 544.5,112.8 543.5,112.2" fill="none" stroke="#c2003d" stroke-width="1.05" stroke-linejoin="round" stroke-linecap="round"/>
<polyline points="543.5,112.2 543.4,112.5 543.6,112.7 542.4,113.6 542.5,113.2 542.2,113.7 542.2,113.8 542.7,114.9 542.3,115 541.3,115 541.6,115.8 541.7,115.8 541.1,116.1 540.3,116.3 540.5,115.7" fill="none" stroke="#c0003f" stroke-width="1.05" stroke-linejoin="round" stroke-linecap="round"/>
<polyline points="540.5,115.7 540.9,115.8 541.4,115.8 541.9,117.3 542,118.1 541.4,117.9 540,117.9 539.4,118.2 538.2,117.7 538.9,118.3 538.1,118.2 540.7,119.2 541,117.2 540.4,118.1 540.8,118.9" fill="none" stroke="#be0041" stroke-width="1.05" stroke-linejoin="round" stroke-linecap="round"/>
<polyline points="540.8,118.9 541.6,119.4 542.2,118.3 544,118.6 543,120.3 543.1,121.3 542.2,121.7 542.5,120.9 542,121 541.5,120.8 540.3,121.5 540.4,122.7 540.3,122.4 539,122.7 538.9,124.5" fill="none" stroke="#bc0044" stroke-width="1.05" stroke-linejoin="round" stroke-linecap="round"/>
<polyline points="538.9,124.5 540.7,125.7 539.8,124.4 539.7,123.7 540.9,123.9 540.5,123.9 541.5,123.2 541.8,122.2 541.5,122 541.8,122.4 542.7,123.1 542.1,122.1 541.5,122 541.5,121.6 542.6,122.6" fill="none" stroke="#bb0045" stroke-width="1.05" stroke-linejoin="round" stroke-linecap="round"/>
<polyline points="542.6,122.6 542.5,122.3 542.4,122.4 542.6,121.2 542.5,120 542.8,121 542.2,121.3 542.1,121 544.1,121.9 544.7,121.7 545.2,121.6 545.6,121.1 545.6,120.9 544.7,122.5 545.6,121.8" fill="none" stroke="#bc0044" stroke-width="1.05" stroke-linejoin="round" stroke-linecap="round"/>
<polyline points="545.6,121.8 544.7,121.3 544.4,121 543.7,120.5 544.4,121.1 543.5,121.2 543.5,120.5 544,120.2 545.4,121.1 545.7,120.7 547.7,122.3 548.4,122.1 549.4,123.2 549.1,124.4 549.2,124.8" fill="none" stroke="#bb0044" stroke-width="1.05" stroke-linejoin="round" stroke-linecap="round"/>
<polyline points="549.2,124.8 549.1,124.4 549.1,123.9 550.2,122.9 550.2,123.2 550.1,124.6 549.2,126.2 549.2,126.4 551,126.2 550.2,125.4 550.7,125.5 551.8,126 553.2,124.8 554.1,123.2 554.2,122.5" fill="none" stroke="#ba0046" stroke-width="1.05" stroke-linejoin="round" stroke-linecap="round"/>
<polyline points="554.2,122.5 552.7,123.4 552.9,124.3 551.9,123.3 552.3,123 552.8,122.8 552.9,122.2 554.2,122.4 553.5,123.4 554.2,123.9 554.6,123.9 554.7,122.5 553.7,122.1 554.3,123.8 554.5,124.1" fill="none" stroke="#bb0045" stroke-width="1.05" stroke-linejoin="round" stroke-linecap="round"/>
<polyline points="554.5,124.1 555.7,124.2 556.3,125.1 555.4,125.7 555.8,125.1 555.1,124.5 556.6,126.8 557.3,128.3 556.2,129.5 558,130.7 557.3,131.3 557.3,131.8 556.9,131.5 556.7,131.6 556.8,132.2" fill="none" stroke="#b70049" stroke-width="1.05" stroke-linejoin="round" stroke-linecap="round"/>
<polyline points="556.8,132.2 557.6,132.2 557.6,131.7 557.6,132.1 557.6,132.1 557.5,131.8 556.8,130.2 557.2,130.7 556.3,132.3 555.3,133 555.6,133 556.5,133.5 556.3,132.4 555.1,132.5 556.3,133.2" fill="none" stroke="#b5004b" stroke-width="1.05" stroke-linejoin="round" stroke-linecap="round"/>
<polyline points="556.3,133.2 556,133.3 556.3,134.5 555.3,134.8 555.3,133.9 554.2,134.7 554.4,134.3 554.3,134.9 554.1,136 553.7,134.9 553.4,133.8 553,134.6 554.2,134.8 554.1,133.7 552.9,133.7" fill="none" stroke="#b3004d" stroke-width="1.05" stroke-linejoin="round" stroke-linecap="round"/>
<polyline points="552.9,133.7 552.9,132.9 552.3,133.9 553,133.6 552.9,134.2 552.9,133.8 551.3,132 549.7,129.9 549.9,130.2 549.3,130.5 549.8,130.3 548.7,131.3 550,130.5 551.5,130.3 550.6,129.7" fill="none" stroke="#b5004b" stroke-width="1.05" stroke-linejoin="round" stroke-linecap="round"/>
<polyline points="550.6,129.7 549,129.3 547.8,130 548.2,128.6 548.8,127.1 548.9,127.6 548.9,126.7 548.7,126.7 548.6,128 549.8,129.1 548.9,128.2 548.7,128.4 546.7,127.6 548.2,126.5 547.3,125.9" fill="none" stroke="#b80048" stroke-width="1.05" stroke-linejoin="round" stroke-linecap="round"/>
<polyline points="547.3,125.9 547.5,126 547,124.8 547.2,125 546.4,125.3 546.9,124.3 545.3,123.9 544.6,122 544.1,123.7 543.9,125.2 541.7,125.5 543.2,127.1 543,126.7 543.4,126 543.2,125.1" fill="none" stroke="#b90047" stroke-width="1.05" stroke-linejoin="round" stroke-linecap="round"/>
<polyline points="543.2,125.1 543.3,125.7 544.6,126.5 543.9,126.9 542.7,127.4 542.6,128.1 543.3,126.8 543.5,127.9 542.4,129.9 541.8,132 542.4,132.6 542.6,133.2 541.6,132.2 540,132.6 539.7,133" fill="none" stroke="#b70049" stroke-width="1.05" stroke-linejoin="round" stroke-linecap="round"/>
<polyline points="539.7,133 540.4,131.8 541.1,132.1 541.2,132.5 541.1,132.6 541.8,131.8 540.6,131.4 541.4,131.5 542.7,129.4 541.7,129.7 541.6,131.5 541.1,131.1 541.4,132.9 539,133.6 539.2,133.1" fill="none" stroke="#b5004b" stroke-width="1.05" stroke-linejoin="round" stroke-linecap="round"/>
<polyline points="539.2,133.1 538.7,133.7 538.7,133.7 537.7,134.2 537.2,134.5 536.8,134.9 537.5,135.2 538,134.3 538.3,134.8 537.6,135 535.2,135.3 535.1,133.8 535.8,133.8 536.2,134.1 536.8,134.6" fill="none" stroke="#b3004d" stroke-width="1.05" stroke-linejoin="round" stroke-linecap="round"/>
<polyline points="536.8,134.6 536.7,135.3 537.6,133.7 537.7,133.6 536.9,135.1 538,134.5 537.3,135.4 537.1,135.2 535.9,135.3 537.4,135 537.8,136.5 538.9,137.5 539.7,138.2 538.5,137.1 537.6,138.6" fill="none" stroke="#b3004e" stroke-width="1.05" stroke-linejoin="round" stroke-linecap="round"/>
<polyline points="537.6,138.6 538.4,138 538.3,136.7 536.6,138.3 537.5,137.8 537.2,137.4 538.4,137 539.6,136.1 540.5,136.7 541.4,136.8 541.7,135.8 542.6,135.5 542.1,136.2 541.2,135.7 542.5,136.5" fill="none" stroke="#b2004f" stroke-width="1.05" stroke-linejoin="round" stroke-linecap="round"/>
<polyline points="542.5,136.5 542.6,136.4 543.5,136.3 543.3,136.6 543.9,136.7 545.2,136.8 545,136.9 546.9,136.2 546.7,135.6 547.1,134.8 547.6,135.7 547.1,135.2 546.1,135.4 545.6,135.2 545.8,134.9" fill="none" stroke="#b2004e" stroke-width="1.05" stroke-linejoin="round" stroke-linecap="round"/>
<polyline points="545.8,134.9 547,136.5 545.6,136 546.4,135.4 546.3,135.9 547.8,137.2 547.8,137.5 547.6,137.5 546.8,136.3 546.8,137.6 547.7,136.4 547.6,136.4 548,136.1 548.7,136.6 549.1,137.9" fill="none" stroke="#b2004e" stroke-width="1.05" stroke-linejoin="round" stroke-linecap="round"/>
<polyline points="549.1,137.9 547.4,138.2 548.7,138.7 549.4,139.4 548.7,140 549.4,141.3 550.3,140.6 550.5,139.8 549.9,140.1 550,140.8 550.6,140.7 550.7,141.4 550.1,140.9 550.1,141.6 550.2,142" fill="none" stroke="#b00051" stroke-width="1.05" stroke-linejoin="round" stroke-linecap="round"/>
<polyline points="550.2,142 549.5,142.7 549.6,143.4 550.8,143 551.9,140.8 552.1,140.5 553.1,140.3 553.2,140 551.6,141.1 551.9,140.8 553.4,140.9 554,140.3 552.6,140.7 551.4,141.3 549.5,141.6" fill="none" stroke="#af0052" stroke-width="1.05" stroke-linejoin="round" stroke-linecap="round"/>
<polyline points="549.5,141.6 549.2,140.9 549.6,140.8 549.4,141.6 549.9,141.9 551.2,141.7 552,141.3 552.4,141.7 551.8,140.5 550.7,140 551.3,140.3 551.1,141 551.7,142.4 551.1,142.9 551.7,142.3" fill="none" stroke="#af0052" stroke-width="1.05" stroke-linejoin="round" stroke-linecap="round"/>
<polyline points="551.7,142.3 551.7,141.7 551.5,142.4 550,142 549.6,142.5 549.2,143.2 548.8,143 549.6,143.7 549.9,143.9 550.8,145.4 550.5,144.9 549.7,146.5 549.1,145.5 549.6,146.6 548.7,146.6" fill="none" stroke="#ad0053" stroke-width="1.05" stroke-linejoin="round" stroke-linecap="round"/>
<polyline points="548.7,146.6 547.9,146.2 549.6,146.6 549.5,146.9 549.8,147.1 549,146.4 550.8,146.2 551.7,146.1 552.5,147.2 552.1,149.2 551.2,149.1 550.6,148.7 550.4,148.1 550.2,149.7 548.8,148.8" fill="none" stroke="#ab0056" stroke-width="1.05" stroke-linejoin="round" stroke-linecap="round"/>
<polyline points="548.8,148.8 548.3,148.6 549.4,149.4 549.8,149.6 551.6,148.8 550.3,148.9 550.2,148.9 549.2,147.9 548.8,147.6 548.3,147 549.3,147.7 550.5,147.5 550,147.5 549.5,147.5 548.9,146.1" fill="none" stroke="#ab0056" stroke-width="1.05" stroke-linejoin="round" stroke-linecap="round"/>
<polyline points="548.9,146.1 548.3,147 546.5,146.9 547,148.1 546.9,148.4 548.3,149.3 547.8,148.5 548.5,148.4 547.9,147.9 548.2,147.5 547.9,147.1 546.7,148.3 547.9,149.1 547.9,148.6 548.5,148.7" fill="none" stroke="#ab0056" stroke-width="1.05" stroke-linejoin="round" stroke-linecap="round"/>
<polyline points="548.5,148.7 547,148.4 546.6,147.8 546.5,148.7 547.4,148.1 548.9,147.6 548.5,147.1 548.5,146.9 549.5,146.5 549.7,147.2 550.1,147.7 550.4,146.3 549.7,144.9 551,145.4 550.8,144.7" fill="none" stroke="#ab0056" stroke-width="1.05" stroke-linejoin="round" stroke-linecap="round"/>
<polyline points="550.8,144.7 551.4,144.7 551.9,144.2 551.2,145.7 550.8,145.7 552.3,144.2 553.2,144.5 553.2,144.9 552.5,143.2 554.4,143.3 555.2,144.6 555.4,145.1 555.9,146.5 556.1,147.4 555.6,146.9" fill="none" stroke="#ad0054" stroke-width="1.05" stroke-linejoin="round" stroke-linecap="round"/>
<polyline points="555.6,146.9 555.5,147.2 555.7,148.7 556.1,148.5 557.4,148.6 557.1,148.8 556.3,147.8 555.9,147.6 554.8,147.8 554.4,147.4 552.8,147.5 554.2,148.4 554.8,148.5 555.3,148.2 554.5,148.8" fill="none" stroke="#ab0056" stroke-width="1.05" stroke-linejoin="round" stroke-linecap="round"/>
<polyline points="554.5,148.8 553,149 553.1,150.5 552.4,150.9 551.7,150.4 549.6,149.7 550.8,150.3 551,152.5 551.5,151.3 551.3,151.1 552.5,150.3 552.6,151.1 551.7,151 550,150.8 548.3,150.3" fill="none" stroke="#a90058" stroke-width="1.05" stroke-linejoin="round" stroke-linecap="round"/>
<polyline points="548.3,150.3 550.1,150.4 550.2,150.3 551.9,150.4 552.5,149.8 551.8,148.6 551.4,147.9 552,148.4 551.5,147.9 548.9,147.3 549.1,147.9 546.6,145.9 547,145.4 547.1,145.3 547.7,144.2" fill="none" stroke="#ab0056" stroke-width="1.05" stroke-linejoin="round" stroke-linecap="round"/>
<polyline points="547.7,144.2 547.2,145.5 547.4,145.1 547.7,145.7 546.8,146.5 547.3,146.5 547.9,145.7 548.1,145.8 547,145.5 547.6,145.4 546.9,145.1 546,146.2 547.5,147.4 547.3,147.9 546.5,147.4" fill="none" stroke="#ac0055" stroke-width="1.05" stroke-linejoin="round" stroke-linecap="round"/>
<polyline points="546.5,147.4 545.1,148.4 544.5,147.6 543.8,147.7 543.2,147.5 543.4,148.4 542.4,148.3 542.1,147.5 543.6,147.7 543.3,147.8 543.4,148.2 543.2,148.1 543.2,147.6 543.3,146.6 543.6,147" fill="none" stroke="#ab0056" stroke-width="1.05" stroke-linejoin="round" stroke-linecap="round"/>
<polyline points="543.6,147 543.3,146.2 543.9,145.2 544.8,145.5 543,144.6 542.6,145 543.8,143.7 543.6,143.5 543.6,143.9 544.8,144 545.9,144.4 545.9,143.6 545.4,143.9 546.3,144.3 546.1,143.4" fill="none" stroke="#ad0054" stroke-width="1.05" stroke-linejoin="round" stroke-linecap="round"/>
<polyline points="546.1,143.4 546.5,144 546.9,143.6 546.3,143.4 546.9,142.1 548.4,141 549,140.6 549,139.7 548.4,140.2 548.2,139.7 548.9,140 549,139.9 550.3,139.5 550.4,139.6 549,137.7" fill="none" stroke="#af0051" stroke-width="1.05" stroke-linejoin="round" stroke-linecap="round"/>
<polyline points="549,137.7 549.1,138.3 549.3,137.7 548.8,138.3 548.8,136.9 549.5,137.2 549.9,138.1 551.1,138.5 550.9,136.7 551.1,136.8 552.2,138 552.4,139.2 552.3,139 551.6,138.7 551.8,139.6" fill="none" stroke="#b1004f" stroke-width="1.05" stroke-linejoin="round" stroke-linecap="round"/>
<polyline points="551.8,139.6 551.4,140.1 553.4,138.9 553.1,139 553.9,140.6 554.8,140.4 554,140.2 553.9,140.4 553.3,141.5 552.9,141.8 553.3,140.7 553.6,140.7 553.7,141.3 553.6,143.2 554.8,142.1" fill="none" stroke="#af0051" stroke-width="1.05" stroke-linejoin="round" stroke-linecap="round"/>
<polyline points="554.8,142.1 553.1,142.9 553.7,142.7 553.4,141.3 552.4,143.4 554.4,142.7 556.3,141 557.1,141.7 556.5,141.4 555.9,141.6 557.3,142.5 557.8,143.3 556.4,144.8 556.6,143.3 556.4,142.6" fill="none" stroke="#ae0052" stroke-width="1.05" stroke-linejoin="round" stroke-linecap="round"/>
<polyline points="556.4,142.6 556.6,142.8 554.9,143.6 556.5,142.5 557.7,143.4 558.3,144.4 556.8,144.5 555.8,145.9 555,144.2 555.9,144.2 555.8,143.8 556.1,144.8 555.2,143.7 554.6,143.2 554.5,141.8" fill="none" stroke="#ae0053" stroke-width="1.05" stroke-linejoin="round" stroke-linecap="round"/>
<polyline points="554.5,141.8 554.6,140.6 554.1,140.4 553.8,141.6 554.9,142.2 555.8,141.7 556.4,141.4 555.8,141.4 554.1,140.7 553.6,140.9 553.1,140.2 551.9,140.3 550.8,139.4 550.6,139.8 549.9,138.6" fill="none" stroke="#af0051" stroke-width="1.05" stroke-linejoin="round" stroke-linecap="round"/>
<polyline points="549.9,138.6 550.2,139.7 549.8,139.6 547.9,140.7 547.3,141.4 547.1,141.4 547.3,140 549.7,139.1 549.6,139 549.2,140.7 547.5,140.9 547.9,141.3 548.2,140.9 546.7,140.2 546.4,141.3" fill="none" stroke="#b00051" stroke-width="1.05" stroke-linejoin="round" stroke-linecap="round"/>
<polyline points="546.4,141.3 546.6,142.9 546.6,143.2 546.7,141.9 547.1,141.3 546.6,143.6 545.4,143.8 545.7,144 545.6,143.7 547.1,142.3 545.9,143.9 546.2,143.5 545.2,143.6 547.2,144.4 545.9,144.8" fill="none" stroke="#ae0053" stroke-width="1.05" stroke-linejoin="round" stroke-linecap="round"/>
<polyline points="545.9,144.8 545.1,146.2 545.1,147.3 545,148.8 545.1,148.7 544,148.1 544.1,147.6 545.9,147.6 544.8,148.4 544,148.6 543.7,148 544.5,148.1 545,147.9 543.4,147.1 542.7,147.2" fill="none" stroke="#ab0056" stroke-width="1.05" stroke-linejoin="round" stroke-linecap="round"/>
<polyline points="542.7,147.2 542.5,148 541.3,148.4 540.3,148.1 542.5,149.4 541.9,150.9 542.8,151.6 543.6,151.2 543,150.5 543,149.5 542.1,150.2 541.3,150.7 542.5,150.1 543.1,149.8 541.8,150.4" fill="none" stroke="#aa0057" stroke-width="1.05" stroke-linejoin="round" stroke-linecap="round"/>
<polyline points="541.8,150.4 542.2,150.1 541,150.2 540.1,150.8 539.3,150.9 539.4,151 540.2,150.8 539.4,152.9 540.6,153 541.1,153.4 540.5,154 540.6,155 539.1,155.4 539.5,154.6 539.4,154.2" fill="none" stroke="#a7005a" stroke-width="1.05" stroke-linejoin="round" stroke-linecap="round"/>
<polyline points="539.4,154.2 538.6,153.7 539.7,152.5 539.7,150.9 539.6,151.7 540,152.1 539.5,152.9 539.3,153.7 540,153.4 541.7,153 542.8,153.1 542.9,153.9 543.4,153.7 543.4,153.7 543.6,153.2" fill="none" stroke="#a6005b" stroke-width="1.05" stroke-linejoin="round" stroke-linecap="round"/>
<polyline points="543.6,153.2 542.9,151 543.1,151 544.3,151.5 545.3,152.9 545.2,152 545.9,151.4 545.7,152.5 546.2,153.2 545.1,152.8 546.2,151.4 546.4,151.6 544.6,152.7 544.4,152.1 546.2,150.3" fill="none" stroke="#a8005a" stroke-width="1.05" stroke-linejoin="round" stroke-linecap="round"/>
<polyline points="546.2,150.3 546.8,149.9 546.9,149.2 548,148.4 548,149 547.7,148.8 547.2,149.7 547.3,149.6 546.2,149.7 546.4,149.6 547.4,148 548.9,148 547.3,146.8 547.5,147.6 546.7,147.8" fill="none" stroke="#aa0057" stroke-width="1.05" stroke-linejoin="round" stroke-linecap="round"/>
<polyline points="546.7,147.8 546.4,147.6 546.8,148.3 546.1,147 546.7,146.9 545.2,148.2 545.1,146.7 543.3,146.6 542,146.8 544,149.4 543.5,149.9 543.8,149.5 542.1,150.2 541.7,150.2 542,149.2" fill="none" stroke="#ab0056" stroke-width="1.05" stroke-linejoin="round" stroke-linecap="round"/>
<polyline points="542,149.2 543,149.1 542.6,148.6 542.6,149.3 541.6,149.6 540.7,148.3 540.1,148.8 540.2,149.5 539.3,149 539,149.4 538.6,148.4 537.1,149.3 537.9,148.5 538.8,148.4 538.7,149.3" fill="none" stroke="#aa0057" stroke-width="1.05" stroke-linejoin="round" stroke-linecap="round"/>
<polyline points="538.7,149.3 537.9,148.5 536.1,148.7 536.3,149.2 536.6,149.1 537.2,148.1 537.1,148.4 536.6,149.6 536.6,150.3 536.9,149.5 538,149.9 537.4,149.3 536,148.6 535.5,148.3 534.8,148.3" fill="none" stroke="#aa0057" stroke-width="1.05" stroke-linejoin="round" stroke-linecap="round"/>
<polyline points="534.8,148.3 534.6,146.5 534,145.6 532.8,145.2 533.6,144.2 531.9,144.1 534.5,143.6 534.4,143.3 534.8,144.5 534.3,145.2 533.2,145 532,144.8 531.5,144.6 530.7,144.4 531,143.6" fill="none" stroke="#ad0054" stroke-width="1.05" stroke-linejoin="round" stroke-linecap="round"/>
<polyline points="531,143.6 530.5,142.3 530.4,142.5 530.4,142.4 531.6,141.9 531.8,142.4 532.2,142.4 532.1,143.6 532,142.7 532.4,143.5 533.4,142.9 533.8,142.7 533.5,142.6 533.8,142 534.9,141.1" fill="none" stroke="#ae0052" stroke-width="1.05" stroke-linejoin="round" stroke-linecap="round"/>
<polyline points="534.9,141.1 535.5,142.3 536.7,141.8 535.8,139.8 535.2,141.3 533.5,139.4 534,139.4 532.3,138.9 532.6,137.2 533.3,135.9 534.1,136 533.4,134.6 533,134.6 532.9,134.1 532.7,134.8" fill="none" stroke="#b1004f" stroke-width="1.05" stroke-linejoin="round" stroke-linecap="round"/>
<polyline points="532.7,134.8 532,134.5 532.5,134.4 533.3,135.5 533,135.4 530.5,134.8 531.4,133.7 532.5,132.1 533.5,132 532.3,131.8 531.9,131.3 530.6,131.2 531.4,131.9 532.2,131.7 531.6,131.7" fill="none" stroke="#b4004c" stroke-width="1.05" stroke-linejoin="round" stroke-linecap="round"/>
<polyline points="531.6,131.7 531.4,132.3 532.5,133.1 532.1,134.2 530.9,133.1 531,133.3 530.7,134.1 530,133.9 529.9,134.3 530.3,134.3 530,132.3 530.5,131.3 529.9,133.9 529.1,132.7 530,132.6" fill="none" stroke="#b4004c" stroke-width="1.05" stroke-linejoin="round" stroke-linecap="round"/>
<polyline points="530,132.6 529.3,132.9 529.3,133.9 528.7,135 527.5,135.7 526.7,136.3 526,135.9 527,135.1 525.8,135.8 525.4,135.6 525.2,137.5 524.2,137.3 524.4,136.6 524.3,137.1 523.5,138.1" fill="none" stroke="#b3004e" stroke-width="1.05" stroke-linejoin="round" stroke-linecap="round"/>
<polyline points="523.5,138.1 522.6,138 523.1,140.7 521.8,140.6 524.1,139.8 524.9,139.9 523.5,140.2 522.7,140.2 521.6,140.8 519.9,140.6 521.4,141 521.4,140.8 521.3,143 521.5,142.7 521.1,142.2" fill="none" stroke="#af0051" stroke-width="1.05" stroke-linejoin="round" stroke-linecap="round"/>
<polyline points="521.1,142.2 521.8,141.7 521.3,141.3 521.2,141.6 521,141.7 520.5,142.9 520.9,142.7 521.3,142.8 520,142.7 521.6,143.2 522.4,142.7 520.9,142.3 521.9,141.7 521,142.9 520.6,142.9" fill="none" stroke="#ae0052" stroke-width="1.05" stroke-linejoin="round" stroke-linecap="round"/>
<polyline points="520.6,142.9 520.8,143.1 520.3,143.4 519.5,143.4 519.9,142.6 519.5,141.9 519.9,142.8 520.3,143.8 520.7,144.4 519.5,145.1 518.4,146.8 518.3,146.9 517,147.3 517.8,145.6 517.1,145" fill="none" stroke="#ad0054" stroke-width="1.05" stroke-linejoin="round" stroke-linecap="round"/>
<polyline points="517.1,145 516.3,146.1 517.9,145 518.3,144.7 518.8,142.8 517.8,144.1 516.6,145.2 515.8,146.1 515.9,145.6 514.9,145.5 515.6,145.4 514.6,148.1 513,147.5 513.4,146.4 513.1,146" fill="none" stroke="#ac0054" stroke-width="1.05" stroke-linejoin="round" stroke-linecap="round"/>
<polyline points="513.1,146 511.8,146.3 510.8,145.7 511.9,144.8 512.3,146 513,146.5 512.6,145.4 512.7,146 512.2,145.4 512.9,144.8 513.2,144.9 511.8,146.6 512.5,147.2 511.5,147.2 512.1,146.7" fill="none" stroke="#ac0055" stroke-width="1.05" stroke-linejoin="round" stroke-linecap="round"/>
<polyline points="512.1,146.7 513.7,145.2 514.3,144.1 513.1,143.6 513.8,143.6 513.4,143.5 512.5,143.4 512.2,143.7 512.4,142.3 512.5,144 512.7,144.4 512.7,144.2 513.3,143.5 513.7,142.7 514.6,142" fill="none" stroke="#ad0053" stroke-width="1.05" stroke-linejoin="round" stroke-linecap="round"/>
<polyline points="514.6,142 515.5,143.5 514.6,144.5 514.8,145.7 514.9,145.5 515.2,146.6 514.3,147.1 515.1,146.5 515.6,147.1 516.9,148.3 516.8,146.3 516.9,146 517.1,147 519.5,147 518.3,147.6" fill="none" stroke="#ac0055" stroke-width="1.05" stroke-linejoin="round" stroke-linecap="round"/>
<polyline points="518.3,147.6 518.2,147.3 519.4,147.4 519.8,147.3 520.7,147.5 522.6,144.8 522,144.5 522.8,144.8 523.6,143.8 523.4,144.6 523.4,144.4 523.7,145.9 522.1,147.1 522.7,146.2 523.6,146.1" fill="none" stroke="#ac0055" stroke-width="1.05" stroke-linejoin="round" stroke-linecap="round"/>
<polyline points="523.6,146.1 524.8,145.4 525.7,144.7 526,145.4 525.9,146 525.5,146.8 525.2,146.1 525.4,146.1 525,146.8 525.3,147.2 524.5,146 524.8,145.3 525.2,145.9 526.6,147.2 527.6,146.6" fill="none" stroke="#ac0055" stroke-width="1.05" stroke-linejoin="round" stroke-linecap="round"/>
<polyline points="527.6,146.6 528.3,146.2 528.9,145.5 530.1,146 529.8,145.1 530.1,145 530.3,144.8 529.9,145.7 531.3,145 531.1,145.8 531,145.8 532.8,145.5 532.9,145.6 532.6,144.3 533.2,144.9" fill="none" stroke="#ac0054" stroke-width="1.05" stroke-linejoin="round" stroke-linecap="round"/>
<polyline points="533.2,144.9 532.3,146.9 532.1,146.8 531.5,148.1 531.7,148.1 530.8,147.7 531.4,148.1 530.1,147.8 530.8,150.4 530.7,148.7 531.8,148.8 531.1,149.6 531.4,149.2 530.8,149.5 531.4,148.5" fill="none" stroke="#ab0056" stroke-width="1.05" stroke-linejoin="round" stroke-linecap="round"/>
<polyline points="531.4,148.5 532.7,148.1 534,149.1 533.9,150 533.5,150.5 535,150.5 535.5,150.4 535.3,151.7 534.2,152.4 532.5,151.9 532.4,153.1 533.3,152.7 533.4,153.3 532.3,154.1 533.7,155.4" fill="none" stroke="#a80059" stroke-width="1.05" stroke-linejoin="round" stroke-linecap="round"/>
<polyline points="533.7,155.4 533.3,155.2 532.7,155.1 532.8,155.9 533.1,155.4 533.9,156.4 533.4,156.4 533.3,155.3 533.4,156.3 534.9,156.7 534.3,156.8 534.5,157.7 533.5,157.9 533.8,156.4 534.5,156.6" fill="none" stroke="#a3005e" stroke-width="1.05" stroke-linejoin="round" stroke-linecap="round"/>
<polyline points="534.5,156.6 534.7,156.9 534,157.2 533.7,158.2 533,157.5 532.1,157 532.4,156.6 533.2,157.2 532.6,158.7 531.8,158.7 532,159.5 530.7,161.6 530.8,160.3 530.3,161 530.1,161.6" fill="none" stroke="#a10061" stroke-width="1.05" stroke-linejoin="round" stroke-linecap="round"/>
<polyline points="530.1,161.6 531.7,162 532.6,162.2 531.3,163 530,163.3 530,162 528.9,161.5 528.8,162.2 528.5,163.3 528.7,162.1 527.7,161.7 526.9,161.2 527.3,161.1 527.7,160.2 526.5,158.9" fill="none" stroke="#9e0064" stroke-width="1.05" stroke-linejoin="round" stroke-linecap="round"/>
<polyline points="526.5,158.9 524.7,158.5 524.7,158.4 524.5,160.1 523.5,159.6 523.1,158.7 524.1,158.6 524.9,157.7 526,159.7 524.7,159.5 524.2,159.9 522.8,160.1 523.1,159.4 521,158.8 520.7,159.5" fill="none" stroke="#a00061" stroke-width="1.05" stroke-linejoin="round" stroke-linecap="round"/>
<polyline points="520.7,159.5 520.2,158.6 520.7,159 521.2,159.1 521.8,159.6 520,159.8 520.5,159.8 521.5,159.4 521.6,158.5 521.1,158.3 519.9,157.6 519.7,158.4 518.9,157.7 518,158.7 516.9,159.9" fill="none" stroke="#a10061" stroke-width="1.05" stroke-linejoin="round" stroke-linecap="round"/>
<polyline points="516.9,159.9 515.6,160.3 516.3,161.3 515.9,160.6 514.8,161.3 514.9,160.8 514.6,161 514.8,161.9 513.1,162.4 512.9,162 512.9,161.7 513.7,161.7 512.6,161.5 512.6,161.7 512.8,161.4" fill="none" stroke="#9e0063" stroke-width="1.05" stroke-linejoin="round" stroke-linecap="round"/>
<polyline points="512.8,161.4 513.6,160.4 515.2,160 514,160.8 514.5,161.7 515.3,162 514.7,162 514.2,161.4 515,162.7 514.3,162.2 513.3,160.7 512.3,160.3 512,159.7 510.1,160.5 511.4,159" fill="none" stroke="#9f0063" stroke-width="1.05" stroke-linejoin="round" stroke-linecap="round"/>
<polyline points="511.4,159 511,160.1 509.8,159.3 509.8,159.6 509.1,161.4 510.3,162.1 509.9,162 510.4,162 511.2,163.2 510.2,163.9 511.1,164.4 509.8,164.2 509.1,164.3 508.9,164 509.3,165.2" fill="none" stroke="#9d0064" stroke-width="1.05" stroke-linejoin="round" stroke-linecap="round"/>
<polyline points="509.3,165.2 508.4,164 508.5,164.2 508.5,163.9 508.5,163.5 509,165.2 507.9,163.3 507.3,163.5 507.3,164 507.5,166.7 506.8,166.6 507.1,165.3 507.5,165.2 506.1,165.1 506.5,166.3" fill="none" stroke="#9b0067" stroke-width="1.05" stroke-linejoin="round" stroke-linecap="round"/>
<polyline points="506.5,166.3 507.4,167.1 506.5,167.9 506.3,170 504.5,171.3 505.3,171.4 505.2,170.8 504.5,169.5 506.2,170.5 506.6,170.9 504.8,170.8 505,171.8 504.2,172.1 504.2,172.1 503.8,172.5" fill="none" stroke="#95006d" stroke-width="1.05" stroke-linejoin="round" stroke-linecap="round"/>
<polyline points="503.8,172.5 504.2,171 505.4,173.1 504.8,174.1 504.3,173.6 506,173.8 507.3,174.1 508,174 508.9,175.5 509.1,175 508.5,174.3 508.8,174.9 508,175.8 507.4,177.3 508.1,178.4" fill="none" stroke="#910071" stroke-width="1.05" stroke-linejoin="round" stroke-linecap="round"/>
<polyline points="508.1,178.4 507.5,177.3 506.1,177.7 505.5,178.7 506,179.1 505.3,178.4 506,178.9 505.4,179 505.3,179.6 505.7,179.2 506.6,180 506.9,180.8 506.5,180.8 506.1,180.7 506,180.6" fill="none" stroke="#8c0076" stroke-width="1.05" stroke-linejoin="round" stroke-linecap="round"/>
<polyline points="506,180.6 507.2,179.7 506.3,179.6 507.4,179.8 507.3,180.6 507.6,181.2 507.5,181.5 509.1,180.9 509.2,181.3 510,181.5 510.1,180 510.3,179 510.5,177.2 511.7,179 512,178.4" fill="none" stroke="#8b0077" stroke-width="1.05" stroke-linejoin="round" stroke-linecap="round"/>
<polyline points="512,178.4 511.5,179.1 512,178.5 512.7,179 512.8,178.5 512.5,177.8 512.3,177.2 513,177.2 512.8,177.4 512.6,176.2 513.3,176.3 512.4,175.4 511.5,175 511.3,174.4 511.2,174.6" fill="none" stroke="#8e0074" stroke-width="1.05" stroke-linejoin="round" stroke-linecap="round"/>
<polyline points="511.2,174.6 510.4,176.4 510.3,176.4 510.3,175.9 510.8,176.7 510.5,175.6 510.8,173.5 510.8,173.3 510.8,172 510.3,171.3 509.7,171.9 509.5,171.5 510.4,171.5 508.6,170.7 508.9,171.2" fill="none" stroke="#920070" stroke-width="1.05" stroke-linejoin="round" stroke-linecap="round"/>
<polyline points="508.9,171.2 509.1,171.4 508.2,171.4 507.2,170.8 506.6,170.3 506.4,170.4 505.9,171.5 505.7,172.7 506.6,171.7 507.3,170.6 508.2,171.2 507,169.6 506.4,169 507.1,168.5 506.5,169.5" fill="none" stroke="#95006d" stroke-width="1.05" stroke-linejoin="round" stroke-linecap="round"/>
<polyline points="506.5,169.5 506.2,170.2 505.7,171.2 504.7,171.9 503.5,172.1 502.6,172.1 503.1,173.2 501.7,172.6 501,173.6 500.5,174.1 500.4,172.8 500.7,172 501.4,172.9 502.4,172.3 503.4,173.3" fill="none" stroke="#93006f" stroke-width="1.05" stroke-linejoin="round" stroke-linecap="round"/>
<polyline points="503.4,173.3 501.5,175.1 502.7,174.1 502.5,173.1 502,173.4 502.1,173 501.6,172.5 501.5,173.4 501.2,174.5 501.3,174.9 501.8,173.9 501.1,172.7 500.6,172.8 500.8,172.9 499.7,173.2" fill="none" stroke="#920070" stroke-width="1.05" stroke-linejoin="round" stroke-linecap="round"/>
<polyline points="499.7,173.2 499.2,174 498.1,173.2 496.6,174.5 495.5,174.4 494.7,175.3 494.5,176.4 494.1,176.5 495,177 494.1,176.4 494.2,174.7 495,175 495.4,173.7 495.4,174.1 496.1,173.7" fill="none" stroke="#910072" stroke-width="1.05" stroke-linejoin="round" stroke-linecap="round"/>
<polyline points="496.1,173.7 496.4,175.2 495.8,174.6 495.3,173.1 494.8,174.4 493.9,174.1 494.8,174.5 494.7,174.1 494.4,174 494.7,174.1 495.1,172.6 495.3,172.5 494.8,172.4 494.8,172.7 494.8,172.4" fill="none" stroke="#920070" stroke-width="1.05" stroke-linejoin="round" stroke-linecap="round"/>
<polyline points="494.8,172.4 494.4,173.7 494.7,173.7 494.2,173.6 493.5,173.9 494,174.6 494.5,176 492.8,176.2 491.9,174.9 490.7,174.7 491.7,175 491.1,175.1 490.2,175.4 489.8,174.1 489.2,176.9" fill="none" stroke="#910071" stroke-width="1.05" stroke-linejoin="round" stroke-linecap="round"/>
<polyline points="489.2,176.9 489.5,176.6 489.8,175.5 489.6,176.1 488,175.2 487.7,174.8 487.2,174.9 488,175 488.7,175.5 487.9,175.4 487.4,175.5 487,174.9 488.2,174.4 486.7,174.1 486.8,173.4" fill="none" stroke="#900072" stroke-width="1.05" stroke-linejoin="round" stroke-linecap="round"/>
<polyline points="486.8,173.4 486.7,174 486.2,173.4 485.5,173.4 485.4,172.3 485.2,173.5 483.8,172 484.3,170.7 485.8,169.4 484.6,169.1 485.4,169.9 485.6,170.1 486.4,168.5 486.2,169.8 484.9,169.9" fill="none" stroke="#94006e" stroke-width="1.05" stroke-linejoin="round" stroke-linecap="round"/>
<polyline points="484.9,169.9 485.6,170.7 485.1,171.8 485.2,172.1 484,170.8 483.2,171.7 481.3,169.6 482.1,169.4 479.8,168.7 479.9,169.4 478.7,168.6 480,168.8 479.6,168.2 478.8,168.9 478.9,169.3" fill="none" stroke="#96006c" stroke-width="1.05" stroke-linejoin="round" stroke-linecap="round"/>
<polyline points="478.9,169.3 480,168 480.2,168 480.7,168.7 481.7,168.3 482.2,167.1 481.6,167 481.9,165.6 481.7,164.6 481.2,165.4 480.5,164.5 481.1,164.2 481.2,162.8 481.2,162.4 480.5,161.8" fill="none" stroke="#9a0068" stroke-width="1.05" stroke-linejoin="round" stroke-linecap="round"/>
<polyline points="480.5,161.8 480.4,162.4 481.9,162.3 482.9,162.1 481.4,162 482.3,162.8 481.2,164.2 480.5,163 479.9,163.7 480.2,163.8 478.3,163.2 478.3,163.2 478,163.5 477.5,161.8 476.4,162.4" fill="none" stroke="#9d0065" stroke-width="1.05" stroke-linejoin="round" stroke-linecap="round"/>
<polyline points="476.4,162.4 477.2,161.3 478.1,160.9 477.9,159.4 477.4,159.4 477.5,158.9 478.1,160.1 477.3,160.3 476,160.5 475.4,160.3 475.7,160.1 476.7,159.6 476.3,160 476.3,160.4 476.2,159.9" fill="none" stroke="#9f0062" stroke-width="1.05" stroke-linejoin="round" stroke-linecap="round"/>
<polyline points="476.2,159.9 476.8,160.3 477.4,161.6 477,161.1 476.5,160.8 475,162.4 475.5,164.3 475.2,164.6 475.6,164.4 476.4,164.3 476.3,164.4 474.5,163.9 474.2,165.3 474.9,165.9 475.6,165.7" fill="none" stroke="#9c0065" stroke-width="1.05" stroke-linejoin="round" stroke-linecap="round"/>
<polyline points="475.6,165.7 476.9,165.5 475.7,166.1 476.6,166.2 476.7,167 477.8,167.4 478.7,167.6 479.9,166.5 479.9,166.9 479.3,166.1 479.6,166.3 478.1,166.1 477.5,166.7 476.5,166.3 476.7,166.8" fill="none" stroke="#990069" stroke-width="1.05" stroke-linejoin="round" stroke-linecap="round"/>
<polyline points="476.7,166.8 478,166.9 478.1,168.7 477.5,169.7 477.4,169.9 478.3,169.3 477.3,168.2 476.9,169.5 476.4,170.5 475.6,171.6 475.4,171.3 476.6,171.5 476.8,171.8 477.1,172.1 475.8,172.5" fill="none" stroke="#95006d" stroke-width="1.05" stroke-linejoin="round" stroke-linecap="round"/>
<polyline points="475.8,172.5 476,173 475.6,174.6 474.9,174.6 475.1,173.8 474.1,174.4 474.7,174.7 473.4,174.5 473.8,175.2 474.8,175.7 475.5,177 473.5,177.7 473.3,177.9 473.6,177 473,177.4" fill="none" stroke="#900072" stroke-width="1.05" stroke-linejoin="round" stroke-linecap="round"/>
<polyline points="473,177.4 473.1,178 473,179.6 473,181 472.6,181 473.6,179.6 473,179.8 474,180.8 474.4,181.4 473.4,180.8 474.5,180.2 474.1,178.9 473.7,177.8 473.8,179.3 473.8,179.6" fill="none" stroke="#8c0077" stroke-width="1.05" stroke-linejoin="round" stroke-linecap="round"/>
<polyline points="473.8,179.6 473.2,180.2 472.2,179.9 473.7,179 472.9,178.2 473.5,178.5 472.1,177.9 472.7,179 472.9,179.3 473.1,180.6 473.1,179.5 471,178.8 471,178.1 469.9,178.8 469.1,178.4" fill="none" stroke="#8c0076" stroke-width="1.05" stroke-linejoin="round" stroke-linecap="round"/>
<polyline points="469.1,178.4 469.8,179.5 470.3,180.8 471.1,181.1 470.6,180.2 470,180.3 470.6,181.4 471.3,182.7 471.7,183.4 471.2,183.3 470.6,182.8 470.4,183.1 468.4,181.4 467.7,181.8 467.4,183.4" fill="none" stroke="#8a0079" stroke-width="1.05" stroke-linejoin="round" stroke-linecap="round"/>
<polyline points="467.4,183.4 466.8,182.9 467.1,184.2 468.3,183.9 467.9,184 468.8,185.1 468.5,186 467.9,186.1 467.7,186 467.3,186.7 467.5,188.1 468.1,188.1 466.3,187.1 466.1,187.1 465.4,187.2" fill="none" stroke="#86007d" stroke-width="1.05" stroke-linejoin="round" stroke-linecap="round"/>
<polyline points="465.4,187.2 465.9,187.1 466.1,187.4 465.9,187.2 466.2,187.9 465.8,186.7 465.5,187.7 464.8,188.9 465,189.4 465.1,190.1 465.8,190.6 464.9,191.4 464.3,191.2 465.5,191.3 466.4,191.6" fill="none" stroke="#820081" stroke-width="1.05" stroke-linejoin="round" stroke-linecap="round"/>
<polyline points="466.4,191.6 466.9,191.2 468,192.4 467.7,191.9 468,191.6 468.2,192.6 468.8,194 469.1,193.3 468.4,193.9 469.8,193.8 468.9,195.1 468.7,195.7 469.5,195 469.1,194.7 469.5,195.3" fill="none" stroke="#7f0084" stroke-width="1.05" stroke-linejoin="round" stroke-linecap="round"/>
<polyline points="469.5,195.3 469.1,195.8 467.8,196 468.4,196 467.6,195.8 467.3,196.9 467.6,196.5 468.1,196.8 468.6,197 468.4,197.6 468.6,197.9 469.3,198.3 469.8,196.8 469.4,196.4 471,196" fill="none" stroke="#7c0087" stroke-width="1.05" stroke-linejoin="round" stroke-linecap="round"/>
<polyline points="471,196 471.4,196.9 471.3,196.9 471.9,196.2 472.5,196.9 473.6,196.5 475.9,196.6 475.6,195.8 474.8,196.4 472.7,196.1 472.2,195.8 472.7,194.7 472.6,195.7 472.8,195.5 473.2,196" fill="none" stroke="#7d0086" stroke-width="1.05" stroke-linejoin="round" stroke-linecap="round"/>
<polyline points="473.2,196 474.7,196.5 475.5,196.6 475,197.2 475,196 475.2,195.1 476,195.5 477.4,195.2 477.2,194.8 476.6,194 478.5,193.4 478.4,193.9 478.8,194.4 478.4,193.4 479.7,192.8" fill="none" stroke="#7e0085" stroke-width="1.05" stroke-linejoin="round" stroke-linecap="round"/>
<polyline points="479.7,192.8 479.7,193 478.5,192.9 478.5,193.2 478.7,191.5 479.8,189.7 479.8,189.6 479.7,190 480.9,189.7 480.7,190.6 481.4,191.4 482,191.2 481.8,191 482.8,192.2 484.5,191.2" fill="none" stroke="#800083" stroke-width="1.05" stroke-linejoin="round" stroke-linecap="round"/>
<polyline points="484.5,191.2 484.2,191.2 484,190.3 485.6,191.4 485.2,190.9 485,189.8 484.6,190.3 485.8,190.8 486.5,189.7 483.7,190.6 483.9,190.2 485.3,189.1 484.4,188.4 485.6,189 484.1,189.9" fill="none" stroke="#810082" stroke-width="1.05" stroke-linejoin="round" stroke-linecap="round"/>
<polyline points="484.1,189.9 484.2,189.8 483.6,190.7 484.1,191 483.5,190.8 483.7,189.8 483.3,188.6 482.6,187.6 483,187.6 482.2,186.4 482.2,184.9 482.6,184.7 483,184.9 484.2,185.4 484.8,185.7" fill="none" stroke="#84007f" stroke-width="1.05" stroke-linejoin="round" stroke-linecap="round"/>
<polyline points="484.8,185.7 484.4,184.6 485.3,184.9 487.3,184.5 486.5,184.5 486.3,183.6 487.6,185 487.9,184.1 488.1,183.8 487.1,184.3 487.6,184.9 487.4,184.4 487.6,182.7 489.7,180.9 488.8,180.8" fill="none" stroke="#88007b" stroke-width="1.05" stroke-linejoin="round" stroke-linecap="round"/>
<polyline points="488.8,180.8 487.8,181.2 487.8,181.2 488.3,181.2 488.5,181.1 488.9,181.7 488.7,181.2 488.4,181.3 488.1,180.9 487,182.3 486.2,183.3 487,183.6 487.3,183.5 487.4,183.4 488,184" fill="none" stroke="#890079" stroke-width="1.05" stroke-linejoin="round" stroke-linecap="round"/>
<polyline points="488,184 487,183.8 488.2,184.4 487.2,184.1 487.3,183.8 485.5,184.1 484.5,185.4 485.3,184.8 486,184.6 485.7,184.2 486.1,183.4 486.7,184.2 487.5,185 488.4,185.4 489.1,185.3" fill="none" stroke="#87007c" stroke-width="1.05" stroke-linejoin="round" stroke-linecap="round"/>
<polyline points="489.1,185.3 489,186.2 490.1,185.7 488.4,187.3 488.9,188.4 489.2,188.1 488.3,187 489,187.6 488.8,186.6 487.9,186.1 487.3,184 487.2,185.7 486.5,186 486.5,185.5 486.7,185.2" fill="none" stroke="#85007e" stroke-width="1.05" stroke-linejoin="round" stroke-linecap="round"/>
<polyline points="486.7,185.2 486.1,185.9 485.8,186.4 485,187.3 484.1,188.2 483.8,187.4 483.8,186.9 483.5,187.2 484.2,188.3 484.5,188.4 483.2,188.5 483.1,188.8 482.8,188.7 483.6,188 483.6,189.4" fill="none" stroke="#84007f" stroke-width="1.05" stroke-linejoin="round" stroke-linecap="round"/>
<polyline points="483.6,189.4 483.1,188.7 483.2,188.7 483.6,189.9 483.7,190.3 483.4,189.7 483.9,189.1 485.1,188.8 485,187.9 484.8,187.2 484.6,186 484.8,187.7 483.6,189 483.9,189.5 483.6,190.7" fill="none" stroke="#830080" stroke-width="1.05" stroke-linejoin="round" stroke-linecap="round"/>
<polyline points="483.6,190.7 483.2,190.1 485,188.5 483.5,188.2 483.5,187.1 483.5,185.8 485.2,186.8 484.6,186.6 484.8,187.3 484.8,188.3 485.4,187.2 485.9,186.4 488.2,186.3 488,186.1 489.4,185.1" fill="none" stroke="#84007f" stroke-width="1.05" stroke-linejoin="round" stroke-linecap="round"/>
<polyline points="489.4,185.1 488.2,186.1 489,185.4 489.1,186.2 487.1,187 487.5,187.2 487.9,189.4 487.8,189.7 486.1,189.1 487.4,187.5 486.2,187.4 487.7,188.3 487.5,188.4 486.8,189.6 486.9,190.3" fill="none" stroke="#84007f" stroke-width="1.05" stroke-linejoin="round" stroke-linecap="round"/>
<polyline points="486.9,190.3 487.2,189.7 489,188.8 490.2,188.5 489.5,187.9 490.6,188 490.2,187 491.2,188.3 491.3,189.2 488.5,188.9 489,189.3 488.7,189.7 488.4,189.4 487.7,189.9 487.5,189.8" fill="none" stroke="#830080" stroke-width="1.05" stroke-linejoin="round" stroke-linecap="round"/>
<polyline points="487.5,189.8 489.1,190.1 489.3,189.2 489,190.5 489.7,190.9 489.7,191.3 490.1,191.4 488.2,193.3 489.4,193.3 490.7,192.3 491.7,192.7 492.2,192.5 492,193 492.6,193.3 492.6,192.7" fill="none" stroke="#800083" stroke-width="1.05" stroke-linejoin="round" stroke-linecap="round"/>
<polyline points="492.6,192.7 493.6,192.8 492.9,192.3 491.5,191.6 490.1,191.7 490.1,191.7 489.1,191.2 488.8,191.9 487.9,190.4 489.3,190.5 488.2,191.5 489.7,192 488.2,191.6 487.8,190.9 486.9,191.9" fill="none" stroke="#800083" stroke-width="1.05" stroke-linejoin="round" stroke-linecap="round"/>
<polyline points="486.9,191.9 486.9,191.5 488.1,191.4 488.8,190.5 489.2,189.8 487.5,190.1 487.5,189.1 487.6,187.6 487,185.9 487.9,186.8 488.3,185.7 489.7,185.4 488.5,183.8 488.9,185.1 488.8,184.5" fill="none" stroke="#84007f" stroke-width="1.05" stroke-linejoin="round" stroke-linecap="round"/>
<polyline points="488.8,184.5 488.8,183.7 488.6,183.9 488.2,184.6 487.8,185 488.4,184.3 488.4,183.8 490,182.9 491,183.6 490.6,184.6 488.6,184.3 488.9,183.9 489.8,183.1 489.8,183.7 489.9,182.4" fill="none" stroke="#88007b" stroke-width="1.05" stroke-linejoin="round" stroke-linecap="round"/>
<polyline points="489.9,182.4 490.5,182.1 490.2,182.4 489.8,181.3 490,181.1 490.4,180 492.1,180.6 492.3,180.8 490.4,181.4 490.1,181.7 489.7,182.2 489.9,181.7 491.8,182.2 491.1,181.3 491.8,180.8" fill="none" stroke="#8a0079" stroke-width="1.05" stroke-linejoin="round" stroke-linecap="round"/>
<polyline points="491.8,180.8 493,180.1 491.8,179.3 492.3,179.8 493.4,180.7 494,180.3 495,180.1 494.8,179.6 495.8,180.8 497.1,179.4 497.9,178.6 497.5,179.4 496.4,178.6 496,180.3 497.1,179.7" fill="none" stroke="#8c0077" stroke-width="1.05" stroke-linejoin="round" stroke-linecap="round"/>
<polyline points="497.1,179.7 497.3,180.1 497.7,179.7 498.9,179.8 499.5,178.8 499.6,179.4 500.6,177.9 500.7,179.3 500.3,180.9 501.8,182 502,183.3 502,184.3 502.1,183.7 500.9,184.7 501.2,184.1" fill="none" stroke="#8a0078" stroke-width="1.05" stroke-linejoin="round" stroke-linecap="round"/>
<polyline points="501.2,184.1 501,185.4 499.5,184.6 500.2,185.3 499.3,184.6 499.6,185.9 499.8,184 500.8,184.4 500.4,183.8 501.5,184.5 501.8,185.1 502,186.2 503.3,185.5 503,185.5 504.1,185.7" fill="none" stroke="#87007c" stroke-width="1.05" stroke-linejoin="round" stroke-linecap="round"/>
<polyline points="504.1,185.7 502.5,186.1 501.8,185.9 501.5,185.3 500.1,187.5 500.3,187 501.2,188.5 499.9,188.3 500.5,187.9 501.1,187.3 500.7,187.7 501.2,188.2 500.7,188.4 499.1,190.5 499.1,190.4" fill="none" stroke="#84007f" stroke-width="1.05" stroke-linejoin="round" stroke-linecap="round"/>
<polyline points="499.1,190.4 499.6,191.1 500,190.7 498.8,190.7 498.4,190.6 498.7,191.1 500,191.2 498.6,192 499.5,190.8 500,191.4 499.4,191.9 499.7,192.7 500.5,192.8 500.2,194.9 499,194.6" fill="none" stroke="#800083" stroke-width="1.05" stroke-linejoin="round" stroke-linecap="round"/>
<polyline points="499,194.6 498.5,195.1 499.3,193.9 500,193 501.6,192.7 501.7,192.7 501.5,192.4 500.8,192.8 500.1,193.7 499,193.6 497.4,193.7 496.7,194.6 496.9,194.1 496.9,195.3 496.3,194.3" fill="none" stroke="#7e0085" stroke-width="1.05" stroke-linejoin="round" stroke-linecap="round"/>
<polyline points="496.3,194.3 498,194.9 497.9,197 496.5,197 494.5,197.1 494.6,196.2 493.6,196 493.2,197.2 492.9,196.8 492.6,195.4 492,194.4 492,192.9 491,193.7 489.3,192.9 490.3,192.4" fill="none" stroke="#7d0086" stroke-width="1.05" stroke-linejoin="round" stroke-linecap="round"/>
<polyline points="490.3,192.4 490.3,193.3 489.4,192.5 490.7,192.8 490.9,192.9 491,192.5 489.6,192.4 489,192.7 488.6,193.9 488.1,195.2 487.6,196.2 488.7,197.9 487,199.3 485.7,200.4 486,200.4" fill="none" stroke="#7e0085" stroke-width="1.05" stroke-linejoin="round" stroke-linecap="round"/>
<polyline points="486,200.4 485.4,201 486.3,200.3 485.9,200.9 486.9,201.3 486.6,201.1 487.4,201.7 488.2,201.6 487.3,201.8 487.5,201.2 487.7,200.6 487.6,200.3 489.1,201.5 488.8,200.6 487.4,201.4" fill="none" stroke="#79008a" stroke-width="1.05" stroke-linejoin="round" stroke-linecap="round"/>
<polyline points="487.4,201.4 487.2,201.9 485.8,200.8 486.1,201 485.2,200.8 486.1,200.9 486.8,202.6 487.2,203 486.8,204.1 485.8,203.3 486.1,202.4 487.2,202.3 487.9,202.5 487.8,203 486.3,202.5" fill="none" stroke="#78008b" stroke-width="1.05" stroke-linejoin="round" stroke-linecap="round"/>
<polyline points="486.3,202.5 486.4,204.8 487.5,205.6 486.8,206.4 488.1,207 490.3,205.9 489.1,205.8 488.1,206 488.4,206.2 488.3,206.6 488.8,206.2 487.9,207.4 487.5,206.8 487.5,206.7 487.4,206.8" fill="none" stroke="#75008e" stroke-width="1.05" stroke-linejoin="round" stroke-linecap="round"/>
<polyline points="487.4,206.8 487.7,207.8 486.7,206.8 487.8,206.5 486.1,205.1 485.9,205 484.2,204.7 483.4,205.9 483.7,206.1 482.7,206.1 483.4,206.4 484.2,206.5 484.6,206.9 483.9,207.9 484,208.3" fill="none" stroke="#74008f" stroke-width="1.05" stroke-linejoin="round" stroke-linecap="round"/>
<polyline points="484,208.3 482.8,207.1 482.6,206.3 483,206.6 483.7,207 482.5,207.7 481.8,207 481.8,207 482.6,209.3 482.8,210.2 482.4,210.1 481.8,209.5 482.7,209.7 482.8,208.9 483.9,208.8" fill="none" stroke="#730090" stroke-width="1.05" stroke-linejoin="round" stroke-linecap="round"/>
<polyline points="483.9,208.8 482.9,208.8 483.1,209.6 483.9,208.8 483.1,210.2 484.5,209.7 483.8,208.7 482.6,208.3 482.1,207.8 482.5,208.4 481.9,209.6 481.4,209 481.1,211.3 481,211.9 480.6,211.8" fill="none" stroke="#720091" stroke-width="1.05" stroke-linejoin="round" stroke-linecap="round"/>
<polyline points="480.6,211.8 480.8,209.9 479.5,210 479.3,211.7 481.2,212.6 481.1,213.3 481.9,212.7 481,213.1 480.9,211.9 480.9,211.2 481.1,212.5 478.9,213.4 478.9,213.4 479.6,215.4 479.8,214.8" fill="none" stroke="#6f0094" stroke-width="1.05" stroke-linejoin="round" stroke-linecap="round"/>
<polyline points="479.8,214.8 478.4,214.2 477.5,215.5 477.8,215.8 478.6,216.1 478.5,215.8 477.9,216.2 476.9,217.9 477.2,217.6 478,217 478.8,217.5 480.1,217.3 479.4,216.9 478.2,217.4 477.3,218" fill="none" stroke="#6c0098" stroke-width="1.05" stroke-linejoin="round" stroke-linecap="round"/>
<polyline points="477.3,218 477,219 475.2,219.5 475.8,219.5 475.8,221 475.9,221.2 476.3,220.8 476.8,221.4 476.4,220.9 475.8,221.3 475.8,220.7 477,220.9 477.8,220.9 478.6,221.2 478,221.5" fill="none" stroke="#68009f" stroke-width="1.05" stroke-linejoin="round" stroke-linecap="round"/>
<polyline points="478,221.5 478.2,221.5 478.8,221.3 478.4,222.5 480.3,222.3 481.4,222.8 480.9,222.3 480.8,222.2 480.8,222.5 480.1,223.5 479.5,222.8 480.7,223.8 482.2,224.1 481.7,225.3 481.8,225.2" fill="none" stroke="#6600a3" stroke-width="1.05" stroke-linejoin="round" stroke-linecap="round"/>
<polyline points="481.8,225.2 481.3,225.7 479.7,226.2 478.7,226.9 478.2,227.5 481.1,227.2 480.6,228.7 480.7,227.6 482.3,225.4 481.4,224.8 481.3,223.7 482.5,225.2 482.9,225.4 482,226.3 482,227.2" fill="none" stroke="#6200a9" stroke-width="1.05" stroke-linejoin="round" stroke-linecap="round"/>
<polyline points="482,227.2 483.4,227.5 482.1,227 483.8,227.6 485.3,226.1 485.4,226.5 484.4,226.5 485.6,227.5 485.4,228.2 486.7,227.6 487.1,228.9 486.7,230.2 486.9,231.2 487.8,231.3 487.7,230.7" fill="none" stroke="#6000ad" stroke-width="1.05" stroke-linejoin="round" stroke-linecap="round"/>
<polyline points="487.7,230.7 488.1,231 489.4,231 489.6,232.4 489.9,232.6 491.1,232.6 491.1,233.1 490.7,232 489.2,231.9 489.9,232.8 491,233.5 490,232.2 489.2,232.1 488.3,233 487.5,233.5" fill="none" stroke="#5c00b4" stroke-width="1.05" stroke-linejoin="round" stroke-linecap="round"/>
<polyline points="487.5,233.5 488,232.1 487.5,233.3 488,233.4 486.8,232.8 486.7,233.9 486.9,233.7 486.8,234.2 485.1,233.3 485.1,234.2 485.8,233.4 485.5,232.7 485,232.9 484.4,232.4 483.3,231.2" fill="none" stroke="#5b00b5" stroke-width="1.05" stroke-linejoin="round" stroke-linecap="round"/>
<polyline points="483.3,231.2 483.1,231.6 483.5,231.1 482.8,232.4 483,233.1 482.3,232.5 481.3,233.3 480.4,231.8 479.9,232.9 480,233.1 480.2,233 480,231.9 481.3,231.9 482,230.9 482,230.3" fill="none" stroke="#5c00b3" stroke-width="1.05" stroke-linejoin="round" stroke-linecap="round"/>
<polyline points="482,230.3 480.5,231 481.1,232.5 481.7,232.4 481.8,232.1 480.8,232.6 480.2,233.4 478.3,234.4 477.6,235.5 478.4,234.4 478.1,234.9 477.2,234.2 476.8,234.8 477.4,234.4 477.8,235.6" fill="none" stroke="#5b00b6" stroke-width="1.05" stroke-linejoin="round" stroke-linecap="round"/>
<polyline points="477.8,235.6 478.1,234.9 477,235.2 477.4,235.6 476.7,234.8 477.4,234.8 478.4,234.1 477.5,233.9 478.4,235.3 477.3,234 477.6,234.5 476.1,233.7 475.9,234.1 475.6,234.9 474.9,235.1" fill="none" stroke="#5a00b8" stroke-width="1.05" stroke-linejoin="round" stroke-linecap="round"/>
<polyline points="474.9,235.1 475,235.5 474.4,236.4 472.5,237.6 472.8,237.1 472.4,238.3 472.7,236.9 471.7,237.4 473,238.2 472.5,238.8 472.2,238.6 472.2,237 472.6,237.8 471.8,237.4 470.5,238" fill="none" stroke="#5100c1" stroke-width="1.05" stroke-linejoin="round" stroke-linecap="round"/>
<polyline points="470.5,238 470.4,238.4 471.6,236.9 470.6,236.8 471,237.2 469.8,237.8 469.9,239.6 469.8,239.3 469.2,238.8 469.5,239.6 469.2,239.5 470.2,239.6 470.5,238.6 469.8,237 468.6,237.5" fill="none" stroke="#4d00c4" stroke-width="1.05" stroke-linejoin="round" stroke-linecap="round"/>
<polyline points="468.6,237.5 469.8,237.5 468.8,237.7 469.9,237.6 470.7,237.6 469.6,236.8 469.6,238.7 470.2,238.3 470.5,238.2 470.2,237.9 470.2,238.2 471.6,238.9 471.3,238.9 470.8,237.5 471,237.7" fill="none" stroke="#4e00c3" stroke-width="1.05" stroke-linejoin="round" stroke-linecap="round"/>
<polyline points="471,237.7 471.1,237.9 471.9,238.1 471.8,236.5 473.4,235.8 473.8,235.9 473.4,237.1 473.8,236.5 473.4,235.3 472.4,235.5 472.2,234.7 472.8,234.2 473.5,233.4 473.1,234 472.8,234.2" fill="none" stroke="#5700bb" stroke-width="1.05" stroke-linejoin="round" stroke-linecap="round"/>
<polyline points="472.8,234.2 473.4,233.8 472.2,232.5 471.6,231.5 472.6,230.9 471.7,230.7 471.8,229.7 472.4,230.7 471.9,231.6 470.7,231.4 470.8,231.7 471.8,231.6 470.9,232 471.1,232.5 470.8,232.7" fill="none" stroke="#5d00b3" stroke-width="1.05" stroke-linejoin="round" stroke-linecap="round"/>
<polyline points="470.8,232.7 470.3,233.3 469.8,232.8 470.7,232.3 470.6,232.9 470.1,233.8 469.6,234.5 468.4,233.4 468.8,234.6 470.4,233.8 470.4,233.4 468.8,234.1 469,235.2 469.6,234.6 469.4,234.4" fill="none" stroke="#5b00b6" stroke-width="1.05" stroke-linejoin="round" stroke-linecap="round"/>
<polyline points="469.4,234.4 470.3,234.1 472.8,234.3 471.9,234.4 473,234.8 472.8,234.3 472.3,233.4 472.2,233.9 472.1,235.3 472.7,235 473,236.1 472,236.2 474.6,236.9 474,236.9 474.1,238.9" fill="none" stroke="#5800b9" stroke-width="1.05" stroke-linejoin="round" stroke-linecap="round"/>
<polyline points="474.1,238.9 473.8,238.3 473.8,236.9 471.6,236.7 472.7,236.5 473.7,237.2 474.7,235.9 476.2,236.9 476.9,237.1 476.9,236.9 477.2,237.9 476.7,238.7 476.4,239.3 476.4,240 478.1,240.1" fill="none" stroke="#4f00c2" stroke-width="1.05" stroke-linejoin="round" stroke-linecap="round"/>
<polyline points="478.1,240.1 477.6,239.8 478.1,239.5 478.8,239.9 479.3,239.6 478.3,239.2 478.6,239 479,237.8 478.3,238.3 476.9,238.4 475.9,239 476.2,240.2 475.9,239.4 475.9,240.1 476.4,240.8" fill="none" stroke="#4900c8" stroke-width="1.05" stroke-linejoin="round" stroke-linecap="round"/>
<polyline points="476.4,240.8 477.8,241 477.8,240.8 477.5,242.2 478.1,240.5 479.2,239.6 478.9,241.1 479.2,242 479.9,242.5 478.9,242.9 478.6,241 478.6,241.8 479,241.9 480.6,242.2 481.3,242.5" fill="none" stroke="#4000cf" stroke-width="1.05" stroke-linejoin="round" stroke-linecap="round"/>
<polyline points="481.3,242.5 482.6,242.1 483.2,243.5 482.6,244 481.3,243.8 481.9,242.7 480.5,242.4 480.4,242.3 480.9,242.6 482.3,242.5 481,242.7 481.4,242.5 482.7,242.4 482.1,242.5 480.7,243.1" fill="none" stroke="#3c00d3" stroke-width="1.05" stroke-linejoin="round" stroke-linecap="round"/>
<polyline points="480.7,243.1 480.7,244.1 481.2,243.9 481.1,242.6 480.8,242.6 481.4,242.7 481.6,243 480.7,242.9 480.2,241.6 478.7,242.1 479.8,243 478.8,243.8 479.8,242.7 479.8,243.6 479.5,244" fill="none" stroke="#3b00d4" stroke-width="1.05" stroke-linejoin="round" stroke-linecap="round"/>
<polyline points="479.5,244 478.6,243 479,242.4 478.8,241.9 477.6,242.6 477.3,241.8 476.8,241.3 475.9,241.5 475.7,241.6 475.2,240.2 474.7,240.1 474.1,240.4 474.3,240.7 474.6,240.8 474.3,239.4" fill="none" stroke="#4100cf" stroke-width="1.05" stroke-linejoin="round" stroke-linecap="round"/>
<polyline points="474.3,239.4 475.4,238.7 476.7,237.9 477.4,237.2 476.3,238.3 476.6,238.9 477.1,237.2 477.7,238 478.8,239.1 479,238.6 478.9,237.3 479.3,237.7 479.3,236.8 479.4,236.2 480,235.6" fill="none" stroke="#4f00c2" stroke-width="1.05" stroke-linejoin="round" stroke-linecap="round"/>
<polyline points="480,235.6 479.1,235.3 477.8,234.6 477.3,232.8 478.7,233.4 478.4,233 478.1,233.2 477.7,232.3 477.2,231.2 476.7,231.1 476,231.5 476.5,233.2 476.3,232.7 477.3,232.2 476.5,232.7" fill="none" stroke="#5c00b5" stroke-width="1.05" stroke-linejoin="round" stroke-linecap="round"/>
<polyline points="476.5,232.7 475.7,234.4 476,235.7 475.6,236.6 475.5,236.7 475.7,237.2 476.1,237.2 474.7,237.1 472.7,237.2 472.5,238.1 470.8,239.9 471.3,238.6 472.2,239.2 473.1,241.1 472.8,241.2" fill="none" stroke="#5000c1" stroke-width="1.05" stroke-linejoin="round" stroke-linecap="round"/>
<polyline points="472.8,241.2 473.3,240.6 473.9,241.6 473.5,241.9 474.6,242.4 473.5,242.5 473.5,243.5 473.7,244.8 473,244.9 472.7,246 474.4,244.8 475.2,244.5 474,243.4 474.4,243.7 474.3,243.7" fill="none" stroke="#3a00d5" stroke-width="1.05" stroke-linejoin="round" stroke-linecap="round"/>
<polyline points="474.3,243.7 474.8,243.6 474.1,243.4 474.8,241.9 476.3,242.9 476.4,244.2 475.8,242.9 475.4,241.9 477,241.6 476.9,241.6 478.1,241.4 477.6,241.3 478.5,240.7 479.3,240.6 478.8,240.7" fill="none" stroke="#3e00d1" stroke-width="1.05" stroke-linejoin="round" stroke-linecap="round"/>
<polyline points="478.8,240.7 480.1,240.1 480.7,240.1 480.3,239.8 480.5,239.8 480.3,239.9 479.1,238.9 478.1,238.2 477.9,237.6 478.3,236.6 478,237.1 479.3,236.9 480,237.7 478.9,237.4 478,236.6" fill="none" stroke="#4c00c5" stroke-width="1.05" stroke-linejoin="round" stroke-linecap="round"/>
<polyline points="478,236.6 478.4,235.3 478.8,234.9 478.6,235.2 478,233.6 478.2,233 478.2,232.1 477.7,231.4 476.9,230.9 476.8,231.2 479.7,230.8 478.5,231.5 477.7,230.9 477.7,231.3 478,231.7" fill="none" stroke="#5c00b4" stroke-width="1.05" stroke-linejoin="round" stroke-linecap="round"/>
<polyline points="478,231.7 478.1,232.9 478.9,232.5 478.8,231.7 479.3,231.9 480.7,231.7 481.6,231.5 479.8,231.3 479.8,232.7 478.9,233.9 478.4,233.8 478.1,235.4 478.2,235.8 477,236 477.3,237.4" fill="none" stroke="#5b00b6" stroke-width="1.05" stroke-linejoin="round" stroke-linecap="round"/>
<polyline points="477.3,237.4 476.7,236.8 476.1,236.2 476.9,235.6 478,235.7 477.2,235.2 476.2,234.1 477.3,235 476.6,234.7 478,234.3 478,235 477.8,235.1 477.4,235.4 476.2,235.7 476.5,234.9" fill="none" stroke="#5800ba" stroke-width="1.05" stroke-linejoin="round" stroke-linecap="round"/>
<polyline points="476.5,234.9 477,234.5 474.9,233.5 475.4,234.7 475.3,234.1 475.5,235.5 475.6,234.8 476.1,235.2 476,235.7 476.4,236 475.5,236.2 475.6,237.4 474.6,237.3 473.9,237.6 473.7,235.3" fill="none" stroke="#5700ba" stroke-width="1.05" stroke-linejoin="round" stroke-linecap="round"/>
<polyline points="473.7,235.3 474.6,235.3 473.7,234.6 473,234.3 473.1,235.2 473.2,236.1 472.7,237.1 472.8,237.9 473.4,237.9 474.4,238.8 473.9,240.3 475,238.9 472.9,238.5 473.2,239.3 473.5,239.3" fill="none" stroke="#5100c0" stroke-width="1.05" stroke-linejoin="round" stroke-linecap="round"/>
<polyline points="473.5,239.3 474,239.8 473.3,239.8 473.8,239.1 472.9,238.4 473.7,238.9 473.9,238.5 473.3,239.4 472.6,240.1 472.1,239.8 472.2,240.1 473.1,239.5 473.8,238.6 472.3,236.8 472.3,238.1" fill="none" stroke="#4a00c7" stroke-width="1.05" stroke-linejoin="round" stroke-linecap="round"/>
<polyline points="472.3,238.1 470.7,237.8 470.1,236.7 469.8,237.1 469,236.5 468.8,237.2 467.4,237.3 467.7,235.3 467.7,237.2 466.4,238.4 466,238.9 465.8,238 464.3,239.9 463.4,239.5 464.7,239.6" fill="none" stroke="#4f00c2" stroke-width="1.05" stroke-linejoin="round" stroke-linecap="round"/>
<polyline points="464.7,239.6 464.7,238 464.2,237.2 462.7,237.8 463.6,237.5 463.1,238.3 463.9,237.8 464.7,239 464.5,238.4 464.7,239.4 465.8,239.2 466.6,239.3 466.3,239.6 465.8,241.2 464.7,242" fill="none" stroke="#4a00c6" stroke-width="1.05" stroke-linejoin="round" stroke-linecap="round"/>
<polyline points="464.7,242 464.2,242 463.4,242.3 461.8,242.1 462.9,242.8 461.7,241.9 461.8,243.5 461.9,243.3 462.1,243.5 461.8,243.5 462.7,244.2 462.5,244.7 464.5,245 465.3,242.7 466.5,244.3" fill="none" stroke="#3a00d5" stroke-width="1.05" stroke-linejoin="round" stroke-linecap="round"/>
<polyline points="466.5,244.3 467.5,244.4 468,246.6 467.3,245.7 468,245.5 466,245.4 466.3,244.4 466.5,244.6 465,245 466.8,246.2 465.8,244.8 465.8,244.8 464.8,244 466,244 466.8,243.7" fill="none" stroke="#3300db" stroke-width="1.05" stroke-linejoin="round" stroke-linecap="round"/>
<polyline points="466.8,243.7 467.5,243.1 466.9,242.2 465.2,241.8 464.3,241.4 464.7,241.5 465.2,241.1 465.3,241.9 465.4,241.7 463.6,240.6 464.9,239.8 464.3,240.6 463.7,241.2 464.2,240.5 463.1,241.5" fill="none" stroke="#4000cf" stroke-width="1.05" stroke-linejoin="round" stroke-linecap="round"/>
<polyline points="463.1,241.5 462.3,240.3 463.9,239.3 465,239.4 465.3,238.7 465.3,239.2 465.1,239.9 466,240.5 466.7,240.9 467.5,241.6 468.2,241.7 467.9,240.2 468.3,241.1 468,239.8 468.1,240.2" fill="none" stroke="#4500cb" stroke-width="1.05" stroke-linejoin="round" stroke-linecap="round"/>
<polyline points="468.1,240.2 469.3,240 468.7,240 469.7,240 470.8,239.6 471.7,240.9 470.9,240 471.7,242.3 472.2,241.7 473.3,241.2 471.9,240 473.1,238.4 472,238.9 472.3,239.7 471.6,238.8" fill="none" stroke="#4600ca" stroke-width="1.05" stroke-linejoin="round" stroke-linecap="round"/>
<polyline points="471.6,238.8 471.6,237.6 471.8,237.3 472.8,237.2 472.7,237.5 473.8,238.1 474.1,237.5 473.8,236.2 473.9,236.2 475.4,236.4 475.9,237.5 474.2,236.9 474.2,237 473.4,237.8 474.4,238.2" fill="none" stroke="#5000c1" stroke-width="1.05" stroke-linejoin="round" stroke-linecap="round"/>
<polyline points="474.4,238.2 475.1,237.3 476.1,236.9 474.5,237.3 475,237 473.8,236.4 474.1,234.8 475.2,236.4 475.2,237.8 475.3,237.2 475.9,238.2 475.3,237.4 474.7,238.9 474.8,241.5 474.6,242" fill="none" stroke="#4f00c2" stroke-width="1.05" stroke-linejoin="round" stroke-linecap="round"/>
<polyline points="474.6,242 475.2,241.7 476.2,241.1 476.3,240.3 474.7,240.7 474.3,240 475.2,240.3 475.9,242.1 476.4,242.7 475.7,243.5 476.7,242.8 477.5,243.3 477.4,243.5 479.5,243.2 479.1,243.5" fill="none" stroke="#3e00d1" stroke-width="1.05" stroke-linejoin="round" stroke-linecap="round"/>
<polyline points="479.1,243.5 478.9,242.2 479.4,243.2 480.7,242.8 479.4,243.5 478.5,243.4 478.3,243.5 478.1,244 477.6,245.6 478.6,244.6 478,244 477.9,243 479.4,243.5 478.7,243.6 478.9,243.8" fill="none" stroke="#3800d6" stroke-width="1.05" stroke-linejoin="round" stroke-linecap="round"/>
<polyline points="478.9,243.8 478.6,245 479,245.9 478.9,246.1 479.1,246.5 479.3,244.5 478.7,243.2 479.6,242.9 479.9,243.2 481.3,241.7 482,243.2 481.2,242.1 481.3,241.8 480.6,241.3 481.7,241.7" fill="none" stroke="#3900d6" stroke-width="1.05" stroke-linejoin="round" stroke-linecap="round"/>
<polyline points="481.7,241.7 480.6,239.9 479.4,239.9 478.6,239 479.1,238.8 478.6,239 479.6,239.2 479.8,239.2 480.6,238.1 479.1,237.8 480.3,239.1 478.7,238.7 478.7,238.7 478.9,238.3 477,238.8" fill="none" stroke="#4a00c7" stroke-width="1.05" stroke-linejoin="round" stroke-linecap="round"/>
<polyline points="477,238.8 477.7,237.5 475.7,237.3 474,237.8 473.1,238.5 473,238.5 473.6,238.3 472.8,239 471.6,240 471.3,239.3 471.8,239.4 472.3,238 471.6,238.2 471.9,238 472.9,237.7" fill="none" stroke="#4c00c4" stroke-width="1.05" stroke-linejoin="round" stroke-linecap="round"/>
<polyline points="472.9,237.7 473.4,238.5 473.3,238.1 473.6,238.2 473.6,237.3 473.5,238.4 472.8,238.2 472.2,238.5 470.2,239.4 470.5,238.6 470.6,239 470.6,239 471.4,238.5 471.6,239.1 471.5,237.9" fill="none" stroke="#4c00c4" stroke-width="1.05" stroke-linejoin="round" stroke-linecap="round"/>
<polyline points="471.5,237.9 471.7,239 470.9,238.7 470.7,238.7 470,237.9 471.1,237.8 470,237.8 469.6,238.4 467.9,237.6 468.5,235.9 467.7,235.8 467.5,235 467.6,233.5 466.7,234.7 466.1,234.6" fill="none" stroke="#5200bf" stroke-width="1.05" stroke-linejoin="round" stroke-linecap="round"/>
<polyline points="466.1,234.6 466,234.8 466.2,234.5 467,234.3 465.4,233.2 466.5,233.7 466.1,232 465.3,233.6 466.1,234.2 464.5,232.7 463.9,231.4 463.9,230.6 464.2,230.7 463.6,231.4 463.8,231.6" fill="none" stroke="#5c00b5" stroke-width="1.05" stroke-linejoin="round" stroke-linecap="round"/>
<polyline points="463.8,231.6 463.3,231.7 461.6,230.3 461.2,230.7 462.7,231.4 461.7,231.2 460.6,231.4 460.6,231.7 460.8,232.7 461.3,231.9 461.8,231.4 461.8,231.8 462.8,232 462.2,232.1 462.4,232.6" fill="none" stroke="#5d00b3" stroke-width="1.05" stroke-linejoin="round" stroke-linecap="round"/>
<polyline points="462.4,232.6 461.6,233.5 462.8,234.9 463.3,234.4 462.4,234.6 460.4,235.9 458.8,236.1 457.6,236 458.2,236.2 457.3,235.5 457.9,235.5 457.8,236.2 455.6,236.3 456.7,237.7 457.1,236.8" fill="none" stroke="#5800ba" stroke-width="1.05" stroke-linejoin="round" stroke-linecap="round"/>
<polyline points="457.1,236.8 457.7,238.3 456.9,237.5 456.6,237.1 454.9,235.2 453.9,235.1 454.5,235.1 454.8,236.7 457.2,237.6 456.1,238.6 456,238.9 456.6,239.5 455.2,238.6 455.4,239.3 456.9,239.9" fill="none" stroke="#4f00c2" stroke-width="1.05" stroke-linejoin="round" stroke-linecap="round"/>
<polyline points="456.9,239.9 456.3,239.6 455.5,238.7 454.4,238.6 454.5,238.4 454.6,238.6 454.6,238.7 454.9,239.2 452.9,239.9 453.4,239.8 453.9,239.7 454.3,239.5 455.1,240.4 454.1,240.3 454.9,241.2" fill="none" stroke="#4800c8" stroke-width="1.05" stroke-linejoin="round" stroke-linecap="round"/>
<polyline points="454.9,241.2 455.3,240.7 454.9,241.4 455.4,241.9 454.9,242.1 454.8,241.5 454.3,241.3 453.6,242 454.8,243 454.7,242.5 455.4,242.3 455.6,242.1 454.8,243.3 454.3,242 455.7,241.2" fill="none" stroke="#3f00d0" stroke-width="1.05" stroke-linejoin="round" stroke-linecap="round"/>
<polyline points="455.7,241.2 457.1,241.7 457.7,241.5 456.9,240.7 457.5,240.8 456.9,240.1 456.8,240.3 457.7,241.2 457.9,242.3 459,243.3 458.7,243.4 460,241.6 461,241.8 461.8,241.8 462.8,241.3" fill="none" stroke="#4000cf" stroke-width="1.05" stroke-linejoin="round" stroke-linecap="round"/>
<polyline points="462.8,241.3 462.3,241.8 463,240.6 463.9,241.6 464.6,241 465.4,241.5 465.9,241.4 465.3,240.9 464.7,241.7 464.1,241.2 464.5,241.1 463,240.7 463.1,242.2 464.1,241.4 463.5,241.1" fill="none" stroke="#4100ce" stroke-width="1.05" stroke-linejoin="round" stroke-linecap="round"/>
<polyline points="463.5,241.1 464.1,240.7 464.9,239.9 465.4,241.2 463.6,241.4 464.4,241.9 465,241.9 465.7,242.1 466.2,243.3 467.4,243.9 467.1,243.2 468.2,242.3 469.2,241.2 470.9,242.3 470.3,241.9" fill="none" stroke="#3f00d0" stroke-width="1.05" stroke-linejoin="round" stroke-linecap="round"/>
<polyline points="470.3,241.9 468.7,241.9 469.9,242.4 469.9,243.9 470.5,243.9 470.4,244 472.6,244 471.2,243.8 472.9,244.4 472.4,244.2 471.3,244.3 470.9,243.5 470.9,242.7 472.6,243.7 472.6,243.5" fill="none" stroke="#3900d6" stroke-width="1.05" stroke-linejoin="round" stroke-linecap="round"/>
<polyline points="472.6,243.5 474.1,243.1 473.8,242.3 475.2,242.5 475.1,242.2 474.4,243 474,242.6 473,241.8 473.1,241.6 472.4,241.4 473,239.6 474,240 473.5,240.4 474.4,240.9 474.8,241.4" fill="none" stroke="#4000d0" stroke-width="1.05" stroke-linejoin="round" stroke-linecap="round"/>
<polyline points="474.8,241.4 475.7,240.8 475.4,241.7 475.6,241.4 475.6,241.5 475.8,240.8 474.7,240.5 474.9,243.3 475.9,244.7 476,246.2 476.4,246.4 477.2,245.5 475.4,244.9 476.6,246.1 476.7,246.2" fill="none" stroke="#3900d6" stroke-width="1.05" stroke-linejoin="round" stroke-linecap="round"/>
<polyline points="476.7,246.2 476.5,246.8 475.8,247.7 475.1,248.9 474.9,248.2 474.9,247.7 474.9,246.6 474.6,247.1 475,247.3 476,246.5 475.7,246.7 475.5,247.2 476.5,247.8 475.4,250.3 475.3,250.4" fill="none" stroke="#2900e4" stroke-width="1.05" stroke-linejoin="round" stroke-linecap="round"/>
<polyline points="475.3,250.4 475.8,250.1 475.4,251.1 474.2,250.9 474.9,252.6 474.6,252.5 475.3,251.5 474.5,251.1 472.6,249.2 472.4,250.5 472.9,251.9 470.7,251.9 472,251.3 471,251.8 471.1,252.3" fill="none" stroke="#1700f0" stroke-width="1.05" stroke-linejoin="round" stroke-linecap="round"/>
<polyline points="471.1,252.3 471.1,253.3 471.7,253.3 471.3,253.6 470.7,254 471.5,254.4 470.3,254.3 470.6,254.5 469.2,253.5 469.2,254.2 468.8,254.3 468.9,255.3 469.2,253.3 468.8,253 469.7,253.1" fill="none" stroke="#0b00f7" stroke-width="1.05" stroke-linejoin="round" stroke-linecap="round"/>
<polyline points="469.7,253.1 469.2,251.7 469,251.3 469.8,251.8 468.3,249.7 467.8,249.9 466.9,249.5 467.7,250 466.2,250.2 466.3,249.9 466.6,250.2 468.4,250.2 467.3,249.6 467.5,251 467.5,251" fill="none" stroke="#1a00ee" stroke-width="1.05" stroke-linejoin="round" stroke-linecap="round"/>
<polyline points="467.5,251 467.2,250.2 466.8,249 466.9,249.2 466.6,248.4 465.9,247.9 465.7,247.6 465.5,248.4 466.1,247.5 465.2,246.6 465.7,246.1 466.1,245.9 466.2,245.7 465.2,246.1 464.6,246.1" fill="none" stroke="#2900e5" stroke-width="1.05" stroke-linejoin="round" stroke-linecap="round"/>
<polyline points="464.6,246.1 464.5,247.2 464.6,246.8 462.4,246.9 459.8,247.4 460.3,246.4 460.6,245.9 461.4,245.4 460.3,245 460.2,244.4 461.7,244.4 462.5,244.5 461.5,244.2 460.3,244.9 460.7,245.2" fill="none" stroke="#3100dd" stroke-width="1.05" stroke-linejoin="round" stroke-linecap="round"/>
<polyline points="460.7,245.2 459.4,245.6 458.4,243.6 458.1,242.7 457.3,243.3 456.8,243.7 457.8,244.9 458.6,245.3 458.2,246.9 457.1,247.2 456.8,247.3 456.8,247.4 457,246.6 456.8,245.9 457.1,246.8" fill="none" stroke="#3100dd" stroke-width="1.05" stroke-linejoin="round" stroke-linecap="round"/>
<polyline points="457.1,246.8 456.3,246.4 455.7,247 454,246.2 454.5,246.3 453.3,244.8 452.8,244 452.9,244.6 454.4,244.3 454.6,244.1 453.6,244.8 452.8,247 452.8,246.8 454.7,246.7 454.1,247.2" fill="none" stroke="#3000de" stroke-width="1.05" stroke-linejoin="round" stroke-linecap="round"/>
<polyline points="454.1,247.2 453.4,248.2 454.3,247.6 453.7,247.9 452.6,247.4 452.4,247.4 452.8,248.8 453,249.6 452.4,249.6 452.9,250.5 452.9,251.4 452.9,250.8 453.3,250.9 452.1,252 452.7,252.9" fill="none" stroke="#2000ea" stroke-width="1.05" stroke-linejoin="round" stroke-linecap="round"/>
<polyline points="452.7,252.9 452.6,254.3 453.2,255.1 452.9,254.8 454.1,254.9 454.2,256.1 455.2,256.2 456.6,255 456.3,254.8 457.2,256.3 456.5,256.5 457,257 456.9,257.8 458.1,257.9 456.8,257.8" fill="none" stroke="#0000fe" stroke-width="1.05" stroke-linejoin="round" stroke-linecap="round"/>
<polyline points="456.8,257.8 456.5,257.6 456.7,258.3 457.1,258.7 457,258 456.4,257.6 456.3,257.8 456.1,258.6 455.6,259.6 456.2,259.1 457,259.1 456,259.2 454.8,259.8 455.7,258.9 455.8,259.8" fill="none" stroke="#0000ff" stroke-width="1.05" stroke-linejoin="round" stroke-linecap="round"/>
<polyline points="455.8,259.8 456,260.7 456.1,260.6 456.4,261.2 456.6,261.7 456,261.9 456.1,263 454.2,262.1 452.8,262 452.4,262.5 452.2,263.8 451.9,263.4 451.4,263.4 451.7,263.3 451.1,262.6" fill="none" stroke="#0000ff" stroke-width="1.05" stroke-linejoin="round" stroke-linecap="round"/>
<polyline points="451.1,262.6 451.4,262.7 450.8,263 451.3,265 452.6,264.5 452.1,263.4 450.5,262.5 451.4,263.1 450.4,263.2 450.4,263.3 451.9,262.4 451.7,263.3 452.3,262.2 452.6,262 452.4,261.6" fill="none" stroke="#0000ff" stroke-width="1.05" stroke-linejoin="round" stroke-linecap="round"/>
<polyline points="452.4,261.6 453.3,264.9 454.2,265 453,266 454.2,265.4 455.1,264.3 454.2,264.9 453.4,265.9 454.9,266.2 455.5,267.6 456.1,268.6 457.4,267.6 459,268.5 458.9,269 459,269" fill="none" stroke="#0000ff" stroke-width="1.05" stroke-linejoin="round" stroke-linecap="round"/>
<polyline points="459,269 458.1,268.5 457.9,269.1 458.4,269.1 458.4,269.8 456.6,268.6 457.8,268 458.5,268.9 459.3,267.4 459.2,266.3 459.7,267 459.6,267.2 459.6,268.3 459.9,268 460.5,268.3" fill="none" stroke="#0000ff" stroke-width="1.05" stroke-linejoin="round" stroke-linecap="round"/>
<polyline points="460.5,268.3 461.1,267.7 461.2,267.6 461.7,266.8 461.2,266.2 461.7,265.5 460.9,265 460.7,265.2 460.6,264.5 462.3,264.6 461.6,265.2 461.5,264.2 462.2,262.8 462.2,263.1 462.9,262.4" fill="none" stroke="#0000ff" stroke-width="1.05" stroke-linejoin="round" stroke-linecap="round"/>
<polyline points="462.9,262.4 462.6,262.2 463.6,260.7 464.2,260.9 465.1,260 465.8,259.5 465.7,259.4 463.6,259.5 464,260.4 463.6,259.5 464.4,259.4 465.3,260.6 465.1,260.3 464.7,258.7 464.8,259.3" fill="none" stroke="#0000ff" stroke-width="1.05" stroke-linejoin="round" stroke-linecap="round"/>
<polyline points="464.8,259.3 465.8,259.3 467.2,258.8 467,258.4 466.6,258.1 466,257.8 466.3,257.9 465.6,258.3 465.1,258.6 465.3,257.2 464.6,258.2 464.4,257.8 464.3,258.1 464.9,258.1 466.3,258" fill="none" stroke="#0000ff" stroke-width="1.05" stroke-linejoin="round" stroke-linecap="round"/>
<polyline points="466.3,258 465.8,258.2 465.8,259.6 467.5,259.5 467,260.2 466.5,261 465.4,261.6 463.5,261.9 464.1,263.6 463.3,263.6 463.9,262.5 464.1,261.6 463.3,260.4 463.3,259.7 461.9,260.2" fill="none" stroke="#0000ff" stroke-width="1.05" stroke-linejoin="round" stroke-linecap="round"/>
<polyline points="461.9,260.2 461.1,261 462,260.5 461.3,260 461,260.1 461.5,262.3 460.7,261.9 462,262.8 463.7,262.1 464.8,260 464.8,261.3 465.6,260.6 465.1,259.5 464.8,259.2 465.3,259.5" fill="none" stroke="#0000ff" stroke-width="1.05" stroke-linejoin="round" stroke-linecap="round"/>
<polyline points="465.3,259.5 466,260.3 465.8,262.5 466.9,261.9 467.9,263.2 468.8,264 467.1,264.1 465.2,263.4 464.9,265 465.3,265.5 466.1,265.1 467.1,265.8 466.4,265.7 466.2,266.6 467.4,266.7" fill="none" stroke="#0000ff" stroke-width="1.05" stroke-linejoin="round" stroke-linecap="round"/>
<polyline points="467.4,266.7 467.1,268.5 469.5,270 469.2,269.6 469.3,269.9 468.2,270.9 469.8,270.2 468.6,269.8 467.2,270.6 465.8,271.2 466.1,271.8 464.9,271.9 465.2,272.6 465.5,272 466.4,273.2" fill="none" stroke="#0000ff" stroke-width="1.05" stroke-linejoin="round" stroke-linecap="round"/>
<polyline points="466.4,273.2 467.3,272.5 467.4,271.8 467,272.6 465.7,274.9 466.7,274.1 466.2,274 466.1,273 466.1,272 465.7,273.8 465.8,273.7 467.2,274.1 467.7,273.8 468.5,273.8 469,274.6" fill="none" stroke="#0000ff" stroke-width="1.05" stroke-linejoin="round" stroke-linecap="round"/>
<polyline points="469,274.6 470.2,275.6 469.8,274.9 469.3,274.6 470.3,274.5 468.1,275.2 468.8,274.8 469.4,274.1 469.4,274.6 469.6,275.4 469,276.4 468.5,276.6 469.7,275.9 469.6,277.3 470.5,276.6" fill="none" stroke="#0000ff" stroke-width="1.05" stroke-linejoin="round" stroke-linecap="round"/>
<polyline points="470.5,276.6 469.8,277 469.1,276.8 468,277.1 466.9,276.9 467.7,276.1 466.7,274.8 465.5,276.2 464.5,274.8 465.5,274.7 466.8,275.5 467.5,275.1 467.3,274.6 468.3,274.8 468.9,273" fill="none" stroke="#0000ff" stroke-width="1.05" stroke-linejoin="round" stroke-linecap="round"/>
<polyline points="468.9,273 468.3,272.3 467.9,271.4 468.6,272.3 470.1,271.7 469.9,271.6 469.8,270.8 470.3,269.1 469.8,267.8 470.2,267 469.2,267.4 468.4,267.9 468.3,269.6 467.6,268.8 468.4,268.9" fill="none" stroke="#0000ff" stroke-width="1.05" stroke-linejoin="round" stroke-linecap="round"/>
<polyline points="468.4,268.9 469,268.5 469.9,268.7 471,267.4 471.1,267.3 471.3,266.5 471.8,265.5 472.3,266.1 470.6,266.4 469.1,266.8 468.1,266.6 468.4,265.2 467.4,265.7 467.7,266.5 468.4,268.6" fill="none" stroke="#0000ff" stroke-width="1.05" stroke-linejoin="round" stroke-linecap="round"/>
<polyline points="468.4,268.6 469.1,269.5 470,268.9 470.9,267.7 470.7,268.6 471,267.2 471.9,266.2 472.3,266.9 473.7,268 474.7,268 475.2,267.8 475.2,269.1 475.2,269.7 475.2,269.9 473,269.1" fill="none" stroke="#0000ff" stroke-width="1.05" stroke-linejoin="round" stroke-linecap="round"/>
<polyline points="473,269.1 473.1,269.6 474.9,268.3 475.1,268.4 475.7,267.8 476.8,266.2 478.3,266.3 476,265.3 476.3,267 476.7,265.4 478.2,265.5 478.4,266.2 478.4,265.8 479.5,266 480.4,265.4" fill="none" stroke="#0000ff" stroke-width="1.05" stroke-linejoin="round" stroke-linecap="round"/>
<polyline points="480.4,265.4 481.8,264.1 480.6,264.6 480.5,264.7 480.7,264.6 481,264.2 481.1,264.1 481.1,264 481.2,263.9 481.2,263.9 481.2,263.9" fill="none" stroke="#0000ff" stroke-width="1.05" stroke-linejoin="round" stroke-linecap="round"/>
<circle cx="572.5" cy="102.8" r="3.4" fill="#ffa500"/>
<circle cx="481.3" cy="263.9" r="3.3" fill="#008000"/>
<circle cx="640.3" cy="16.5" r="3.5" fill="#ffa500"/>
<circle cx="640.3" cy="32.8" r="3.5" fill="#008000"/>
<text x="660.9" y="19.9" font-size="11">Start</text>
<text x="661.1" y="35.7" font-size="11">End</text>
</svg></body></html>
